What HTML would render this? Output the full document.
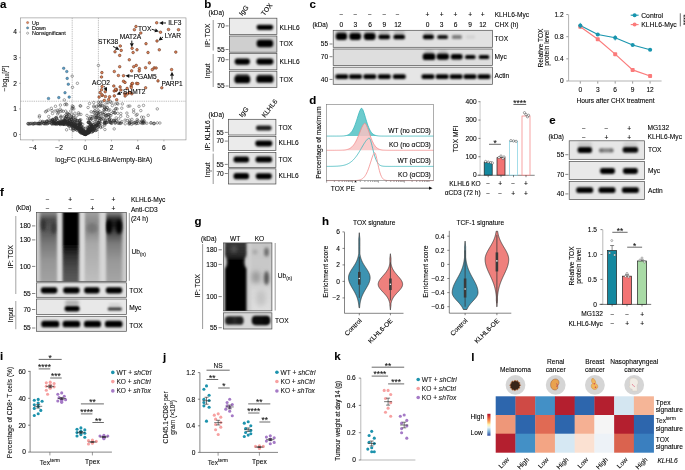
<!DOCTYPE html>
<html><head><meta charset="utf-8"><title>Figure</title>
<style>html,body{margin:0;padding:0;background:#fff;}body{width:685px;height:470px;overflow:hidden;}svg{display:block;filter:blur(0.4px);}text{font-family:"Liberation Sans",sans-serif;stroke:#111;stroke-width:0.1px;}</style>
</head><body>
<svg width="685" height="470" viewBox="0 0 685 470" font-family='"Liberation Sans", sans-serif'>
<defs><filter id="b1" x="-50%" y="-50%" width="200%" height="200%"><feGaussianBlur stdDeviation="1.05"/></filter><filter id="b2" x="-50%" y="-50%" width="200%" height="200%"><feGaussianBlur stdDeviation="1.6"/></filter><filter id="b3" x="-50%" y="-50%" width="200%" height="200%"><feGaussianBlur stdDeviation="2.6"/></filter><marker id="ah" viewBox="0 0 10 10" refX="9" refY="5" markerWidth="4" markerHeight="4" orient="auto-start-reverse"><path d="M0,0 L10,5 L0,10 z" fill="#111"/></marker></defs>
<rect x="0.00" y="0.00" width="685.00" height="470.00" fill="#fff"/>
<text x="0.00" y="7.70" font-size="11.5" font-weight="bold" fill="#000">a</text>
<line x1="72.20" y1="17.90" x2="72.20" y2="139.90" stroke="#8a8a8a" stroke-width="0.55" stroke-dasharray="1.3,0.9"/>
<line x1="98.40" y1="17.90" x2="98.40" y2="139.90" stroke="#8a8a8a" stroke-width="0.55" stroke-dasharray="1.3,0.9"/>
<line x1="20.50" y1="101.22" x2="186.00" y2="101.22" stroke="#8a8a8a" stroke-width="0.55" stroke-dasharray="1.3,0.9"/>
<g fill="none" stroke="#2a2a2a" stroke-width="0.42">
<circle cx="90.1" cy="128.2" r="1.25"/>
<circle cx="75.3" cy="119.6" r="1.25"/>
<circle cx="86.8" cy="133.1" r="1.25"/>
<circle cx="64.8" cy="104.6" r="1.25"/>
<circle cx="68.9" cy="126.3" r="1.25"/>
<circle cx="92.4" cy="124.5" r="1.25"/>
<circle cx="79.0" cy="114.2" r="1.25"/>
<circle cx="77.7" cy="128.5" r="1.25"/>
<circle cx="71.9" cy="126.1" r="1.25"/>
<circle cx="77.5" cy="122.7" r="1.25"/>
<circle cx="92.7" cy="118.0" r="1.25"/>
<circle cx="113.0" cy="112.4" r="1.25"/>
<circle cx="89.7" cy="132.5" r="1.25"/>
<circle cx="91.2" cy="111.8" r="1.25"/>
<circle cx="87.0" cy="133.4" r="1.25"/>
<circle cx="106.2" cy="109.4" r="1.25"/>
<circle cx="81.4" cy="129.7" r="1.25"/>
<circle cx="83.3" cy="130.9" r="1.25"/>
<circle cx="97.9" cy="125.2" r="1.25"/>
<circle cx="90.9" cy="125.0" r="1.25"/>
<circle cx="95.8" cy="117.6" r="1.25"/>
<circle cx="98.7" cy="126.5" r="1.25"/>
<circle cx="88.1" cy="107.5" r="1.25"/>
<circle cx="92.1" cy="128.8" r="1.25"/>
<circle cx="92.1" cy="116.7" r="1.25"/>
<circle cx="68.8" cy="118.7" r="1.25"/>
<circle cx="81.2" cy="123.7" r="1.25"/>
<circle cx="88.4" cy="130.3" r="1.25"/>
<circle cx="96.5" cy="107.3" r="1.25"/>
<circle cx="66.1" cy="103.9" r="1.25"/>
<circle cx="88.9" cy="128.7" r="1.25"/>
<circle cx="81.5" cy="130.4" r="1.25"/>
<circle cx="91.7" cy="125.2" r="1.25"/>
<circle cx="92.8" cy="122.8" r="1.25"/>
<circle cx="104.9" cy="118.0" r="1.25"/>
<circle cx="77.5" cy="120.7" r="1.25"/>
<circle cx="108.4" cy="114.5" r="1.25"/>
<circle cx="66.2" cy="114.7" r="1.25"/>
<circle cx="86.3" cy="133.3" r="1.25"/>
<circle cx="91.9" cy="126.5" r="1.25"/>
<circle cx="68.7" cy="114.0" r="1.25"/>
<circle cx="86.8" cy="133.7" r="1.25"/>
<circle cx="80.7" cy="106.0" r="1.25"/>
<circle cx="90.9" cy="128.8" r="1.25"/>
<circle cx="87.4" cy="132.0" r="1.25"/>
<circle cx="90.7" cy="130.7" r="1.25"/>
<circle cx="84.0" cy="130.7" r="1.25"/>
<circle cx="79.8" cy="131.7" r="1.25"/>
<circle cx="84.8" cy="134.0" r="1.25"/>
<circle cx="94.6" cy="127.9" r="1.25"/>
<circle cx="95.1" cy="110.8" r="1.25"/>
<circle cx="54.3" cy="120.7" r="1.25"/>
<circle cx="100.7" cy="127.5" r="1.25"/>
<circle cx="104.7" cy="125.2" r="1.25"/>
<circle cx="72.5" cy="125.1" r="1.25"/>
<circle cx="64.7" cy="121.0" r="1.25"/>
<circle cx="90.6" cy="128.8" r="1.25"/>
<circle cx="102.4" cy="105.7" r="1.25"/>
<circle cx="99.2" cy="121.1" r="1.25"/>
<circle cx="82.3" cy="133.0" r="1.25"/>
<circle cx="72.3" cy="106.0" r="1.25"/>
<circle cx="81.2" cy="131.2" r="1.25"/>
<circle cx="85.4" cy="134.4" r="1.25"/>
<circle cx="90.0" cy="130.3" r="1.25"/>
<circle cx="57.3" cy="110.3" r="1.25"/>
<circle cx="67.1" cy="113.0" r="1.25"/>
<circle cx="71.4" cy="119.4" r="1.25"/>
<circle cx="93.7" cy="102.5" r="1.25"/>
<circle cx="120.7" cy="116.3" r="1.25"/>
<circle cx="89.0" cy="129.4" r="1.25"/>
<circle cx="70.8" cy="111.0" r="1.25"/>
<circle cx="85.9" cy="132.9" r="1.25"/>
<circle cx="117.9" cy="104.0" r="1.25"/>
<circle cx="94.8" cy="112.7" r="1.25"/>
<circle cx="88.9" cy="129.9" r="1.25"/>
<circle cx="78.5" cy="112.8" r="1.25"/>
<circle cx="73.6" cy="115.9" r="1.25"/>
<circle cx="93.8" cy="105.9" r="1.25"/>
<circle cx="85.3" cy="134.4" r="1.25"/>
<circle cx="79.0" cy="130.7" r="1.25"/>
<circle cx="89.5" cy="125.9" r="1.25"/>
<circle cx="94.4" cy="128.1" r="1.25"/>
<circle cx="93.7" cy="124.6" r="1.25"/>
<circle cx="72.1" cy="108.1" r="1.25"/>
<circle cx="96.1" cy="125.3" r="1.25"/>
<circle cx="114.4" cy="120.5" r="1.25"/>
<circle cx="76.2" cy="121.0" r="1.25"/>
<circle cx="79.8" cy="120.2" r="1.25"/>
<circle cx="87.9" cy="118.8" r="1.25"/>
<circle cx="82.0" cy="131.2" r="1.25"/>
<circle cx="91.8" cy="126.0" r="1.25"/>
<circle cx="95.2" cy="115.2" r="1.25"/>
<circle cx="79.8" cy="130.2" r="1.25"/>
<circle cx="86.0" cy="133.6" r="1.25"/>
<circle cx="87.0" cy="132.8" r="1.25"/>
<circle cx="80.4" cy="128.8" r="1.25"/>
<circle cx="102.9" cy="114.0" r="1.25"/>
<circle cx="94.3" cy="130.2" r="1.25"/>
<circle cx="89.9" cy="126.6" r="1.25"/>
<circle cx="84.4" cy="134.2" r="1.25"/>
<circle cx="75.6" cy="125.2" r="1.25"/>
<circle cx="73.3" cy="106.7" r="1.25"/>
<circle cx="73.8" cy="108.9" r="1.25"/>
<circle cx="81.1" cy="131.1" r="1.25"/>
<circle cx="84.1" cy="130.5" r="1.25"/>
<circle cx="97.7" cy="112.2" r="1.25"/>
<circle cx="80.5" cy="125.7" r="1.25"/>
<circle cx="89.2" cy="130.4" r="1.25"/>
<circle cx="76.0" cy="122.7" r="1.25"/>
<circle cx="76.4" cy="127.4" r="1.25"/>
<circle cx="106.1" cy="115.4" r="1.25"/>
<circle cx="72.4" cy="120.0" r="1.25"/>
<circle cx="87.9" cy="127.7" r="1.25"/>
<circle cx="83.6" cy="133.5" r="1.25"/>
<circle cx="87.1" cy="131.2" r="1.25"/>
<circle cx="104.0" cy="112.2" r="1.25"/>
<circle cx="85.6" cy="133.5" r="1.25"/>
<circle cx="96.7" cy="113.6" r="1.25"/>
<circle cx="80.8" cy="131.7" r="1.25"/>
<circle cx="88.6" cy="132.6" r="1.25"/>
<circle cx="102.4" cy="126.8" r="1.25"/>
<circle cx="75.6" cy="128.8" r="1.25"/>
<circle cx="87.5" cy="133.2" r="1.25"/>
<circle cx="89.3" cy="131.7" r="1.25"/>
<circle cx="66.8" cy="104.7" r="1.25"/>
<circle cx="81.1" cy="131.1" r="1.25"/>
<circle cx="67.8" cy="121.3" r="1.25"/>
<circle cx="90.6" cy="116.5" r="1.25"/>
<circle cx="100.3" cy="116.6" r="1.25"/>
<circle cx="64.7" cy="115.9" r="1.25"/>
<circle cx="113.8" cy="110.8" r="1.25"/>
<circle cx="70.5" cy="128.6" r="1.25"/>
<circle cx="93.2" cy="127.0" r="1.25"/>
<circle cx="121.8" cy="108.2" r="1.25"/>
<circle cx="69.2" cy="120.5" r="1.25"/>
<circle cx="93.9" cy="107.0" r="1.25"/>
<circle cx="60.2" cy="109.2" r="1.25"/>
<circle cx="82.7" cy="124.3" r="1.25"/>
<circle cx="98.2" cy="110.3" r="1.25"/>
<circle cx="93.4" cy="131.0" r="1.25"/>
<circle cx="94.7" cy="110.9" r="1.25"/>
<circle cx="90.5" cy="120.1" r="1.25"/>
<circle cx="104.3" cy="106.9" r="1.25"/>
<circle cx="92.9" cy="131.0" r="1.25"/>
<circle cx="110.0" cy="118.5" r="1.25"/>
<circle cx="80.2" cy="126.6" r="1.25"/>
<circle cx="102.1" cy="101.9" r="1.25"/>
<circle cx="106.6" cy="109.8" r="1.25"/>
<circle cx="79.9" cy="124.0" r="1.25"/>
<circle cx="80.9" cy="114.4" r="1.25"/>
<circle cx="79.4" cy="130.8" r="1.25"/>
<circle cx="110.1" cy="121.2" r="1.25"/>
<circle cx="74.8" cy="119.6" r="1.25"/>
<circle cx="65.7" cy="120.9" r="1.25"/>
<circle cx="89.1" cy="132.6" r="1.25"/>
<circle cx="93.3" cy="112.3" r="1.25"/>
<circle cx="108.8" cy="122.0" r="1.25"/>
<circle cx="89.6" cy="131.6" r="1.25"/>
<circle cx="82.9" cy="132.9" r="1.25"/>
<circle cx="89.0" cy="132.1" r="1.25"/>
<circle cx="80.6" cy="132.5" r="1.25"/>
<circle cx="104.9" cy="129.5" r="1.25"/>
<circle cx="93.6" cy="124.7" r="1.25"/>
<circle cx="114.2" cy="128.9" r="1.25"/>
<circle cx="89.7" cy="123.2" r="1.25"/>
<circle cx="86.3" cy="132.0" r="1.25"/>
<circle cx="96.3" cy="121.9" r="1.25"/>
<circle cx="87.5" cy="132.9" r="1.25"/>
<circle cx="105.7" cy="122.6" r="1.25"/>
<circle cx="80.0" cy="126.6" r="1.25"/>
<circle cx="101.3" cy="119.1" r="1.25"/>
<circle cx="76.6" cy="127.1" r="1.25"/>
<circle cx="81.4" cy="128.8" r="1.25"/>
<circle cx="93.2" cy="131.0" r="1.25"/>
<circle cx="77.3" cy="128.8" r="1.25"/>
<circle cx="106.9" cy="102.3" r="1.25"/>
<circle cx="84.9" cy="134.1" r="1.25"/>
<circle cx="72.9" cy="130.1" r="1.25"/>
<circle cx="82.2" cy="131.2" r="1.25"/>
<circle cx="81.2" cy="125.9" r="1.25"/>
<circle cx="93.3" cy="128.6" r="1.25"/>
<circle cx="100.6" cy="126.7" r="1.25"/>
<circle cx="89.9" cy="128.2" r="1.25"/>
<circle cx="108.4" cy="117.1" r="1.25"/>
<circle cx="89.5" cy="119.1" r="1.25"/>
<circle cx="104.9" cy="104.9" r="1.25"/>
<circle cx="78.6" cy="128.4" r="1.25"/>
<circle cx="115.1" cy="113.0" r="1.25"/>
<circle cx="90.9" cy="126.3" r="1.25"/>
<circle cx="97.8" cy="127.2" r="1.25"/>
<circle cx="79.6" cy="129.9" r="1.25"/>
<circle cx="89.3" cy="131.3" r="1.25"/>
<circle cx="94.2" cy="115.9" r="1.25"/>
<circle cx="87.2" cy="131.7" r="1.25"/>
<circle cx="88.0" cy="132.5" r="1.25"/>
<circle cx="47.3" cy="123.5" r="1.25"/>
<circle cx="72.5" cy="108.4" r="1.25"/>
<circle cx="104.7" cy="121.4" r="1.25"/>
<circle cx="92.2" cy="131.2" r="1.25"/>
<circle cx="89.2" cy="132.5" r="1.25"/>
<circle cx="107.4" cy="122.2" r="1.25"/>
<circle cx="88.3" cy="127.8" r="1.25"/>
<circle cx="78.8" cy="124.1" r="1.25"/>
<circle cx="111.3" cy="113.6" r="1.25"/>
<circle cx="79.3" cy="120.6" r="1.25"/>
<circle cx="63.2" cy="111.3" r="1.25"/>
<circle cx="98.3" cy="117.4" r="1.25"/>
<circle cx="86.3" cy="133.1" r="1.25"/>
<circle cx="99.4" cy="120.4" r="1.25"/>
<circle cx="74.9" cy="113.2" r="1.25"/>
<circle cx="73.2" cy="127.9" r="1.25"/>
<circle cx="79.0" cy="128.3" r="1.25"/>
<circle cx="83.5" cy="132.8" r="1.25"/>
<circle cx="75.7" cy="124.7" r="1.25"/>
<circle cx="98.1" cy="122.7" r="1.25"/>
<circle cx="96.8" cy="129.4" r="1.25"/>
<circle cx="90.2" cy="129.7" r="1.25"/>
<circle cx="104.7" cy="107.8" r="1.25"/>
<circle cx="80.9" cy="128.3" r="1.25"/>
<circle cx="88.6" cy="122.3" r="1.25"/>
<circle cx="79.9" cy="120.2" r="1.25"/>
<circle cx="108.0" cy="102.8" r="1.25"/>
<circle cx="80.5" cy="129.2" r="1.25"/>
<circle cx="86.0" cy="133.7" r="1.25"/>
<circle cx="87.0" cy="115.4" r="1.25"/>
<circle cx="84.3" cy="133.5" r="1.25"/>
<circle cx="105.5" cy="114.2" r="1.25"/>
<circle cx="99.6" cy="105.9" r="1.25"/>
<circle cx="65.6" cy="118.1" r="1.25"/>
<circle cx="101.6" cy="117.0" r="1.25"/>
<circle cx="96.6" cy="130.2" r="1.25"/>
<circle cx="93.2" cy="128.7" r="1.25"/>
<circle cx="68.8" cy="114.4" r="1.25"/>
<circle cx="97.1" cy="117.7" r="1.25"/>
<circle cx="89.9" cy="131.0" r="1.25"/>
<circle cx="98.4" cy="102.2" r="1.25"/>
<circle cx="105.0" cy="120.7" r="1.25"/>
<circle cx="82.6" cy="131.8" r="1.25"/>
<circle cx="88.8" cy="132.1" r="1.25"/>
<circle cx="100.9" cy="123.6" r="1.25"/>
<circle cx="84.0" cy="133.3" r="1.25"/>
<circle cx="72.3" cy="126.6" r="1.25"/>
<circle cx="74.9" cy="122.2" r="1.25"/>
<circle cx="102.3" cy="112.7" r="1.25"/>
<circle cx="91.0" cy="118.9" r="1.25"/>
<circle cx="115.2" cy="104.0" r="1.25"/>
<circle cx="55.1" cy="111.0" r="1.25"/>
<circle cx="81.8" cy="132.0" r="1.25"/>
<circle cx="95.9" cy="118.2" r="1.25"/>
<circle cx="69.1" cy="120.3" r="1.25"/>
<circle cx="82.8" cy="127.9" r="1.25"/>
<circle cx="94.9" cy="126.2" r="1.25"/>
<circle cx="79.8" cy="124.1" r="1.25"/>
<circle cx="92.5" cy="129.9" r="1.25"/>
<circle cx="72.5" cy="87.3" r="1.25"/>
<circle cx="117.1" cy="103.3" r="1.25"/>
<circle cx="81.6" cy="130.9" r="1.25"/>
<circle cx="85.4" cy="134.3" r="1.25"/>
<circle cx="65.7" cy="111.1" r="1.25"/>
<circle cx="100.4" cy="106.2" r="1.25"/>
<circle cx="92.8" cy="128.5" r="1.25"/>
<circle cx="77.7" cy="120.8" r="1.25"/>
<circle cx="110.6" cy="101.8" r="1.25"/>
<circle cx="99.2" cy="124.6" r="1.25"/>
<circle cx="83.5" cy="131.2" r="1.25"/>
<circle cx="98.9" cy="118.7" r="1.25"/>
<circle cx="80.8" cy="119.8" r="1.25"/>
<circle cx="77.2" cy="126.9" r="1.25"/>
<circle cx="109.8" cy="109.8" r="1.25"/>
<circle cx="82.5" cy="131.8" r="1.25"/>
<circle cx="98.2" cy="113.0" r="1.25"/>
<circle cx="83.2" cy="133.5" r="1.25"/>
<circle cx="87.8" cy="133.1" r="1.25"/>
<circle cx="97.0" cy="116.4" r="1.25"/>
<circle cx="98.0" cy="113.3" r="1.25"/>
<circle cx="77.0" cy="128.4" r="1.25"/>
<circle cx="91.9" cy="128.2" r="1.25"/>
<circle cx="95.6" cy="130.5" r="1.25"/>
<circle cx="95.3" cy="126.1" r="1.25"/>
<circle cx="75.3" cy="124.6" r="1.25"/>
<circle cx="84.1" cy="133.3" r="1.25"/>
<circle cx="91.8" cy="118.9" r="1.25"/>
<circle cx="86.0" cy="133.8" r="1.25"/>
<circle cx="96.4" cy="117.9" r="1.25"/>
<circle cx="89.5" cy="118.4" r="1.25"/>
<circle cx="88.1" cy="128.2" r="1.25"/>
<circle cx="91.9" cy="129.0" r="1.25"/>
<circle cx="86.4" cy="134.0" r="1.25"/>
<circle cx="86.2" cy="133.3" r="1.25"/>
<circle cx="98.5" cy="122.7" r="1.25"/>
<circle cx="128.1" cy="106.2" r="1.25"/>
<circle cx="120.8" cy="113.5" r="1.25"/>
<circle cx="82.5" cy="132.7" r="1.25"/>
<circle cx="85.9" cy="133.1" r="1.25"/>
<circle cx="95.8" cy="124.4" r="1.25"/>
<circle cx="104.0" cy="109.5" r="1.25"/>
<circle cx="88.6" cy="129.2" r="1.25"/>
<circle cx="87.4" cy="133.2" r="1.25"/>
<circle cx="108.6" cy="110.4" r="1.25"/>
<circle cx="73.6" cy="128.7" r="1.25"/>
<circle cx="89.1" cy="122.4" r="1.25"/>
<circle cx="91.5" cy="127.6" r="1.25"/>
<circle cx="117.1" cy="108.9" r="1.25"/>
<circle cx="75.5" cy="118.5" r="1.25"/>
<circle cx="68.0" cy="124.9" r="1.25"/>
<circle cx="91.9" cy="132.3" r="1.25"/>
<circle cx="97.7" cy="126.7" r="1.25"/>
<circle cx="77.9" cy="125.2" r="1.25"/>
<circle cx="90.0" cy="131.0" r="1.25"/>
<circle cx="84.4" cy="133.9" r="1.25"/>
<circle cx="100.5" cy="102.0" r="1.25"/>
<circle cx="84.5" cy="132.4" r="1.25"/>
<circle cx="90.2" cy="129.5" r="1.25"/>
<circle cx="88.4" cy="122.0" r="1.25"/>
<circle cx="96.7" cy="125.8" r="1.25"/>
<circle cx="93.6" cy="127.8" r="1.25"/>
<circle cx="75.7" cy="119.9" r="1.25"/>
<circle cx="76.8" cy="115.8" r="1.25"/>
<circle cx="96.5" cy="124.8" r="1.25"/>
<circle cx="89.1" cy="128.8" r="1.25"/>
<circle cx="98.7" cy="124.0" r="1.25"/>
<circle cx="81.7" cy="131.3" r="1.25"/>
<circle cx="81.9" cy="130.3" r="1.25"/>
<circle cx="109.7" cy="115.3" r="1.25"/>
<circle cx="104.9" cy="124.1" r="1.25"/>
<circle cx="98.6" cy="104.8" r="1.25"/>
<circle cx="100.7" cy="104.9" r="1.25"/>
<circle cx="87.5" cy="130.9" r="1.25"/>
<circle cx="105.7" cy="116.1" r="1.25"/>
<circle cx="89.9" cy="129.4" r="1.25"/>
<circle cx="58.1" cy="111.2" r="1.25"/>
<circle cx="89.5" cy="103.5" r="1.25"/>
<circle cx="89.3" cy="130.7" r="1.25"/>
<circle cx="91.5" cy="130.0" r="1.25"/>
<circle cx="87.1" cy="132.6" r="1.25"/>
<circle cx="66.9" cy="117.0" r="1.25"/>
<circle cx="57.7" cy="113.9" r="1.25"/>
<circle cx="111.5" cy="102.6" r="1.25"/>
<circle cx="73.4" cy="130.4" r="1.25"/>
<circle cx="80.9" cy="128.1" r="1.25"/>
<circle cx="73.5" cy="127.6" r="1.25"/>
<circle cx="86.9" cy="133.4" r="1.25"/>
<circle cx="89.0" cy="132.3" r="1.25"/>
<circle cx="103.9" cy="114.7" r="1.25"/>
<circle cx="107.2" cy="107.8" r="1.25"/>
<circle cx="83.8" cy="132.8" r="1.25"/>
<circle cx="96.7" cy="125.0" r="1.25"/>
<circle cx="70.6" cy="117.5" r="1.25"/>
<circle cx="114.4" cy="112.7" r="1.25"/>
<circle cx="95.6" cy="130.3" r="1.25"/>
<circle cx="85.5" cy="134.4" r="1.25"/>
<circle cx="115.4" cy="109.1" r="1.25"/>
<circle cx="96.6" cy="106.3" r="1.25"/>
<circle cx="55.5" cy="106.3" r="1.25"/>
<circle cx="80.9" cy="132.9" r="1.25"/>
<circle cx="86.0" cy="134.0" r="1.25"/>
<circle cx="82.6" cy="133.3" r="1.25"/>
<circle cx="79.6" cy="121.4" r="1.25"/>
<circle cx="82.1" cy="132.7" r="1.25"/>
<circle cx="89.8" cy="122.8" r="1.25"/>
<circle cx="75.2" cy="128.5" r="1.25"/>
<circle cx="89.6" cy="122.6" r="1.25"/>
<circle cx="81.5" cy="133.1" r="1.25"/>
<circle cx="87.5" cy="133.3" r="1.25"/>
<circle cx="82.7" cy="132.4" r="1.25"/>
<circle cx="84.5" cy="133.9" r="1.25"/>
<circle cx="83.9" cy="132.3" r="1.25"/>
<circle cx="84.5" cy="132.1" r="1.25"/>
<circle cx="94.1" cy="128.9" r="1.25"/>
<circle cx="76.7" cy="129.7" r="1.25"/>
<circle cx="83.5" cy="133.9" r="1.25"/>
<circle cx="80.4" cy="123.7" r="1.25"/>
<circle cx="96.0" cy="115.8" r="1.25"/>
<circle cx="91.2" cy="128.5" r="1.25"/>
<circle cx="75.0" cy="123.3" r="1.25"/>
<circle cx="111.6" cy="122.5" r="1.25"/>
<circle cx="101.3" cy="105.8" r="1.25"/>
<circle cx="89.9" cy="126.8" r="1.25"/>
<circle cx="94.9" cy="129.1" r="1.25"/>
<circle cx="81.8" cy="131.2" r="1.25"/>
<circle cx="69.4" cy="125.7" r="1.25"/>
<circle cx="86.7" cy="132.4" r="1.25"/>
<circle cx="90.6" cy="128.8" r="1.25"/>
<circle cx="85.1" cy="134.2" r="1.25"/>
<circle cx="92.5" cy="131.3" r="1.25"/>
<circle cx="83.5" cy="132.7" r="1.25"/>
<circle cx="80.4" cy="131.1" r="1.25"/>
<circle cx="80.9" cy="128.8" r="1.25"/>
<circle cx="75.2" cy="124.4" r="1.25"/>
<circle cx="126.9" cy="113.1" r="1.25"/>
<circle cx="97.0" cy="125.4" r="1.25"/>
<circle cx="87.0" cy="133.7" r="1.25"/>
<circle cx="96.5" cy="125.7" r="1.25"/>
<circle cx="116.2" cy="117.9" r="1.25"/>
<circle cx="86.7" cy="133.5" r="1.25"/>
<circle cx="88.5" cy="122.6" r="1.25"/>
<circle cx="101.0" cy="113.5" r="1.25"/>
<circle cx="95.1" cy="125.0" r="1.25"/>
<circle cx="66.6" cy="129.8" r="1.25"/>
<circle cx="93.7" cy="127.0" r="1.25"/>
<circle cx="75.6" cy="129.2" r="1.25"/>
<circle cx="100.0" cy="111.9" r="1.25"/>
<circle cx="105.2" cy="108.4" r="1.25"/>
<circle cx="80.4" cy="131.6" r="1.25"/>
<circle cx="79.3" cy="131.6" r="1.25"/>
<circle cx="68.1" cy="117.3" r="1.25"/>
<circle cx="104.5" cy="122.5" r="1.25"/>
<circle cx="95.5" cy="119.5" r="1.25"/>
<circle cx="66.3" cy="116.5" r="1.25"/>
<circle cx="104.1" cy="110.0" r="1.25"/>
<circle cx="87.6" cy="132.0" r="1.25"/>
<circle cx="81.4" cy="132.5" r="1.25"/>
<circle cx="65.7" cy="118.0" r="1.25"/>
<circle cx="80.1" cy="105.8" r="1.25"/>
<circle cx="98.3" cy="115.4" r="1.25"/>
<circle cx="99.6" cy="123.6" r="1.25"/>
<circle cx="95.0" cy="121.3" r="1.25"/>
<circle cx="72.7" cy="128.6" r="1.25"/>
<circle cx="74.8" cy="125.6" r="1.25"/>
<circle cx="83.8" cy="133.6" r="1.25"/>
<circle cx="84.1" cy="133.8" r="1.25"/>
<circle cx="76.8" cy="130.2" r="1.25"/>
<circle cx="122.3" cy="103.9" r="1.25"/>
<circle cx="106.4" cy="115.5" r="1.25"/>
<circle cx="71.8" cy="123.6" r="1.25"/>
<circle cx="80.8" cy="130.1" r="1.25"/>
<circle cx="63.9" cy="124.4" r="1.25"/>
<circle cx="72.3" cy="124.5" r="1.25"/>
<circle cx="87.0" cy="132.5" r="1.25"/>
<circle cx="77.8" cy="128.1" r="1.25"/>
<circle cx="55.2" cy="123.6" r="1.25"/>
<circle cx="84.9" cy="133.5" r="1.25"/>
<circle cx="54.9" cy="121.9" r="1.25"/>
<circle cx="54.3" cy="122.7" r="1.25"/>
<circle cx="78.4" cy="124.2" r="1.25"/>
<circle cx="74.3" cy="126.0" r="1.25"/>
<circle cx="78.5" cy="127.9" r="1.25"/>
<circle cx="79.5" cy="125.4" r="1.25"/>
<circle cx="81.4" cy="128.3" r="1.25"/>
<circle cx="88.9" cy="129.9" r="1.25"/>
<circle cx="70.8" cy="125.6" r="1.25"/>
<circle cx="73.6" cy="126.0" r="1.25"/>
<circle cx="69.5" cy="124.6" r="1.25"/>
<circle cx="63.5" cy="122.5" r="1.25"/>
<circle cx="65.3" cy="121.1" r="1.25"/>
<circle cx="77.7" cy="125.5" r="1.25"/>
<circle cx="75.4" cy="125.5" r="1.25"/>
<circle cx="90.2" cy="125.2" r="1.25"/>
<circle cx="73.6" cy="117.5" r="1.25"/>
<circle cx="65.2" cy="124.4" r="1.25"/>
<circle cx="57.6" cy="123.6" r="1.25"/>
<circle cx="84.6" cy="132.1" r="1.25"/>
<circle cx="91.8" cy="125.6" r="1.25"/>
<circle cx="79.1" cy="127.1" r="1.25"/>
<circle cx="82.1" cy="128.5" r="1.25"/>
<circle cx="67.6" cy="123.0" r="1.25"/>
<circle cx="63.4" cy="120.3" r="1.25"/>
<circle cx="68.6" cy="118.6" r="1.25"/>
<circle cx="57.6" cy="123.9" r="1.25"/>
<circle cx="77.6" cy="125.5" r="1.25"/>
<circle cx="52.4" cy="119.8" r="1.25"/>
<circle cx="72.3" cy="123.6" r="1.25"/>
<circle cx="86.2" cy="133.5" r="1.25"/>
<circle cx="67.9" cy="124.9" r="1.25"/>
<circle cx="76.5" cy="127.6" r="1.25"/>
<circle cx="75.5" cy="126.6" r="1.25"/>
<circle cx="68.7" cy="124.1" r="1.25"/>
<circle cx="78.2" cy="127.2" r="1.25"/>
<circle cx="71.3" cy="124.1" r="1.25"/>
<circle cx="91.0" cy="124.8" r="1.25"/>
<circle cx="60.2" cy="123.5" r="1.25"/>
<circle cx="65.2" cy="119.8" r="1.25"/>
<circle cx="80.5" cy="122.7" r="1.25"/>
<circle cx="79.1" cy="128.5" r="1.25"/>
<circle cx="80.8" cy="129.6" r="1.25"/>
<circle cx="59.2" cy="123.4" r="1.25"/>
<circle cx="76.3" cy="127.6" r="1.25"/>
<circle cx="64.9" cy="122.8" r="1.25"/>
<circle cx="80.3" cy="122.9" r="1.25"/>
<circle cx="69.6" cy="123.3" r="1.25"/>
<circle cx="61.6" cy="121.7" r="1.25"/>
<circle cx="98.7" cy="122.5" r="1.25"/>
<circle cx="83.2" cy="127.5" r="1.25"/>
<circle cx="78.3" cy="127.5" r="1.25"/>
<circle cx="63.6" cy="124.3" r="1.25"/>
<circle cx="72.0" cy="125.9" r="1.25"/>
<circle cx="71.7" cy="125.4" r="1.25"/>
<circle cx="80.4" cy="129.9" r="1.25"/>
<circle cx="84.0" cy="133.0" r="1.25"/>
<circle cx="78.0" cy="127.4" r="1.25"/>
<circle cx="79.3" cy="129.1" r="1.25"/>
<circle cx="86.3" cy="133.0" r="1.25"/>
<circle cx="63.3" cy="123.8" r="1.25"/>
<circle cx="68.4" cy="124.9" r="1.25"/>
<circle cx="84.0" cy="128.7" r="1.25"/>
<circle cx="88.0" cy="130.2" r="1.25"/>
<circle cx="74.2" cy="126.6" r="1.25"/>
<circle cx="83.5" cy="131.8" r="1.25"/>
<circle cx="81.3" cy="126.5" r="1.25"/>
<circle cx="76.2" cy="120.6" r="1.25"/>
<circle cx="77.0" cy="126.2" r="1.25"/>
<circle cx="83.7" cy="132.7" r="1.25"/>
<circle cx="86.6" cy="131.4" r="1.25"/>
<circle cx="98.1" cy="123.4" r="1.25"/>
<circle cx="71.7" cy="125.3" r="1.25"/>
<circle cx="70.0" cy="122.2" r="1.25"/>
<circle cx="80.1" cy="128.0" r="1.25"/>
<circle cx="76.7" cy="127.2" r="1.25"/>
<circle cx="64.5" cy="120.8" r="1.25"/>
<circle cx="97.8" cy="122.4" r="1.25"/>
<circle cx="72.6" cy="122.3" r="1.25"/>
<circle cx="74.3" cy="125.1" r="1.25"/>
<circle cx="66.4" cy="123.9" r="1.25"/>
<circle cx="77.6" cy="127.5" r="1.25"/>
<circle cx="75.3" cy="126.5" r="1.25"/>
<circle cx="64.4" cy="123.3" r="1.25"/>
<circle cx="61.3" cy="117.2" r="1.25"/>
<circle cx="69.3" cy="124.8" r="1.25"/>
<circle cx="81.1" cy="129.9" r="1.25"/>
<circle cx="79.5" cy="124.0" r="1.25"/>
<circle cx="90.6" cy="125.4" r="1.25"/>
<circle cx="57.8" cy="120.3" r="1.25"/>
<circle cx="77.0" cy="127.8" r="1.25"/>
<circle cx="61.0" cy="120.8" r="1.25"/>
<circle cx="52.9" cy="120.6" r="1.25"/>
<circle cx="67.5" cy="121.5" r="1.25"/>
<circle cx="75.8" cy="126.5" r="1.25"/>
<circle cx="84.7" cy="132.6" r="1.25"/>
<circle cx="51.6" cy="120.8" r="1.25"/>
<circle cx="91.4" cy="128.7" r="1.25"/>
<circle cx="79.5" cy="123.9" r="1.25"/>
<circle cx="79.7" cy="125.7" r="1.25"/>
<circle cx="88.2" cy="122.5" r="1.25"/>
<circle cx="92.4" cy="126.1" r="1.25"/>
<circle cx="66.0" cy="124.5" r="1.25"/>
<circle cx="86.8" cy="132.8" r="1.25"/>
<circle cx="91.6" cy="127.3" r="1.25"/>
<circle cx="71.7" cy="119.7" r="1.25"/>
<circle cx="53.0" cy="119.8" r="1.25"/>
<circle cx="84.5" cy="133.0" r="1.25"/>
<circle cx="74.7" cy="126.3" r="1.25"/>
<circle cx="84.6" cy="131.7" r="1.25"/>
<circle cx="74.1" cy="126.4" r="1.25"/>
<circle cx="87.1" cy="127.0" r="1.25"/>
<circle cx="66.9" cy="123.0" r="1.25"/>
<circle cx="85.2" cy="129.0" r="1.25"/>
<circle cx="51.7" cy="122.2" r="1.25"/>
<circle cx="87.4" cy="130.5" r="1.25"/>
<circle cx="72.6" cy="124.9" r="1.25"/>
<circle cx="74.5" cy="126.4" r="1.25"/>
<circle cx="95.9" cy="126.4" r="1.25"/>
<circle cx="75.3" cy="125.7" r="1.25"/>
<circle cx="72.5" cy="125.3" r="1.25"/>
<circle cx="60.0" cy="122.5" r="1.25"/>
<circle cx="55.4" cy="123.7" r="1.25"/>
<circle cx="67.8" cy="123.2" r="1.25"/>
<circle cx="74.9" cy="123.6" r="1.25"/>
<circle cx="84.3" cy="131.7" r="1.25"/>
<circle cx="56.4" cy="118.3" r="1.25"/>
<circle cx="67.3" cy="123.7" r="1.25"/>
<circle cx="64.2" cy="122.9" r="1.25"/>
<circle cx="65.7" cy="122.1" r="1.25"/>
<circle cx="60.9" cy="122.8" r="1.25"/>
<circle cx="79.1" cy="122.6" r="1.25"/>
<circle cx="67.3" cy="118.5" r="1.25"/>
<circle cx="51.9" cy="123.1" r="1.25"/>
<circle cx="64.5" cy="120.4" r="1.25"/>
<circle cx="78.7" cy="127.5" r="1.25"/>
<circle cx="79.4" cy="129.1" r="1.25"/>
<circle cx="55.5" cy="123.3" r="1.25"/>
<circle cx="35.6" cy="123.5" r="1.25"/>
<circle cx="31.4" cy="123.5" r="1.25"/>
<circle cx="40.1" cy="123.3" r="1.25"/>
<circle cx="59.1" cy="123.2" r="1.25"/>
<circle cx="56.3" cy="124.3" r="1.25"/>
<circle cx="29.4" cy="124.0" r="1.25"/>
<circle cx="28.0" cy="123.5" r="1.25"/>
<circle cx="33.8" cy="123.6" r="1.25"/>
<circle cx="45.4" cy="123.5" r="1.25"/>
<circle cx="51.9" cy="123.7" r="1.25"/>
<circle cx="37.9" cy="123.5" r="1.25"/>
<circle cx="63.6" cy="124.1" r="1.25"/>
<circle cx="63.7" cy="123.9" r="1.25"/>
<circle cx="52.2" cy="124.0" r="1.25"/>
<circle cx="62.0" cy="124.0" r="1.25"/>
<circle cx="28.2" cy="123.6" r="1.25"/>
<circle cx="60.5" cy="124.5" r="1.25"/>
<circle cx="54.6" cy="123.2" r="1.25"/>
<circle cx="54.4" cy="123.6" r="1.25"/>
<circle cx="59.6" cy="124.3" r="1.25"/>
<circle cx="34.3" cy="123.4" r="1.25"/>
<circle cx="54.9" cy="123.3" r="1.25"/>
<circle cx="43.4" cy="123.2" r="1.25"/>
<circle cx="38.6" cy="123.7" r="1.25"/>
<circle cx="39.1" cy="123.7" r="1.25"/>
<circle cx="48.7" cy="123.1" r="1.25"/>
<circle cx="41.1" cy="123.4" r="1.25"/>
<circle cx="34.9" cy="123.2" r="1.25"/>
<circle cx="61.9" cy="123.4" r="1.25"/>
<circle cx="32.7" cy="124.0" r="1.25"/>
<circle cx="44.1" cy="123.7" r="1.25"/>
<circle cx="30.3" cy="123.8" r="1.25"/>
<circle cx="45.0" cy="123.6" r="1.25"/>
<circle cx="55.6" cy="123.6" r="1.25"/>
<circle cx="62.5" cy="123.6" r="1.25"/>
<circle cx="56.9" cy="123.8" r="1.25"/>
<circle cx="36.5" cy="123.5" r="1.25"/>
<circle cx="53.7" cy="123.9" r="1.25"/>
<circle cx="51.6" cy="123.7" r="1.25"/>
<circle cx="63.7" cy="123.7" r="1.25"/>
<circle cx="37.5" cy="123.7" r="1.25"/>
<circle cx="44.1" cy="123.6" r="1.25"/>
<circle cx="30.1" cy="123.4" r="1.25"/>
<circle cx="60.4" cy="123.6" r="1.25"/>
<circle cx="46.2" cy="124.0" r="1.25"/>
<circle cx="33.7" cy="124.0" r="1.25"/>
<circle cx="39.1" cy="123.5" r="1.25"/>
<circle cx="28.3" cy="124.1" r="1.25"/>
<circle cx="38.4" cy="123.3" r="1.25"/>
<circle cx="41.0" cy="124.0" r="1.25"/>
<circle cx="62.3" cy="123.6" r="1.25"/>
<circle cx="59.6" cy="123.3" r="1.25"/>
<circle cx="55.0" cy="123.5" r="1.25"/>
<circle cx="58.4" cy="123.2" r="1.25"/>
<circle cx="32.4" cy="123.4" r="1.25"/>
<circle cx="39.7" cy="123.8" r="1.25"/>
<circle cx="53.6" cy="123.5" r="1.25"/>
<circle cx="47.5" cy="123.6" r="1.25"/>
<circle cx="54.7" cy="123.5" r="1.25"/>
<circle cx="57.1" cy="122.2" r="1.25"/>
<circle cx="69.3" cy="123.5" r="1.25"/>
<circle cx="57.1" cy="123.3" r="1.25"/>
<circle cx="73.5" cy="122.6" r="1.25"/>
<circle cx="67.0" cy="122.3" r="1.25"/>
<circle cx="70.1" cy="123.5" r="1.25"/>
<circle cx="64.9" cy="122.7" r="1.25"/>
<circle cx="72.0" cy="123.7" r="1.25"/>
<circle cx="66.7" cy="123.5" r="1.25"/>
<circle cx="68.3" cy="123.7" r="1.25"/>
<circle cx="69.5" cy="122.4" r="1.25"/>
<circle cx="60.7" cy="122.9" r="1.25"/>
<circle cx="62.3" cy="123.2" r="1.25"/>
<circle cx="66.9" cy="121.2" r="1.25"/>
<circle cx="68.0" cy="123.0" r="1.25"/>
<circle cx="61.2" cy="123.7" r="1.25"/>
<circle cx="62.6" cy="121.4" r="1.25"/>
<circle cx="58.3" cy="123.1" r="1.25"/>
<circle cx="62.8" cy="123.5" r="1.25"/>
<circle cx="71.1" cy="121.4" r="1.25"/>
<circle cx="64.6" cy="121.3" r="1.25"/>
<circle cx="59.8" cy="123.7" r="1.25"/>
<circle cx="59.4" cy="121.4" r="1.25"/>
<circle cx="61.9" cy="122.4" r="1.25"/>
<circle cx="61.7" cy="123.7" r="1.25"/>
<circle cx="71.2" cy="123.4" r="1.25"/>
<circle cx="67.4" cy="121.8" r="1.25"/>
<circle cx="64.0" cy="122.3" r="1.25"/>
<circle cx="62.8" cy="122.4" r="1.25"/>
<circle cx="65.2" cy="122.4" r="1.25"/>
<circle cx="73.5" cy="123.1" r="1.25"/>
<circle cx="64.9" cy="121.7" r="1.25"/>
<circle cx="64.4" cy="123.5" r="1.25"/>
<circle cx="61.0" cy="123.3" r="1.25"/>
<circle cx="69.2" cy="122.9" r="1.25"/>
<circle cx="144.7" cy="123.1" r="1.25"/>
<circle cx="115.2" cy="123.3" r="1.25"/>
<circle cx="131.5" cy="124.3" r="1.25"/>
<circle cx="125.2" cy="123.8" r="1.25"/>
<circle cx="146.8" cy="123.2" r="1.25"/>
<circle cx="138.4" cy="123.3" r="1.25"/>
<circle cx="111.9" cy="123.4" r="1.25"/>
<circle cx="117.9" cy="123.2" r="1.25"/>
<circle cx="135.6" cy="123.6" r="1.25"/>
<circle cx="104.3" cy="123.0" r="1.25"/>
<circle cx="141.5" cy="123.1" r="1.25"/>
<circle cx="142.6" cy="123.4" r="1.25"/>
<circle cx="132.7" cy="123.5" r="1.25"/>
<circle cx="129.8" cy="123.4" r="1.25"/>
<circle cx="154.0" cy="123.2" r="1.25"/>
<circle cx="114.9" cy="122.3" r="1.25"/>
<circle cx="104.6" cy="123.4" r="1.25"/>
<circle cx="129.5" cy="122.8" r="1.25"/>
<circle cx="129.0" cy="124.1" r="1.25"/>
<circle cx="118.8" cy="123.0" r="1.25"/>
<circle cx="115.5" cy="122.3" r="1.25"/>
<circle cx="136.4" cy="122.9" r="1.25"/>
<circle cx="157.3" cy="122.9" r="1.25"/>
<circle cx="111.1" cy="123.0" r="1.25"/>
<circle cx="153.6" cy="123.7" r="1.25"/>
<circle cx="143.3" cy="123.1" r="1.25"/>
<circle cx="131.0" cy="122.4" r="1.25"/>
<circle cx="105.0" cy="122.8" r="1.25"/>
<circle cx="129.0" cy="123.2" r="1.25"/>
<circle cx="120.6" cy="123.0" r="1.25"/>
<circle cx="121.4" cy="123.0" r="1.25"/>
<circle cx="151.0" cy="122.6" r="1.25"/>
<circle cx="150.9" cy="123.2" r="1.25"/>
<circle cx="110.4" cy="122.7" r="1.25"/>
<circle cx="154.4" cy="123.5" r="1.25"/>
<circle cx="120.0" cy="123.5" r="1.25"/>
<circle cx="159.9" cy="123.0" r="1.25"/>
<circle cx="136.8" cy="123.5" r="1.25"/>
<circle cx="119.1" cy="122.9" r="1.25"/>
<circle cx="106.4" cy="122.7" r="1.25"/>
<circle cx="48.2" cy="110.1" r="1.25"/>
<circle cx="47.0" cy="121.3" r="1.25"/>
<circle cx="56.2" cy="121.8" r="1.25"/>
<circle cx="51.3" cy="108.3" r="1.25"/>
<circle cx="69.4" cy="115.0" r="1.25"/>
<circle cx="60.5" cy="111.4" r="1.25"/>
<circle cx="71.4" cy="119.1" r="1.25"/>
<circle cx="63.6" cy="122.5" r="1.25"/>
<circle cx="64.0" cy="120.0" r="1.25"/>
<circle cx="64.8" cy="118.0" r="1.25"/>
<circle cx="48.3" cy="122.5" r="1.25"/>
<circle cx="70.9" cy="122.1" r="1.25"/>
<circle cx="54.8" cy="120.8" r="1.25"/>
<circle cx="48.7" cy="116.5" r="1.25"/>
<circle cx="72.7" cy="121.3" r="1.25"/>
<circle cx="61.3" cy="121.1" r="1.25"/>
<circle cx="57.9" cy="120.4" r="1.25"/>
<circle cx="44.1" cy="121.9" r="1.25"/>
<circle cx="45.5" cy="111.8" r="1.25"/>
<circle cx="55.7" cy="121.6" r="1.25"/>
<circle cx="54.1" cy="122.0" r="1.25"/>
<circle cx="44.9" cy="122.3" r="1.25"/>
<circle cx="50.2" cy="122.3" r="1.25"/>
<circle cx="46.6" cy="121.3" r="1.25"/>
<circle cx="58.3" cy="112.7" r="1.25"/>
<circle cx="64.7" cy="120.3" r="1.25"/>
<circle cx="52.8" cy="119.3" r="1.25"/>
<circle cx="51.5" cy="120.8" r="1.25"/>
<circle cx="40.3" cy="121.2" r="1.25"/>
<circle cx="72.4" cy="122.1" r="1.25"/>
<circle cx="55.9" cy="118.1" r="1.25"/>
<circle cx="68.7" cy="121.6" r="1.25"/>
<circle cx="47.7" cy="121.4" r="1.25"/>
<circle cx="52.3" cy="120.0" r="1.25"/>
<circle cx="71.9" cy="114.0" r="1.25"/>
<circle cx="69.0" cy="122.6" r="1.25"/>
<circle cx="39.3" cy="117.0" r="1.25"/>
<circle cx="69.8" cy="119.8" r="1.25"/>
<circle cx="58.9" cy="122.7" r="1.25"/>
<circle cx="52.0" cy="110.7" r="1.25"/>
<circle cx="67.3" cy="113.8" r="1.25"/>
<circle cx="72.5" cy="121.4" r="1.25"/>
<circle cx="42.0" cy="122.0" r="1.25"/>
<circle cx="56.6" cy="117.4" r="1.25"/>
<circle cx="71.4" cy="116.8" r="1.25"/>
<circle cx="61.0" cy="116.1" r="1.25"/>
<circle cx="54.3" cy="119.0" r="1.25"/>
<circle cx="39.5" cy="115.7" r="1.25"/>
<circle cx="46.4" cy="111.1" r="1.25"/>
<circle cx="61.0" cy="121.1" r="1.25"/>
<circle cx="42.7" cy="121.4" r="1.25"/>
<circle cx="60.6" cy="117.2" r="1.25"/>
<circle cx="42.1" cy="122.4" r="1.25"/>
<circle cx="56.7" cy="118.7" r="1.25"/>
<circle cx="51.9" cy="121.6" r="1.25"/>
<circle cx="59.4" cy="122.7" r="1.25"/>
<circle cx="48.8" cy="119.9" r="1.25"/>
<circle cx="72.1" cy="118.0" r="1.25"/>
<circle cx="69.4" cy="119.8" r="1.25"/>
<circle cx="46.4" cy="121.4" r="1.25"/>
<circle cx="72.1" cy="117.1" r="1.25"/>
<circle cx="49.0" cy="122.6" r="1.25"/>
<circle cx="55.8" cy="117.6" r="1.25"/>
<circle cx="53.0" cy="121.4" r="1.25"/>
<circle cx="61.7" cy="110.8" r="1.25"/>
<circle cx="46.2" cy="122.6" r="1.25"/>
<circle cx="50.1" cy="120.2" r="1.25"/>
<circle cx="62.3" cy="121.7" r="1.25"/>
<circle cx="66.3" cy="116.5" r="1.25"/>
<circle cx="56.0" cy="121.7" r="1.25"/>
<circle cx="144.1" cy="120.6" r="1.25"/>
<circle cx="137.1" cy="121.2" r="1.25"/>
<circle cx="108.8" cy="114.7" r="1.25"/>
<circle cx="112.3" cy="105.6" r="1.25"/>
<circle cx="121.8" cy="121.6" r="1.25"/>
<circle cx="108.9" cy="119.7" r="1.25"/>
<circle cx="129.8" cy="106.0" r="1.25"/>
<circle cx="105.3" cy="119.9" r="1.25"/>
<circle cx="105.1" cy="122.4" r="1.25"/>
<circle cx="101.2" cy="119.9" r="1.25"/>
<circle cx="140.8" cy="110.6" r="1.25"/>
<circle cx="142.3" cy="120.5" r="1.25"/>
<circle cx="107.1" cy="107.3" r="1.25"/>
<circle cx="133.6" cy="122.5" r="1.25"/>
<circle cx="129.7" cy="120.0" r="1.25"/>
<circle cx="116.0" cy="120.5" r="1.25"/>
<circle cx="106.4" cy="122.7" r="1.25"/>
<circle cx="111.6" cy="120.3" r="1.25"/>
<circle cx="143.5" cy="122.0" r="1.25"/>
<circle cx="143.9" cy="121.4" r="1.25"/>
<circle cx="115.2" cy="113.0" r="1.25"/>
<circle cx="137.2" cy="119.5" r="1.25"/>
<circle cx="100.7" cy="119.1" r="1.25"/>
<circle cx="116.0" cy="108.5" r="1.25"/>
<circle cx="107.5" cy="120.2" r="1.25"/>
<circle cx="140.7" cy="122.6" r="1.25"/>
<circle cx="117.8" cy="113.3" r="1.25"/>
<circle cx="134.6" cy="122.5" r="1.25"/>
<circle cx="100.0" cy="122.4" r="1.25"/>
<circle cx="141.8" cy="121.1" r="1.25"/>
<circle cx="133.6" cy="109.8" r="1.25"/>
<circle cx="114.4" cy="120.9" r="1.25"/>
<circle cx="143.6" cy="117.3" r="1.25"/>
<circle cx="110.8" cy="115.6" r="1.25"/>
<circle cx="113.3" cy="120.9" r="1.25"/>
<circle cx="98.6" cy="114.8" r="1.25"/>
<circle cx="141.6" cy="117.1" r="1.25"/>
<circle cx="142.9" cy="122.6" r="1.25"/>
<circle cx="109.4" cy="119.1" r="1.25"/>
<circle cx="143.5" cy="105.4" r="1.25"/>
<circle cx="116.6" cy="121.1" r="1.25"/>
<circle cx="118.7" cy="118.9" r="1.25"/>
<circle cx="142.2" cy="121.6" r="1.25"/>
<circle cx="136.2" cy="115.2" r="1.25"/>
<circle cx="137.2" cy="114.4" r="1.25"/>
<circle cx="127.0" cy="120.5" r="1.25"/>
<circle cx="113.5" cy="120.2" r="1.25"/>
<circle cx="135.3" cy="122.3" r="1.25"/>
<circle cx="107.7" cy="114.9" r="1.25"/>
<circle cx="110.1" cy="122.3" r="1.25"/>
<circle cx="100.0" cy="118.2" r="1.25"/>
<circle cx="110.9" cy="122.2" r="1.25"/>
<circle cx="102.9" cy="118.8" r="1.25"/>
<circle cx="131.9" cy="119.4" r="1.25"/>
<circle cx="109.4" cy="119.7" r="1.25"/>
<circle cx="127.7" cy="116.4" r="1.25"/>
<circle cx="133.7" cy="112.2" r="1.25"/>
<circle cx="129.7" cy="122.0" r="1.25"/>
<circle cx="138.1" cy="120.8" r="1.25"/>
<circle cx="125.1" cy="120.1" r="1.25"/>
<circle cx="72.2" cy="76.1" r="1.25"/>
<circle cx="77.4" cy="83.3" r="1.25"/>
<circle cx="98.4" cy="65.4" r="1.25"/>
<circle cx="52.5" cy="113.5" r="1.25"/>
<circle cx="60.4" cy="105.1" r="1.25"/>
<circle cx="64.3" cy="99.9" r="1.25"/>
<circle cx="139.0" cy="106.3" r="1.25"/>
<circle cx="148.2" cy="115.3" r="1.25"/>
<circle cx="157.3" cy="108.9" r="1.25"/>
</g>
<g fill="#5b9ec6" stroke="#2a4a60" stroke-width="0.4">
<circle cx="63.7" cy="68.3" r="1.3"/>
<circle cx="66.8" cy="71.5" r="1.3"/>
<circle cx="67.2" cy="78.4" r="1.3"/>
<circle cx="68.3" cy="84.2" r="1.3"/>
<circle cx="65" cy="92.7" r="1.3"/>
<circle cx="58.8" cy="97.6" r="1.3"/>
<circle cx="48.5" cy="98.5" r="1.3"/>
<circle cx="69.2" cy="97.1" r="1.3"/>
</g>
<g fill="#e2845a" stroke="#4a200c" stroke-width="0.5">
<circle cx="156.7" cy="22.8" r="1.3"/>
<circle cx="136.0" cy="26.5" r="1.3"/>
<circle cx="134.4" cy="29.7" r="1.3"/>
<circle cx="140.8" cy="33.0" r="1.3"/>
<circle cx="160.5" cy="32.2" r="1.3"/>
<circle cx="168.5" cy="29.5" r="1.3"/>
<circle cx="178.5" cy="29.7" r="1.3"/>
<circle cx="157.0" cy="41.0" r="1.3"/>
<circle cx="146.0" cy="43.7" r="1.3"/>
<circle cx="120.3" cy="46.0" r="1.3"/>
<circle cx="121.2" cy="50.4" r="1.3"/>
<circle cx="115.0" cy="51.8" r="1.3"/>
<circle cx="119.7" cy="55.4" r="1.3"/>
<circle cx="132.1" cy="48.3" r="1.3"/>
<circle cx="137.0" cy="49.8" r="1.3"/>
<circle cx="133.1" cy="52.5" r="1.3"/>
<circle cx="148.0" cy="52.5" r="1.3"/>
<circle cx="159.3" cy="49.8" r="1.3"/>
<circle cx="175.8" cy="52.1" r="1.3"/>
<circle cx="129.3" cy="59.8" r="1.3"/>
<circle cx="149.4" cy="62.9" r="1.3"/>
<circle cx="119.7" cy="66.7" r="1.3"/>
<circle cx="133.7" cy="66.7" r="1.3"/>
<circle cx="136.2" cy="65.4" r="1.3"/>
<circle cx="139.4" cy="68.6" r="1.3"/>
<circle cx="145.6" cy="67.7" r="1.3"/>
<circle cx="152.3" cy="69.6" r="1.3"/>
<circle cx="154.2" cy="67.9" r="1.3"/>
<circle cx="156.1" cy="68.0" r="1.3"/>
<circle cx="171.6" cy="69.6" r="1.3"/>
<circle cx="114.3" cy="71.5" r="1.3"/>
<circle cx="131.6" cy="70.9" r="1.3"/>
<circle cx="139.2" cy="70.9" r="1.3"/>
<circle cx="101.9" cy="72.6" r="1.3"/>
<circle cx="101.5" cy="77.0" r="1.3"/>
<circle cx="118.4" cy="75.5" r="1.3"/>
<circle cx="123.5" cy="75.7" r="1.3"/>
<circle cx="158.0" cy="80.9" r="1.3"/>
<circle cx="161.8" cy="87.8" r="1.3"/>
<circle cx="145.6" cy="87.8" r="1.3"/>
<circle cx="123.5" cy="81.3" r="1.3"/>
<circle cx="125.0" cy="82.4" r="1.3"/>
<circle cx="136.6" cy="83.4" r="1.3"/>
<circle cx="137.9" cy="83.6" r="1.3"/>
<circle cx="114.2" cy="91.0" r="1.3"/>
<circle cx="129.9" cy="92.6" r="1.3"/>
<circle cx="116.0" cy="90.5" r="1.3"/>
<circle cx="105.2" cy="91.8" r="1.3"/>
<circle cx="120.1" cy="86.9" r="1.3"/>
<circle cx="102.2" cy="95.4" r="1.3"/>
<circle cx="102.1" cy="86.6" r="1.3"/>
<circle cx="131.9" cy="83.9" r="1.3"/>
<circle cx="120.9" cy="90.0" r="1.3"/>
<circle cx="104.3" cy="100.4" r="1.3"/>
<circle cx="116.7" cy="99.7" r="1.3"/>
<circle cx="105.4" cy="96.5" r="1.3"/>
<circle cx="100.1" cy="92.6" r="1.3"/>
<circle cx="113.8" cy="86.0" r="1.3"/>
<circle cx="116.4" cy="89.6" r="1.3"/>
<circle cx="115.7" cy="89.2" r="1.3"/>
<circle cx="114.3" cy="95.9" r="1.3"/>
<circle cx="132.4" cy="83.4" r="1.3"/>
<circle cx="127.1" cy="88.4" r="1.3"/>
<circle cx="109.6" cy="96.7" r="1.3"/>
<circle cx="108.7" cy="99.5" r="1.3"/>
<circle cx="124.7" cy="93.7" r="1.3"/>
<circle cx="127.3" cy="94.0" r="1.3"/>
<circle cx="131.1" cy="86.0" r="1.3"/>
<circle cx="99.1" cy="97.1" r="1.3"/>
<circle cx="129.5" cy="92.5" r="1.3"/>
<circle cx="131.8" cy="93.8" r="1.3"/>
<circle cx="101.5" cy="89.8" r="1.3"/>
<circle cx="125.1" cy="96.0" r="1.3"/>
<circle cx="102.0" cy="94.9" r="1.3"/>
<circle cx="131.3" cy="87.5" r="1.3"/>
</g>
<rect x="20.50" y="17.90" width="165.50" height="122.00" fill="none" stroke="#8a8a8a" stroke-width="0.6"/>
<circle cx="27.60" cy="22.60" r="1.15" fill="#e2845a" stroke="#5a2a10" stroke-width="0.3"/>
<text x="32.00" y="24.54" font-size="5.4">Up</text>
<circle cx="27.60" cy="27.90" r="1.15" fill="#5b9ec6" stroke="#333" stroke-width="0.3"/>
<text x="32.00" y="29.84" font-size="5.4">Down</text>
<circle cx="27.60" cy="33.20" r="1.05" fill="none" stroke="#222" stroke-width="0.35"/>
<text x="32.00" y="35.14" font-size="5.4">Nonsignificant</text>
<line x1="19.00" y1="134.50" x2="20.50" y2="134.50" stroke="#666" stroke-width="0.5"/>
<text x="17.00" y="136.88" font-size="6.6" text-anchor="end">0</text>
<line x1="19.00" y1="108.90" x2="20.50" y2="108.90" stroke="#666" stroke-width="0.5"/>
<text x="17.00" y="111.28" font-size="6.6" text-anchor="end">1</text>
<line x1="19.00" y1="83.30" x2="20.50" y2="83.30" stroke="#666" stroke-width="0.5"/>
<text x="17.00" y="85.68" font-size="6.6" text-anchor="end">2</text>
<line x1="19.00" y1="57.70" x2="20.50" y2="57.70" stroke="#666" stroke-width="0.5"/>
<text x="17.00" y="60.08" font-size="6.6" text-anchor="end">3</text>
<line x1="19.00" y1="32.10" x2="20.50" y2="32.10" stroke="#666" stroke-width="0.5"/>
<text x="17.00" y="34.48" font-size="6.6" text-anchor="end">4</text>
<line x1="32.90" y1="139.90" x2="32.90" y2="141.40" stroke="#666" stroke-width="0.5"/>
<text x="32.90" y="150.28" font-size="6.6" text-anchor="middle">−4</text>
<line x1="59.10" y1="139.90" x2="59.10" y2="141.40" stroke="#666" stroke-width="0.5"/>
<text x="59.10" y="150.28" font-size="6.6" text-anchor="middle">−2</text>
<line x1="85.30" y1="139.90" x2="85.30" y2="141.40" stroke="#666" stroke-width="0.5"/>
<text x="85.30" y="150.28" font-size="6.6" text-anchor="middle">0</text>
<line x1="111.50" y1="139.90" x2="111.50" y2="141.40" stroke="#666" stroke-width="0.5"/>
<text x="111.50" y="150.28" font-size="6.6" text-anchor="middle">2</text>
<line x1="137.70" y1="139.90" x2="137.70" y2="141.40" stroke="#666" stroke-width="0.5"/>
<text x="137.70" y="150.28" font-size="6.6" text-anchor="middle">4</text>
<line x1="163.90" y1="139.90" x2="163.90" y2="141.40" stroke="#666" stroke-width="0.5"/>
<text x="163.90" y="150.28" font-size="6.6" text-anchor="middle">6</text>
<text x="103.8" y="161.6" font-size="6.7" text-anchor="middle" fill="#111">log<tspan font-size="4.6" dy="1.5">2</tspan><tspan dy="-1.5">FC (KLHL6-BirA/empty-BirA)</tspan></text>
<text transform="translate(7.3,78.5) rotate(-90)" font-size="6.5" text-anchor="middle" fill="#1a1a1a">−log<tspan font-size="4.5" dy="1.5">10</tspan><tspan dy="-1.5">[</tspan><tspan font-style="italic">P</tspan>]</text>
<text x="168.20" y="25.38" font-size="6.6">ILF3</text>
<line x1="166.00" y1="23.00" x2="163.10" y2="22.96" stroke="#111" stroke-width="0.95"/>
<polygon points="159.20,22.90 163.13,20.96 163.07,24.96" fill="#111"/>
<text x="137.90" y="31.18" font-size="6.6">TOX</text>
<line x1="151.70" y1="29.20" x2="155.11" y2="30.35" stroke="#111" stroke-width="0.95"/>
<polygon points="158.80,31.60 154.46,32.25 155.75,28.46" fill="#111"/>
<text x="164.70" y="37.88" font-size="6.6">LYAR</text>
<line x1="163.00" y1="37.00" x2="161.62" y2="38.13" stroke="#111" stroke-width="0.95"/>
<polygon points="158.60,40.60 160.35,36.58 162.88,39.68" fill="#111"/>
<text x="119.70" y="38.98" font-size="6.6">MAT2A</text>
<line x1="131.80" y1="40.60" x2="131.80" y2="43.30" stroke="#111" stroke-width="0.95"/>
<polygon points="131.80,47.20 129.80,43.30 133.80,43.30" fill="#111"/>
<text x="98.00" y="44.18" font-size="6.6">STK38</text>
<line x1="113.00" y1="46.40" x2="115.96" y2="47.97" stroke="#111" stroke-width="0.95"/>
<polygon points="119.40,49.80 115.02,49.74 116.89,46.20" fill="#111"/>
<text x="133.70" y="78.68" font-size="6.6">PGAM5</text>
<line x1="133.10" y1="76.00" x2="129.30" y2="75.90" stroke="#111" stroke-width="0.95"/>
<polygon points="125.40,75.80 129.35,73.90 129.25,77.90" fill="#111"/>
<text x="161.50" y="86.18" font-size="6.6">PARP1</text>
<line x1="172.00" y1="79.50" x2="172.00" y2="75.70" stroke="#111" stroke-width="0.95"/>
<polygon points="172.00,71.80 174.00,75.70 170.00,75.70" fill="#111"/>
<text x="92.00" y="84.78" font-size="6.6">ACO2</text>
<line x1="104.40" y1="86.30" x2="105.20" y2="87.84" stroke="#111" stroke-width="0.95"/>
<polygon points="107.00,91.30 103.43,88.76 106.98,86.92" fill="#111"/>
<text x="123.00" y="94.38" font-size="6.6">SHMT2</text>
<line x1="122.20" y1="92.30" x2="120.25" y2="93.03" stroke="#111" stroke-width="0.95"/>
<polygon points="116.60,94.40 119.55,91.16 120.95,94.90" fill="#111"/>
<text x="204.20" y="7.80" font-size="11.5" font-weight="bold" fill="#000">b</text>
<text x="208.60" y="15.37" font-size="6.3">(kDa)</text>
<text x="243.60" y="12.85" font-size="6.8" text-anchor="middle" transform="rotate(-52 243.60 10.40)">IgG</text>
<text x="266.50" y="11.75" font-size="6.8" text-anchor="middle" transform="rotate(-52 266.50 9.30)">TOX</text>
<clipPath id="cp1"><rect x="229.4" y="18.2" width="47.49999999999997" height="16.2"/></clipPath>
<g clip-path="url(#cp1)">
<rect x="229.40" y="18.20" width="47.50" height="16.20" fill="#ebebeb"/>
<rect x="256.65" y="24.70" width="16.50" height="5.20" rx="2.08" fill="#000" fill-opacity="1" filter="url(#b1)"/>
</g>
<rect x="229.40" y="18.20" width="47.50" height="16.20" fill="none" stroke="#4a4a4a" stroke-width="0.7"/>
<clipPath id="cp2"><rect x="229.4" y="36" width="47.49999999999997" height="16.200000000000003"/></clipPath>
<g clip-path="url(#cp2)">
<rect x="229.40" y="36.00" width="47.50" height="16.20" fill="#cfcfcf"/>
<rect x="256.65" y="39.85" width="16.50" height="7.50" rx="3.00" fill="#000" fill-opacity="1" filter="url(#b1)"/>
</g>
<rect x="229.40" y="36.00" width="47.50" height="16.20" fill="none" stroke="#4a4a4a" stroke-width="0.7"/>
<clipPath id="cp3"><rect x="229.4" y="53.6" width="47.49999999999997" height="16.199999999999996"/></clipPath>
<g clip-path="url(#cp3)">
<rect x="229.40" y="53.60" width="47.50" height="16.20" fill="#e4e4e4"/>
<rect x="234.70" y="58.60" width="15.20" height="6.20" rx="2.48" fill="#000" fill-opacity="1" filter="url(#b1)"/>
<rect x="256.40" y="58.60" width="17.00" height="6.20" rx="2.48" fill="#000" fill-opacity="1" filter="url(#b1)"/>
</g>
<rect x="229.40" y="53.60" width="47.50" height="16.20" fill="none" stroke="#4a4a4a" stroke-width="0.7"/>
<clipPath id="cp4"><rect x="229.4" y="71.2" width="47.49999999999997" height="16.200000000000003"/></clipPath>
<g clip-path="url(#cp4)">
<rect x="229.40" y="71.20" width="47.50" height="16.20" fill="#e4e4e4"/>
<rect x="234.40" y="75.50" width="15.80" height="7.80" rx="3.12" fill="#000" fill-opacity="1" filter="url(#b1)"/>
<rect x="235.80" y="74.00" width="13.00" height="3.00" rx="1.20" fill="#000" fill-opacity="0.5" filter="url(#b1)"/>
<rect x="256.30" y="75.60" width="17.20" height="7.20" rx="2.88" fill="#000" fill-opacity="1" filter="url(#b1)"/>
<rect x="257.40" y="74.55" width="15.00" height="2.50" rx="1.00" fill="#000" fill-opacity="0.4" filter="url(#b1)"/>
</g>
<rect x="229.40" y="71.20" width="47.50" height="16.20" fill="none" stroke="#4a4a4a" stroke-width="0.7"/>
<text x="279.50" y="29.68" font-size="6.6">KLHL6</text>
<text x="279.50" y="45.88" font-size="6.6">TOX</text>
<text x="279.50" y="64.08" font-size="6.6">KLHL6</text>
<text x="279.50" y="82.28" font-size="6.6">TOX</text>
<text x="224.60" y="28.28" font-size="6.6" text-anchor="end">70</text>
<line x1="225.60" y1="25.90" x2="228.60" y2="25.90" stroke="#333" stroke-width="0.6"/>
<text x="224.60" y="51.88" font-size="6.6" text-anchor="end">55</text>
<line x1="225.60" y1="49.50" x2="228.60" y2="49.50" stroke="#333" stroke-width="0.6"/>
<text x="224.60" y="62.08" font-size="6.6" text-anchor="end">70</text>
<line x1="225.60" y1="59.70" x2="228.60" y2="59.70" stroke="#333" stroke-width="0.6"/>
<text x="224.60" y="88.38" font-size="6.6" text-anchor="end">55</text>
<line x1="225.60" y1="86.00" x2="228.60" y2="86.00" stroke="#333" stroke-width="0.6"/>
<line x1="213.20" y1="20.00" x2="213.20" y2="50.60" stroke="#555" stroke-width="0.6"/>
<line x1="213.20" y1="54.00" x2="213.20" y2="87.00" stroke="#555" stroke-width="0.6"/>
<text x="207.80" y="37.68" font-size="6.6" text-anchor="middle" transform="rotate(-90 207.80 35.30)">IP: TOX</text>
<text x="207.80" y="73.18" font-size="6.6" text-anchor="middle" transform="rotate(-90 207.80 70.80)">Input</text>
<text x="208.60" y="116.67" font-size="6.3">(kDa)</text>
<text x="243.60" y="114.25" font-size="6.8" text-anchor="middle" transform="rotate(-52 243.60 111.80)">IgG</text>
<text x="269.40" y="110.75" font-size="6.8" text-anchor="middle" transform="rotate(-52 269.40 108.30)">KLHL6</text>
<clipPath id="cp5"><rect x="228.4" y="119.3" width="47.49999999999997" height="15.700000000000003"/></clipPath>
<g clip-path="url(#cp5)">
<rect x="228.40" y="119.30" width="47.50" height="15.70" fill="#ebebeb"/>
<rect x="256.05" y="125.40" width="15.50" height="5.20" rx="2.08" fill="#000" fill-opacity="0.88" filter="url(#b1)"/>
</g>
<rect x="228.40" y="119.30" width="47.50" height="15.70" fill="none" stroke="#4a4a4a" stroke-width="0.7"/>
<clipPath id="cp6"><rect x="228.4" y="136.5" width="47.49999999999997" height="14.099999999999994"/></clipPath>
<g clip-path="url(#cp6)">
<rect x="228.40" y="136.50" width="47.50" height="14.10" fill="#ebebeb"/>
<rect x="255.30" y="140.40" width="17.00" height="6.00" rx="2.40" fill="#000" fill-opacity="1" filter="url(#b1)"/>
</g>
<rect x="228.40" y="136.50" width="47.50" height="14.10" fill="none" stroke="#4a4a4a" stroke-width="0.7"/>
<clipPath id="cp7"><rect x="228.4" y="152.6" width="47.49999999999997" height="14.800000000000011"/></clipPath>
<g clip-path="url(#cp7)">
<rect x="228.40" y="152.60" width="47.50" height="14.80" fill="#e4e4e4"/>
<rect x="233.55" y="156.60" width="15.50" height="6.00" rx="2.40" fill="#000" fill-opacity="1" filter="url(#b1)"/>
<rect x="255.55" y="156.60" width="16.50" height="6.00" rx="2.40" fill="#000" fill-opacity="1" filter="url(#b1)"/>
</g>
<rect x="228.40" y="152.60" width="47.50" height="14.80" fill="none" stroke="#4a4a4a" stroke-width="0.7"/>
<clipPath id="cp8"><rect x="228.4" y="168.8" width="47.49999999999997" height="15.199999999999989"/></clipPath>
<g clip-path="url(#cp8)">
<rect x="228.40" y="168.80" width="47.50" height="15.20" fill="#e4e4e4"/>
<rect x="233.55" y="173.05" width="15.50" height="6.30" rx="2.52" fill="#000" fill-opacity="1" filter="url(#b1)"/>
<rect x="255.80" y="173.20" width="16.00" height="6.00" rx="2.40" fill="#000" fill-opacity="1" filter="url(#b1)"/>
</g>
<rect x="228.40" y="168.80" width="47.50" height="15.20" fill="none" stroke="#4a4a4a" stroke-width="0.7"/>
<text x="278.50" y="130.18" font-size="6.6">TOX</text>
<text x="278.50" y="145.48" font-size="6.6">KLHL6</text>
<text x="278.50" y="162.08" font-size="6.6">TOX</text>
<text x="278.50" y="178.28" font-size="6.6">KLHL6</text>
<text x="223.80" y="134.78" font-size="6.6" text-anchor="end">55</text>
<line x1="224.80" y1="132.40" x2="227.80" y2="132.40" stroke="#333" stroke-width="0.6"/>
<text x="223.80" y="143.48" font-size="6.6" text-anchor="end">70</text>
<line x1="224.80" y1="141.10" x2="227.80" y2="141.10" stroke="#333" stroke-width="0.6"/>
<text x="223.80" y="166.78" font-size="6.6" text-anchor="end">55</text>
<line x1="224.80" y1="164.40" x2="227.80" y2="164.40" stroke="#333" stroke-width="0.6"/>
<text x="223.80" y="175.88" font-size="6.6" text-anchor="end">70</text>
<line x1="224.80" y1="173.50" x2="227.80" y2="173.50" stroke="#333" stroke-width="0.6"/>
<line x1="213.20" y1="119.00" x2="213.20" y2="151.60" stroke="#555" stroke-width="0.6"/>
<line x1="213.20" y1="153.60" x2="213.20" y2="184.00" stroke="#555" stroke-width="0.6"/>
<text x="207.80" y="137.78" font-size="6.6" text-anchor="middle" transform="rotate(-90 207.80 135.40)">IP: KLHL6</text>
<text x="207.80" y="172.18" font-size="6.6" text-anchor="middle" transform="rotate(-90 207.80 169.80)">Input</text>
<text x="309.50" y="7.60" font-size="11.5" font-weight="bold" fill="#000">c</text>
<text x="341.40" y="17.48" font-size="6.6" text-anchor="middle">−</text>
<text x="341.40" y="26.68" font-size="6.6" text-anchor="middle">0</text>
<text x="355.40" y="17.48" font-size="6.6" text-anchor="middle">−</text>
<text x="355.40" y="26.68" font-size="6.6" text-anchor="middle">3</text>
<text x="370.00" y="17.48" font-size="6.6" text-anchor="middle">−</text>
<text x="370.00" y="26.68" font-size="6.6" text-anchor="middle">6</text>
<text x="384.40" y="17.48" font-size="6.6" text-anchor="middle">−</text>
<text x="384.40" y="26.68" font-size="6.6" text-anchor="middle">9</text>
<text x="397.80" y="17.48" font-size="6.6" text-anchor="middle">−</text>
<text x="397.80" y="26.68" font-size="6.6" text-anchor="middle">12</text>
<text x="427.50" y="17.48" font-size="6.6" text-anchor="middle">+</text>
<text x="427.50" y="26.68" font-size="6.6" text-anchor="middle">0</text>
<text x="441.60" y="17.48" font-size="6.6" text-anchor="middle">+</text>
<text x="441.60" y="26.68" font-size="6.6" text-anchor="middle">3</text>
<text x="455.50" y="17.48" font-size="6.6" text-anchor="middle">+</text>
<text x="455.50" y="26.68" font-size="6.6" text-anchor="middle">6</text>
<text x="470.20" y="17.48" font-size="6.6" text-anchor="middle">+</text>
<text x="470.20" y="26.68" font-size="6.6" text-anchor="middle">9</text>
<text x="482.80" y="17.48" font-size="6.6" text-anchor="middle">+</text>
<text x="482.80" y="26.68" font-size="6.6" text-anchor="middle">12</text>
<text x="494.70" y="16.58" font-size="6.6">KLHL6-Myc</text>
<text x="494.70" y="26.68" font-size="6.6">CHX (h)</text>
<text x="312.40" y="26.57" font-size="6.3">(kDa)</text>
<clipPath id="cp9"><rect x="333.2" y="30.3" width="159.2" height="16.999999999999996"/></clipPath>
<g clip-path="url(#cp9)">
<rect x="333.20" y="30.30" width="159.20" height="17.00" fill="#e2e2e2"/>
<rect x="335.70" y="32.80" width="11.40" height="7.20" rx="2.88" fill="#000" fill-opacity="1" filter="url(#b1)"/>
<rect x="349.30" y="32.90" width="11.80" height="7.00" rx="2.80" fill="#000" fill-opacity="1" filter="url(#b1)"/>
<rect x="363.80" y="32.90" width="11.80" height="7.00" rx="2.80" fill="#000" fill-opacity="1" filter="url(#b1)"/>
<rect x="378.40" y="34.60" width="11.60" height="4.60" rx="1.84" fill="#000" fill-opacity="1" filter="url(#b1)"/>
<rect x="393.50" y="34.50" width="11.40" height="4.80" rx="1.92" fill="#000" fill-opacity="1" filter="url(#b1)"/>
<rect x="422.90" y="34.60" width="11.00" height="4.60" rx="1.84" fill="#000" fill-opacity="1" filter="url(#b1)"/>
<rect x="437.30" y="34.90" width="10.60" height="4.20" rx="1.68" fill="#000" fill-opacity="0.92" filter="url(#b1)"/>
<rect x="451.90" y="35.10" width="10.00" height="3.80" rx="1.52" fill="#000" fill-opacity="0.45" filter="url(#b1)"/>
<rect x="466.10" y="35.30" width="9.00" height="3.40" rx="1.36" fill="#000" fill-opacity="0.07" filter="url(#b1)"/>
<rect x="335.70" y="30.30" width="11.00" height="2.60" rx="1.04" fill="#000" fill-opacity="0.22" filter="url(#b2)"/>
<rect x="349.70" y="30.30" width="11.00" height="2.60" rx="1.04" fill="#000" fill-opacity="0.22" filter="url(#b2)"/>
<rect x="364.20" y="30.30" width="11.00" height="2.60" rx="1.04" fill="#000" fill-opacity="0.22" filter="url(#b2)"/>
<rect x="378.70" y="30.30" width="11.00" height="2.60" rx="1.04" fill="#000" fill-opacity="0.22" filter="url(#b2)"/>
<rect x="393.70" y="30.30" width="11.00" height="2.60" rx="1.04" fill="#000" fill-opacity="0.22" filter="url(#b2)"/>
<rect x="423.90" y="30.60" width="9.00" height="2.40" rx="0.96" fill="#000" fill-opacity="0.15" filter="url(#b2)"/>
</g>
<rect x="333.20" y="30.30" width="159.20" height="17.00" fill="none" stroke="#4a4a4a" stroke-width="0.7"/>
<clipPath id="cp10"><rect x="333.2" y="49.0" width="159.2" height="16.400000000000006"/></clipPath>
<g clip-path="url(#cp10)">
<rect x="333.20" y="49.00" width="159.20" height="16.40" fill="#dedede"/>
<rect x="422.70" y="53.30" width="12.60" height="6.80" rx="2.72" fill="#000" fill-opacity="1" filter="url(#b1)"/>
<rect x="436.60" y="53.60" width="12.40" height="6.20" rx="2.48" fill="#000" fill-opacity="1" filter="url(#b1)"/>
<rect x="450.80" y="54.00" width="11.80" height="5.60" rx="2.24" fill="#000" fill-opacity="1" filter="url(#b1)"/>
<rect x="465.10" y="54.90" width="10.40" height="4.20" rx="1.68" fill="#000" fill-opacity="1" filter="url(#b1)"/>
<rect x="478.80" y="55.10" width="10.40" height="3.80" rx="1.52" fill="#000" fill-opacity="1" filter="url(#b1)"/>
<rect x="425.00" y="48.50" width="4.00" height="6.00" rx="2.40" fill="#000" fill-opacity="0.12" filter="url(#b2)"/>
<rect x="429.00" y="48.50" width="4.00" height="6.00" rx="2.40" fill="#000" fill-opacity="0.12" filter="url(#b2)"/>
<rect x="439.00" y="48.50" width="4.00" height="6.00" rx="2.40" fill="#000" fill-opacity="0.12" filter="url(#b2)"/>
<rect x="443.00" y="48.50" width="4.00" height="6.00" rx="2.40" fill="#000" fill-opacity="0.12" filter="url(#b2)"/>
</g>
<rect x="333.20" y="49.00" width="159.20" height="16.40" fill="none" stroke="#4a4a4a" stroke-width="0.7"/>
<clipPath id="cp11"><rect x="333.2" y="67.2" width="159.2" height="17.099999999999994"/></clipPath>
<g clip-path="url(#cp11)">
<rect x="333.20" y="67.20" width="159.20" height="17.10" fill="#e6e6e6"/>
<rect x="335.30" y="74.20" width="13.00" height="4.80" rx="1.92" fill="#000" fill-opacity="1" filter="url(#b1)"/>
<rect x="349.00" y="74.20" width="13.00" height="4.80" rx="1.92" fill="#000" fill-opacity="1" filter="url(#b1)"/>
<rect x="363.30" y="74.20" width="13.00" height="4.80" rx="1.92" fill="#000" fill-opacity="1" filter="url(#b1)"/>
<rect x="377.80" y="74.20" width="13.00" height="4.80" rx="1.92" fill="#000" fill-opacity="1" filter="url(#b1)"/>
<rect x="392.80" y="74.20" width="13.00" height="4.80" rx="1.92" fill="#000" fill-opacity="1" filter="url(#b1)"/>
<rect x="421.50" y="74.20" width="13.00" height="4.80" rx="1.92" fill="#000" fill-opacity="1" filter="url(#b1)"/>
<rect x="435.70" y="74.20" width="13.00" height="4.80" rx="1.92" fill="#000" fill-opacity="1" filter="url(#b1)"/>
<rect x="449.60" y="74.20" width="13.00" height="4.80" rx="1.92" fill="#000" fill-opacity="1" filter="url(#b1)"/>
<rect x="463.50" y="74.20" width="13.00" height="4.80" rx="1.92" fill="#000" fill-opacity="1" filter="url(#b1)"/>
<rect x="477.50" y="74.20" width="13.00" height="4.80" rx="1.92" fill="#000" fill-opacity="1" filter="url(#b1)"/>
</g>
<rect x="333.20" y="67.20" width="159.20" height="17.10" fill="none" stroke="#4a4a4a" stroke-width="0.7"/>
<text x="494.60" y="40.68" font-size="6.6">TOX</text>
<text x="494.60" y="59.48" font-size="6.6">Myc</text>
<text x="494.60" y="78.08" font-size="6.6">Actin</text>
<text x="328.20" y="46.38" font-size="6.6" text-anchor="end">55</text>
<line x1="329.50" y1="44.00" x2="332.50" y2="44.00" stroke="#333" stroke-width="0.6"/>
<text x="328.20" y="59.08" font-size="6.6" text-anchor="end">70</text>
<line x1="329.50" y1="56.70" x2="332.50" y2="56.70" stroke="#333" stroke-width="0.6"/>
<text x="328.20" y="81.78" font-size="6.6" text-anchor="end">40</text>
<line x1="329.50" y1="79.40" x2="332.50" y2="79.40" stroke="#333" stroke-width="0.6"/>
<line x1="568.60" y1="14.50" x2="568.60" y2="81.00" stroke="#aaa" stroke-width="0.9"/>
<line x1="568.20" y1="81.00" x2="661.60" y2="81.00" stroke="#aaa" stroke-width="0.9"/>
<line x1="566.30" y1="14.52" x2="568.20" y2="14.52" stroke="#555" stroke-width="0.6"/>
<text x="563.60" y="16.90" font-size="6.6" text-anchor="end">1.2</text>
<line x1="566.30" y1="36.68" x2="568.20" y2="36.68" stroke="#555" stroke-width="0.6"/>
<text x="563.60" y="39.06" font-size="6.6" text-anchor="end">0.8</text>
<line x1="566.30" y1="58.84" x2="568.20" y2="58.84" stroke="#555" stroke-width="0.6"/>
<text x="563.60" y="61.22" font-size="6.6" text-anchor="end">0.4</text>
<line x1="566.30" y1="81.00" x2="568.20" y2="81.00" stroke="#555" stroke-width="0.6"/>
<text x="563.60" y="83.38" font-size="6.6" text-anchor="end">0</text>
<line x1="580.30" y1="81.40" x2="580.30" y2="83.60" stroke="#555" stroke-width="0.6"/>
<text x="580.30" y="92.08" font-size="6.6" text-anchor="middle">0</text>
<line x1="597.75" y1="81.40" x2="597.75" y2="83.60" stroke="#555" stroke-width="0.6"/>
<text x="597.75" y="92.08" font-size="6.6" text-anchor="middle">3</text>
<line x1="615.20" y1="81.40" x2="615.20" y2="83.60" stroke="#555" stroke-width="0.6"/>
<text x="615.20" y="92.08" font-size="6.6" text-anchor="middle">6</text>
<line x1="632.65" y1="81.40" x2="632.65" y2="83.60" stroke="#555" stroke-width="0.6"/>
<text x="632.65" y="92.08" font-size="6.6" text-anchor="middle">9</text>
<line x1="650.10" y1="81.40" x2="650.10" y2="83.60" stroke="#555" stroke-width="0.6"/>
<text x="650.10" y="92.08" font-size="6.6" text-anchor="middle">12</text>
<text x="615.50" y="103.48" font-size="6.6" text-anchor="middle">Hours after CHX treatment</text>
<text x="540.20" y="50.38" font-size="6.6" text-anchor="middle" transform="rotate(-90 540.20 48.00)">Relative TOX</text>
<text x="546.60" y="50.38" font-size="6.6" text-anchor="middle" transform="rotate(-90 546.60 48.00)">protein level</text>
<polyline points="580.3,26.7 597.8,39.2 615.2,54.1 632.6,69.9 650.1,76.0" fill="none" stroke="#fb7b7b" stroke-width="1.15"/>
<polyline points="580.3,25.6 597.8,34.5 615.2,37.8 632.6,45.0 650.1,49.7" fill="none" stroke="#1895ae" stroke-width="1.15"/>
<rect x="578.30" y="24.71" width="4.00" height="4.00" fill="#fb7b7b" rx="0.9"/>
<rect x="595.75" y="37.17" width="4.00" height="4.00" fill="#fb7b7b" rx="0.9"/>
<rect x="613.20" y="52.13" width="4.00" height="4.00" fill="#fb7b7b" rx="0.9"/>
<rect x="630.65" y="67.92" width="4.00" height="4.00" fill="#fb7b7b" rx="0.9"/>
<rect x="648.10" y="74.01" width="4.00" height="4.00" fill="#fb7b7b" rx="0.9"/>
<circle cx="580.30" cy="25.60" r="2.05" fill="#1895ae"/>
<circle cx="597.75" cy="34.46" r="2.05" fill="#1895ae"/>
<circle cx="615.20" cy="37.79" r="2.05" fill="#1895ae"/>
<circle cx="632.65" cy="44.99" r="2.05" fill="#1895ae"/>
<circle cx="650.10" cy="49.70" r="2.05" fill="#1895ae"/>
<line x1="580.30" y1="22.83" x2="580.30" y2="28.37" stroke="#1895ae" stroke-width="0.7"/>
<line x1="615.20" y1="35.02" x2="615.20" y2="40.56" stroke="#1895ae" stroke-width="0.7"/>
<line x1="630.70" y1="15.20" x2="638.60" y2="15.20" stroke="#1895ae" stroke-width="1.1"/>
<circle cx="634.60" cy="15.20" r="2.0" fill="#1895ae"/>
<text x="641.20" y="17.65" font-size="6.8">Control</text>
<line x1="630.70" y1="24.60" x2="638.60" y2="24.60" stroke="#fb7b7b" stroke-width="1.1"/>
<circle cx="634.60" cy="24.60" r="2.0" fill="#fb7b7b"/>
<text x="641.20" y="27.05" font-size="6.8">KLHL6-Myc</text>
<line x1="680.30" y1="13.30" x2="680.30" y2="26.40" stroke="#333" stroke-width="0.7"/>
<text x="683.30" y="22.35" font-size="6.8" text-anchor="middle" transform="rotate(90 683.30 19.90)">****</text>
<text x="309.30" y="103.70" font-size="11.5" font-weight="bold" fill="#000">d</text>
<polygon points="326.60,136.10 327.27,136.10 327.94,136.10 328.60,136.10 329.27,136.10 329.94,136.10 330.61,136.10 331.28,136.10 331.95,136.10 332.61,136.10 333.28,136.10 333.95,136.10 334.62,136.10 335.29,136.10 335.95,136.10 336.62,136.10 337.29,136.09 337.96,136.09 338.63,136.09 339.29,136.08 339.96,136.07 340.63,136.06 341.30,136.05 341.97,136.02 342.63,135.99 343.30,135.95 343.97,135.89 344.64,135.82 345.31,135.72 345.98,135.59 346.64,135.42 347.31,135.20 347.98,134.92 348.65,134.57 349.32,134.14 349.98,133.61 350.65,132.96 351.32,132.18 351.99,131.25 352.66,130.17 353.33,128.92 353.99,127.49 354.66,125.89 355.33,124.14 356.00,122.23 356.67,120.22 357.33,118.13 358.00,116.03 358.67,113.98 359.34,112.08 360.01,110.41 360.67,109.10 361.34,108.30 362.01,108.46 362.68,109.50 363.35,111.06 364.01,112.97 364.68,115.10 365.35,117.33 366.02,119.58 366.69,121.76 367.36,123.82 368.02,125.73 368.69,127.44 369.36,128.97 370.03,130.29 370.70,131.43 371.36,132.38 372.03,133.18 372.70,133.83 373.37,134.35 374.04,134.77 374.71,135.10 375.37,135.35 376.04,135.55 376.71,135.70 377.38,135.81 378.05,135.89 378.71,135.95 379.38,136.00 380.05,136.03 380.72,136.05 381.39,136.07 382.05,136.08 382.72,136.08 383.39,136.09 384.06,136.09 384.73,136.10 385.39,136.10 386.06,136.10 386.73,136.10 387.40,136.10 388.07,136.10 388.74,136.10 389.40,136.10 390.07,136.10 390.74,136.10 391.41,136.10 392.08,136.10 392.74,136.10 393.41,136.10 394.08,136.10 394.75,136.10 395.42,136.10 396.09,136.10 396.75,136.10 397.42,136.10 398.09,136.10 398.76,136.10 399.43,136.10 400.09,136.10 400.76,136.10 401.43,136.10 402.10,136.10 402.77,136.10 403.43,136.10 404.10,136.10 404.77,136.10 405.44,136.10 406.11,136.10 406.77,136.10 407.44,136.10 408.11,136.10 408.78,136.10 409.45,136.10 410.12,136.10 410.78,136.10 411.45,136.10 412.12,136.10 412.79,136.10 413.46,136.10 414.12,136.10 414.79,136.10 415.46,136.10 416.13,136.10 416.80,136.10 417.47,136.10 418.13,136.10 418.80,136.10 419.47,136.10 420.14,136.10 420.81,136.10 421.47,136.10 422.14,136.10 422.81,136.10 423.48,136.10 424.15,136.10 424.81,136.10 425.48,136.10 426.15,136.10 426.82,136.10 427.49,136.10 428.15,136.10 428.82,136.10 429.49,136.10 430.16,136.10 430.83,136.10 431.50,136.10 432.16,136.10 432.83,136.10 433.50,136.10 433.5,136.1 326.6,136.1" fill="#52c2c4" fill-opacity="0.85" stroke="none"/>
<polyline points="326.60,136.10 327.27,136.10 327.94,136.10 328.60,136.10 329.27,136.10 329.94,136.10 330.61,136.10 331.28,136.10 331.95,136.10 332.61,136.10 333.28,136.10 333.95,136.10 334.62,136.10 335.29,136.10 335.95,136.10 336.62,136.10 337.29,136.09 337.96,136.09 338.63,136.09 339.29,136.08 339.96,136.07 340.63,136.06 341.30,136.05 341.97,136.02 342.63,135.99 343.30,135.95 343.97,135.89 344.64,135.82 345.31,135.72 345.98,135.59 346.64,135.42 347.31,135.20 347.98,134.92 348.65,134.57 349.32,134.14 349.98,133.61 350.65,132.96 351.32,132.18 351.99,131.25 352.66,130.17 353.33,128.92 353.99,127.49 354.66,125.89 355.33,124.14 356.00,122.23 356.67,120.22 357.33,118.13 358.00,116.03 358.67,113.98 359.34,112.08 360.01,110.41 360.67,109.10 361.34,108.30 362.01,108.46 362.68,109.50 363.35,111.06 364.01,112.97 364.68,115.10 365.35,117.33 366.02,119.58 366.69,121.76 367.36,123.82 368.02,125.73 368.69,127.44 369.36,128.97 370.03,130.29 370.70,131.43 371.36,132.38 372.03,133.18 372.70,133.83 373.37,134.35 374.04,134.77 374.71,135.10 375.37,135.35 376.04,135.55 376.71,135.70 377.38,135.81 378.05,135.89 378.71,135.95 379.38,136.00 380.05,136.03 380.72,136.05 381.39,136.07 382.05,136.08 382.72,136.08 383.39,136.09 384.06,136.09 384.73,136.10 385.39,136.10 386.06,136.10 386.73,136.10 387.40,136.10 388.07,136.10 388.74,136.10 389.40,136.10 390.07,136.10 390.74,136.10 391.41,136.10 392.08,136.10 392.74,136.10 393.41,136.10 394.08,136.10 394.75,136.10 395.42,136.10 396.09,136.10 396.75,136.10 397.42,136.10 398.09,136.10 398.76,136.10 399.43,136.10 400.09,136.10 400.76,136.10 401.43,136.10 402.10,136.10 402.77,136.10 403.43,136.10 404.10,136.10 404.77,136.10 405.44,136.10 406.11,136.10 406.77,136.10 407.44,136.10 408.11,136.10 408.78,136.10 409.45,136.10 410.12,136.10 410.78,136.10 411.45,136.10 412.12,136.10 412.79,136.10 413.46,136.10 414.12,136.10 414.79,136.10 415.46,136.10 416.13,136.10 416.80,136.10 417.47,136.10 418.13,136.10 418.80,136.10 419.47,136.10 420.14,136.10 420.81,136.10 421.47,136.10 422.14,136.10 422.81,136.10 423.48,136.10 424.15,136.10 424.81,136.10 425.48,136.10 426.15,136.10 426.82,136.10 427.49,136.10 428.15,136.10 428.82,136.10 429.49,136.10 430.16,136.10 430.83,136.10 431.50,136.10 432.16,136.10 432.83,136.10 433.50,136.10" fill="none" stroke="#3bb6bb" stroke-width="0.8"/>
<polygon points="326.60,150.30 327.27,150.30 327.94,150.30 328.60,150.30 329.27,150.30 329.94,150.30 330.61,150.30 331.28,150.30 331.95,150.30 332.61,150.30 333.28,150.30 333.95,150.30 334.62,150.30 335.29,150.29 335.95,150.29 336.62,150.29 337.29,150.28 337.96,150.28 338.63,150.27 339.29,150.26 339.96,150.25 340.63,150.23 341.30,150.21 341.97,150.18 342.63,150.15 343.30,150.10 343.97,150.05 344.64,149.97 345.31,149.88 345.98,149.77 346.64,149.63 347.31,149.46 347.98,149.25 348.65,148.99 349.32,148.69 349.98,148.32 350.65,147.89 351.32,147.38 351.99,146.79 352.66,146.11 353.33,145.33 353.99,144.45 354.66,143.45 355.33,142.34 356.00,141.12 356.67,139.79 357.33,138.35 358.00,136.83 358.67,135.23 359.34,133.58 360.01,131.91 360.67,130.25 361.34,128.64 362.01,127.13 362.68,125.77 363.35,124.63 364.01,123.77 364.68,123.32 365.35,123.64 366.02,124.58 366.69,125.93 367.36,127.55 368.02,129.36 368.69,131.27 369.36,133.23 370.03,135.15 370.70,137.02 371.36,138.77 372.03,140.40 372.70,141.89 373.37,143.22 374.04,144.40 374.71,145.43 375.37,146.32 376.04,147.07 376.71,147.71 377.38,148.24 378.05,148.67 378.71,149.03 379.38,149.31 380.05,149.54 380.72,149.72 381.39,149.86 382.05,149.97 382.72,150.05 383.39,150.12 384.06,150.17 384.73,150.20 385.39,150.23 386.06,150.25 386.73,150.26 387.40,150.27 388.07,150.28 388.74,150.29 389.40,150.29 390.07,150.29 390.74,150.30 391.41,150.30 392.08,150.30 392.74,150.30 393.41,150.30 394.08,150.30 394.75,150.30 395.42,150.30 396.09,150.30 396.75,150.30 397.42,150.30 398.09,150.30 398.76,150.30 399.43,150.30 400.09,150.30 400.76,150.30 401.43,150.30 402.10,150.30 402.77,150.30 403.43,150.30 404.10,150.30 404.77,150.30 405.44,150.30 406.11,150.30 406.77,150.30 407.44,150.30 408.11,150.30 408.78,150.30 409.45,150.30 410.12,150.30 410.78,150.30 411.45,150.30 412.12,150.30 412.79,150.30 413.46,150.30 414.12,150.30 414.79,150.30 415.46,150.30 416.13,150.30 416.80,150.30 417.47,150.30 418.13,150.30 418.80,150.30 419.47,150.30 420.14,150.30 420.81,150.30 421.47,150.30 422.14,150.30 422.81,150.30 423.48,150.30 424.15,150.30 424.81,150.30 425.48,150.30 426.15,150.30 426.82,150.30 427.49,150.30 428.15,150.30 428.82,150.30 429.49,150.30 430.16,150.30 430.83,150.30 431.50,150.30 432.16,150.30 432.83,150.30 433.50,150.30 433.5,150.3 326.6,150.3" fill="#f8c2c2" fill-opacity="0.85" stroke="none"/>
<polyline points="326.60,150.30 327.27,150.30 327.94,150.30 328.60,150.30 329.27,150.30 329.94,150.30 330.61,150.30 331.28,150.30 331.95,150.30 332.61,150.30 333.28,150.30 333.95,150.30 334.62,150.30 335.29,150.29 335.95,150.29 336.62,150.29 337.29,150.28 337.96,150.28 338.63,150.27 339.29,150.26 339.96,150.25 340.63,150.23 341.30,150.21 341.97,150.18 342.63,150.15 343.30,150.10 343.97,150.05 344.64,149.97 345.31,149.88 345.98,149.77 346.64,149.63 347.31,149.46 347.98,149.25 348.65,148.99 349.32,148.69 349.98,148.32 350.65,147.89 351.32,147.38 351.99,146.79 352.66,146.11 353.33,145.33 353.99,144.45 354.66,143.45 355.33,142.34 356.00,141.12 356.67,139.79 357.33,138.35 358.00,136.83 358.67,135.23 359.34,133.58 360.01,131.91 360.67,130.25 361.34,128.64 362.01,127.13 362.68,125.77 363.35,124.63 364.01,123.77 364.68,123.32 365.35,123.64 366.02,124.58 366.69,125.93 367.36,127.55 368.02,129.36 368.69,131.27 369.36,133.23 370.03,135.15 370.70,137.02 371.36,138.77 372.03,140.40 372.70,141.89 373.37,143.22 374.04,144.40 374.71,145.43 375.37,146.32 376.04,147.07 376.71,147.71 377.38,148.24 378.05,148.67 378.71,149.03 379.38,149.31 380.05,149.54 380.72,149.72 381.39,149.86 382.05,149.97 382.72,150.05 383.39,150.12 384.06,150.17 384.73,150.20 385.39,150.23 386.06,150.25 386.73,150.26 387.40,150.27 388.07,150.28 388.74,150.29 389.40,150.29 390.07,150.29 390.74,150.30 391.41,150.30 392.08,150.30 392.74,150.30 393.41,150.30 394.08,150.30 394.75,150.30 395.42,150.30 396.09,150.30 396.75,150.30 397.42,150.30 398.09,150.30 398.76,150.30 399.43,150.30 400.09,150.30 400.76,150.30 401.43,150.30 402.10,150.30 402.77,150.30 403.43,150.30 404.10,150.30 404.77,150.30 405.44,150.30 406.11,150.30 406.77,150.30 407.44,150.30 408.11,150.30 408.78,150.30 409.45,150.30 410.12,150.30 410.78,150.30 411.45,150.30 412.12,150.30 412.79,150.30 413.46,150.30 414.12,150.30 414.79,150.30 415.46,150.30 416.13,150.30 416.80,150.30 417.47,150.30 418.13,150.30 418.80,150.30 419.47,150.30 420.14,150.30 420.81,150.30 421.47,150.30 422.14,150.30 422.81,150.30 423.48,150.30 424.15,150.30 424.81,150.30 425.48,150.30 426.15,150.30 426.82,150.30 427.49,150.30 428.15,150.30 428.82,150.30 429.49,150.30 430.16,150.30 430.83,150.30 431.50,150.30 432.16,150.30 432.83,150.30 433.50,150.30" fill="none" stroke="#f28c8c" stroke-width="0.8"/>
<polyline points="326.60,166.39 327.27,166.39 327.94,166.38 328.60,166.38 329.27,166.37 329.94,166.37 330.61,166.36 331.28,166.35 331.95,166.34 332.61,166.33 333.28,166.32 333.95,166.30 334.62,166.28 335.29,166.26 335.95,166.23 336.62,166.20 337.29,166.16 337.96,166.11 338.63,166.06 339.29,166.00 339.96,165.93 340.63,165.85 341.30,165.76 341.97,165.66 342.63,165.54 343.30,165.40 343.97,165.25 344.64,165.07 345.31,164.87 345.98,164.65 346.64,164.39 347.31,164.11 347.98,163.80 348.65,163.45 349.32,163.07 349.98,162.64 350.65,162.17 351.32,161.66 351.99,161.10 352.66,160.49 353.33,159.84 353.99,159.13 354.66,158.37 355.33,157.56 356.00,156.70 356.67,155.79 357.33,154.83 358.00,153.82 358.67,152.78 359.34,151.70 360.01,150.59 360.67,149.45 361.34,148.30 362.01,147.14 362.68,145.99 363.35,144.86 364.01,143.75 364.68,142.69 365.35,141.69 366.02,140.77 366.69,139.94 367.36,139.23 368.02,138.66 368.69,138.26 369.36,138.11 370.03,139.02 370.70,140.79 371.36,143.10 372.03,145.70 372.70,148.42 373.37,151.11 374.04,153.65 374.71,155.97 375.37,158.01 376.04,159.78 376.71,161.26 377.38,162.47 378.05,163.45 378.71,164.22 379.38,164.81 380.05,165.26 380.72,165.59 381.39,165.84 382.05,166.01 382.72,166.14 383.39,166.23 384.06,166.28 384.73,166.33 385.39,166.35 386.06,166.37 386.73,166.38 387.40,166.39 388.07,166.39 388.74,166.40 389.40,166.40 390.07,166.40 390.74,166.40 391.41,166.40 392.08,166.40 392.74,166.40 393.41,166.40 394.08,166.40 394.75,166.40 395.42,166.40 396.09,166.40 396.75,166.40 397.42,166.40 398.09,166.40 398.76,166.40 399.43,166.40 400.09,166.40 400.76,166.40 401.43,166.40 402.10,166.40 402.77,166.40 403.43,166.40 404.10,166.40 404.77,166.40 405.44,166.40 406.11,166.40 406.77,166.40 407.44,166.40 408.11,166.40 408.78,166.40 409.45,166.40 410.12,166.40 410.78,166.40 411.45,166.40 412.12,166.40 412.79,166.40 413.46,166.40 414.12,166.40 414.79,166.40 415.46,166.40 416.13,166.40 416.80,166.40 417.47,166.40 418.13,166.40 418.80,166.40 419.47,166.40 420.14,166.40 420.81,166.40 421.47,166.40 422.14,166.40 422.81,166.40 423.48,166.40 424.15,166.40 424.81,166.40 425.48,166.40 426.15,166.40 426.82,166.40 427.49,166.40 428.15,166.40 428.82,166.40 429.49,166.40 430.16,166.40 430.83,166.40 431.50,166.40 432.16,166.40 432.83,166.40 433.50,166.40" fill="none" stroke="#3bb6bb" stroke-width="0.8"/>
<polyline points="326.60,180.60 327.27,180.60 327.94,180.60 328.60,180.60 329.27,180.60 329.94,180.60 330.61,180.60 331.28,180.60 331.95,180.60 332.61,180.60 333.28,180.60 333.95,180.60 334.62,180.60 335.29,180.60 335.95,180.60 336.62,180.60 337.29,180.60 337.96,180.60 338.63,180.60 339.29,180.60 339.96,180.60 340.63,180.60 341.30,180.60 341.97,180.60 342.63,180.60 343.30,180.60 343.97,180.60 344.64,180.60 345.31,180.60 345.98,180.60 346.64,180.60 347.31,180.60 347.98,180.60 348.65,180.60 349.32,180.60 349.98,180.60 350.65,180.59 351.32,180.59 351.99,180.59 352.66,180.58 353.33,180.57 353.99,180.56 354.66,180.54 355.33,180.52 356.00,180.48 356.67,180.44 357.33,180.38 358.00,180.30 358.67,180.19 359.34,180.05 360.01,179.87 360.67,179.63 361.34,179.34 362.01,178.97 362.68,178.51 363.35,177.95 364.01,177.27 364.68,176.45 365.35,175.48 366.02,174.36 366.69,173.06 367.36,171.59 368.02,169.94 368.69,168.14 369.36,166.20 370.03,164.15 370.70,162.05 371.36,159.95 372.03,157.92 372.70,156.06 373.37,154.46 374.04,153.25 374.71,152.62 375.37,153.43 376.04,155.56 376.71,158.40 377.38,161.57 378.05,164.79 378.71,167.84 379.38,170.58 380.05,172.93 380.72,174.87 381.39,176.43 382.05,177.63 382.72,178.53 383.39,179.19 384.06,179.66 384.73,179.99 385.39,180.21 386.06,180.36 386.73,180.45 387.40,180.51 388.07,180.55 388.74,180.57 389.40,180.58 390.07,180.59 390.74,180.59 391.41,180.60 392.08,180.60 392.74,180.60 393.41,180.60 394.08,180.60 394.75,180.60 395.42,180.60 396.09,180.60 396.75,180.60 397.42,180.60 398.09,180.60 398.76,180.60 399.43,180.60 400.09,180.60 400.76,180.60 401.43,180.60 402.10,180.60 402.77,180.60 403.43,180.60 404.10,180.60 404.77,180.60 405.44,180.60 406.11,180.60 406.77,180.60 407.44,180.60 408.11,180.60 408.78,180.60 409.45,180.60 410.12,180.60 410.78,180.60 411.45,180.60 412.12,180.60 412.79,180.60 413.46,180.60 414.12,180.60 414.79,180.60 415.46,180.60 416.13,180.60 416.80,180.60 417.47,180.60 418.13,180.60 418.80,180.60 419.47,180.60 420.14,180.60 420.81,180.60 421.47,180.60 422.14,180.60 422.81,180.60 423.48,180.60 424.15,180.60 424.81,180.60 425.48,180.60 426.15,180.60 426.82,180.60 427.49,180.60 428.15,180.60 428.82,180.60 429.49,180.60 430.16,180.60 430.83,180.60 431.50,180.60 432.16,180.60 432.83,180.60 433.50,180.60" fill="none" stroke="#f28c8c" stroke-width="0.8"/>
<rect x="326.60" y="104.60" width="106.90" height="76.10" fill="none" stroke="#777" stroke-width="0.6"/>
<line x1="326.60" y1="180.70" x2="326.60" y2="182.70" stroke="#444" stroke-width="0.5"/>
<line x1="334.40" y1="180.70" x2="334.40" y2="182.00" stroke="#444" stroke-width="0.5"/>
<line x1="338.96" y1="180.70" x2="338.96" y2="182.00" stroke="#444" stroke-width="0.5"/>
<line x1="342.19" y1="180.70" x2="342.19" y2="182.00" stroke="#444" stroke-width="0.5"/>
<line x1="344.70" y1="180.70" x2="344.70" y2="182.00" stroke="#444" stroke-width="0.5"/>
<line x1="346.75" y1="180.70" x2="346.75" y2="182.00" stroke="#444" stroke-width="0.5"/>
<line x1="348.49" y1="180.70" x2="348.49" y2="182.00" stroke="#444" stroke-width="0.5"/>
<line x1="349.99" y1="180.70" x2="349.99" y2="182.00" stroke="#444" stroke-width="0.5"/>
<line x1="351.31" y1="180.70" x2="351.31" y2="182.00" stroke="#444" stroke-width="0.5"/>
<line x1="352.50" y1="180.70" x2="352.50" y2="182.70" stroke="#444" stroke-width="0.5"/>
<line x1="360.30" y1="180.70" x2="360.30" y2="182.00" stroke="#444" stroke-width="0.5"/>
<line x1="364.86" y1="180.70" x2="364.86" y2="182.00" stroke="#444" stroke-width="0.5"/>
<line x1="368.09" y1="180.70" x2="368.09" y2="182.00" stroke="#444" stroke-width="0.5"/>
<line x1="370.60" y1="180.70" x2="370.60" y2="182.00" stroke="#444" stroke-width="0.5"/>
<line x1="372.65" y1="180.70" x2="372.65" y2="182.00" stroke="#444" stroke-width="0.5"/>
<line x1="374.39" y1="180.70" x2="374.39" y2="182.00" stroke="#444" stroke-width="0.5"/>
<line x1="375.89" y1="180.70" x2="375.89" y2="182.00" stroke="#444" stroke-width="0.5"/>
<line x1="377.21" y1="180.70" x2="377.21" y2="182.00" stroke="#444" stroke-width="0.5"/>
<line x1="378.40" y1="180.70" x2="378.40" y2="182.70" stroke="#444" stroke-width="0.5"/>
<line x1="386.20" y1="180.70" x2="386.20" y2="182.00" stroke="#444" stroke-width="0.5"/>
<line x1="390.76" y1="180.70" x2="390.76" y2="182.00" stroke="#444" stroke-width="0.5"/>
<line x1="393.99" y1="180.70" x2="393.99" y2="182.00" stroke="#444" stroke-width="0.5"/>
<line x1="396.50" y1="180.70" x2="396.50" y2="182.00" stroke="#444" stroke-width="0.5"/>
<line x1="398.55" y1="180.70" x2="398.55" y2="182.00" stroke="#444" stroke-width="0.5"/>
<line x1="400.29" y1="180.70" x2="400.29" y2="182.00" stroke="#444" stroke-width="0.5"/>
<line x1="401.79" y1="180.70" x2="401.79" y2="182.00" stroke="#444" stroke-width="0.5"/>
<line x1="403.11" y1="180.70" x2="403.11" y2="182.00" stroke="#444" stroke-width="0.5"/>
<line x1="404.30" y1="180.70" x2="404.30" y2="182.70" stroke="#444" stroke-width="0.5"/>
<line x1="412.10" y1="180.70" x2="412.10" y2="182.00" stroke="#444" stroke-width="0.5"/>
<line x1="416.66" y1="180.70" x2="416.66" y2="182.00" stroke="#444" stroke-width="0.5"/>
<line x1="419.89" y1="180.70" x2="419.89" y2="182.00" stroke="#444" stroke-width="0.5"/>
<line x1="422.40" y1="180.70" x2="422.40" y2="182.00" stroke="#444" stroke-width="0.5"/>
<line x1="424.45" y1="180.70" x2="424.45" y2="182.00" stroke="#444" stroke-width="0.5"/>
<line x1="426.19" y1="180.70" x2="426.19" y2="182.00" stroke="#444" stroke-width="0.5"/>
<line x1="427.69" y1="180.70" x2="427.69" y2="182.00" stroke="#444" stroke-width="0.5"/>
<line x1="429.01" y1="180.70" x2="429.01" y2="182.00" stroke="#444" stroke-width="0.5"/>
<path d="M354.2,182.2 L356.8,182.2 L355.5,180.6 z" fill="#111"/>
<text x="430.80" y="132.78" font-size="6.6" text-anchor="end">WT (no αCD3)</text>
<text x="430.80" y="147.38" font-size="6.6" text-anchor="end">KO (no αCD3)</text>
<text x="430.80" y="163.18" font-size="6.6" text-anchor="end">WT (αCD3)</text>
<text x="430.80" y="177.28" font-size="6.6" text-anchor="end">KO (αCD3)</text>
<text x="318.90" y="145.01" font-size="6.7" text-anchor="middle" transform="rotate(-90 318.90 142.60)">Percentage of maximum</text>
<text x="330.80" y="190.58" font-size="6.6">TOX PE</text>
<line x1="360.50" y1="188.20" x2="429.00" y2="188.20" stroke="#111" stroke-width="0.7"/>
<polygon points="432.50,188.20 429.00,189.80 429.00,186.60" fill="#111"/>
<line x1="480.10" y1="101.70" x2="480.10" y2="175.10" stroke="#c4c4c4" stroke-width="0.9"/>
<line x1="477.50" y1="175.30" x2="534.70" y2="175.30" stroke="#666" stroke-width="0.8"/>
<line x1="478.40" y1="175.10" x2="480.40" y2="175.10" stroke="#333" stroke-width="0.6"/>
<text x="476.60" y="177.48" font-size="6.6" text-anchor="end">0</text>
<line x1="478.40" y1="156.75" x2="480.40" y2="156.75" stroke="#333" stroke-width="0.6"/>
<text x="476.60" y="159.13" font-size="6.6" text-anchor="end">100</text>
<line x1="478.40" y1="138.40" x2="480.40" y2="138.40" stroke="#333" stroke-width="0.6"/>
<text x="476.60" y="140.78" font-size="6.6" text-anchor="end">200</text>
<line x1="478.40" y1="120.05" x2="480.40" y2="120.05" stroke="#333" stroke-width="0.6"/>
<text x="476.60" y="122.43" font-size="6.6" text-anchor="end">300</text>
<line x1="478.40" y1="101.70" x2="480.40" y2="101.70" stroke="#333" stroke-width="0.6"/>
<text x="476.60" y="104.08" font-size="6.6" text-anchor="end">400</text>
<text x="455.30" y="141.38" font-size="6.6" text-anchor="middle" transform="rotate(-90 455.30 139.00)">TOX MFI</text>
<rect x="484.20" y="162.25" width="8.00" height="12.84" fill="#14889f" stroke="#222" stroke-width="0.7"/>
<line x1="488.20" y1="175.10" x2="488.20" y2="177.20" stroke="#333" stroke-width="0.6"/>
<rect x="497.00" y="157.67" width="8.00" height="17.43" fill="#f37474" stroke="#222" stroke-width="0.7"/>
<line x1="501.00" y1="175.10" x2="501.00" y2="177.20" stroke="#333" stroke-width="0.6"/>
<rect x="509.50" y="141.15" width="8.00" height="33.95" fill="#fff" stroke="#7ccfe0" stroke-width="0.7"/>
<line x1="513.50" y1="175.10" x2="513.50" y2="177.20" stroke="#333" stroke-width="0.6"/>
<rect x="522.00" y="116.01" width="8.00" height="59.09" fill="#fff" stroke="#f47c7c" stroke-width="0.7"/>
<line x1="526.00" y1="175.10" x2="526.00" y2="177.20" stroke="#333" stroke-width="0.6"/>
<circle cx="485.60" cy="161.52" r="1.15" fill="#fff" stroke="#333" stroke-width="0.45"/>
<circle cx="488.20" cy="162.07" r="1.15" fill="#fff" stroke="#333" stroke-width="0.45"/>
<circle cx="490.80" cy="162.62" r="1.15" fill="#fff" stroke="#333" stroke-width="0.45"/>
<circle cx="492.40" cy="162.99" r="1.15" fill="#fff" stroke="#333" stroke-width="0.45"/>
<circle cx="499.00" cy="157.48" r="1.15" fill="#fff" stroke="#333" stroke-width="0.45"/>
<circle cx="501.00" cy="156.02" r="1.15" fill="#fff" stroke="#333" stroke-width="0.45"/>
<circle cx="503.00" cy="158.58" r="1.15" fill="#fff" stroke="#333" stroke-width="0.45"/>
<circle cx="504.00" cy="156.93" r="1.15" fill="#fff" stroke="#333" stroke-width="0.45"/>
<circle cx="510.90" cy="140.60" r="1.15" fill="#fff" stroke="#333" stroke-width="0.45"/>
<circle cx="513.50" cy="140.97" r="1.15" fill="#fff" stroke="#333" stroke-width="0.45"/>
<circle cx="516.10" cy="141.34" r="1.15" fill="#fff" stroke="#333" stroke-width="0.45"/>
<circle cx="524.50" cy="112.71" r="1.15" fill="#fff" stroke="#333" stroke-width="0.45"/>
<circle cx="526.00" cy="114.54" r="1.15" fill="#fff" stroke="#333" stroke-width="0.45"/>
<circle cx="527.50" cy="116.75" r="1.15" fill="#fff" stroke="#333" stroke-width="0.45"/>
<circle cx="528.50" cy="115.28" r="1.15" fill="#fff" stroke="#333" stroke-width="0.45"/>
<line x1="489.00" y1="144.30" x2="500.90" y2="144.30" stroke="#444" stroke-width="0.8"/>
<text x="495.00" y="145.66" font-size="8.3" text-anchor="middle" fill="#111">*</text>
<line x1="513.40" y1="104.50" x2="526.20" y2="104.50" stroke="#444" stroke-width="0.8"/>
<text x="519.80" y="105.86" font-size="8.3" text-anchor="middle" fill="#111">****</text>
<text x="480.70" y="185.58" font-size="6.6" text-anchor="end">KLHL6 KO</text>
<text x="480.70" y="195.18" font-size="6.6" text-anchor="end">αCD3 (72 h)</text>
<text x="488.10" y="186.48" font-size="6.6" text-anchor="middle">−</text>
<text x="488.10" y="196.08" font-size="6.6" text-anchor="middle">−</text>
<text x="500.30" y="186.48" font-size="6.6" text-anchor="middle">+</text>
<text x="500.30" y="196.08" font-size="6.6" text-anchor="middle">−</text>
<text x="513.20" y="186.48" font-size="6.6" text-anchor="middle">−</text>
<text x="513.20" y="196.08" font-size="6.6" text-anchor="middle">+</text>
<text x="526.00" y="186.48" font-size="6.6" text-anchor="middle">+</text>
<text x="526.00" y="196.08" font-size="6.6" text-anchor="middle">+</text>
<text x="549.30" y="123.60" font-size="11.5" font-weight="bold" fill="#000">e</text>
<text x="584.00" y="130.98" font-size="6.6" text-anchor="middle">−</text>
<text x="584.00" y="140.08" font-size="6.6" text-anchor="middle">−</text>
<text x="606.50" y="130.98" font-size="6.6" text-anchor="middle">−</text>
<text x="606.50" y="140.08" font-size="6.6" text-anchor="middle">+</text>
<text x="629.30" y="130.98" font-size="6.6" text-anchor="middle">+</text>
<text x="629.30" y="140.08" font-size="6.6" text-anchor="middle">+</text>
<text x="647.50" y="130.08" font-size="6.6">MG132</text>
<text x="647.50" y="139.18" font-size="6.6">KLHL6-Myc</text>
<text x="548.50" y="139.07" font-size="6.3">(kDa)</text>
<clipPath id="cp12"><rect x="569.2" y="140.8" width="75.19999999999993" height="18.5"/></clipPath>
<g clip-path="url(#cp12)">
<rect x="569.20" y="140.80" width="75.20" height="18.50" fill="#e6e6e6"/>
<rect x="577.55" y="147.10" width="14.50" height="6.00" rx="2.40" fill="#000" fill-opacity="1" filter="url(#b1)"/>
<rect x="577.80" y="142.50" width="14.00" height="4.00" rx="1.60" fill="#000" fill-opacity="0.15" filter="url(#b2)"/>
<rect x="599.20" y="148.30" width="14.00" height="4.20" rx="1.68" fill="#000" fill-opacity="0.42" filter="url(#b1)"/>
<rect x="599.00" y="148.40" width="4.00" height="4.00" rx="1.60" fill="#000" fill-opacity="0.2" filter="url(#b1)"/>
<rect x="610.00" y="148.40" width="4.00" height="4.00" rx="1.60" fill="#000" fill-opacity="0.2" filter="url(#b1)"/>
<rect x="622.65" y="147.10" width="15.50" height="5.60" rx="2.24" fill="#000" fill-opacity="0.97" filter="url(#b1)"/>
<rect x="623.40" y="142.50" width="14.00" height="4.00" rx="1.60" fill="#000" fill-opacity="0.12" filter="url(#b2)"/>
</g>
<rect x="569.20" y="140.80" width="75.20" height="18.50" fill="none" stroke="#4a4a4a" stroke-width="0.7"/>
<clipPath id="cp13"><rect x="569.2" y="161.4" width="75.19999999999993" height="18.19999999999999"/></clipPath>
<g clip-path="url(#cp13)">
<rect x="569.20" y="161.40" width="75.20" height="18.20" fill="#e9e9e9"/>
<rect x="600.00" y="168.10" width="15.00" height="5.80" rx="2.32" fill="#000" fill-opacity="1" filter="url(#b1)"/>
<rect x="622.90" y="168.10" width="15.00" height="5.80" rx="2.32" fill="#000" fill-opacity="1" filter="url(#b1)"/>
</g>
<rect x="569.20" y="161.40" width="75.20" height="18.20" fill="none" stroke="#4a4a4a" stroke-width="0.7"/>
<clipPath id="cp14"><rect x="569.2" y="181.6" width="75.19999999999993" height="17.80000000000001"/></clipPath>
<g clip-path="url(#cp14)">
<rect x="569.20" y="181.60" width="75.20" height="17.80" fill="#e6e6e6"/>
<rect x="576.20" y="187.30" width="17.00" height="5.60" rx="2.24" fill="#000" fill-opacity="1" filter="url(#b1)"/>
<rect x="598.50" y="187.30" width="17.00" height="5.60" rx="2.24" fill="#000" fill-opacity="1" filter="url(#b1)"/>
<rect x="621.90" y="187.30" width="17.00" height="5.60" rx="2.24" fill="#000" fill-opacity="1" filter="url(#b1)"/>
</g>
<rect x="569.20" y="181.60" width="75.20" height="17.80" fill="none" stroke="#4a4a4a" stroke-width="0.7"/>
<text x="648.00" y="152.28" font-size="6.6">TOX</text>
<text x="648.00" y="173.38" font-size="6.6">Myc</text>
<text x="648.00" y="192.68" font-size="6.6">Actin</text>
<text x="564.20" y="157.08" font-size="6.6" text-anchor="end">55</text>
<line x1="565.30" y1="154.70" x2="568.40" y2="154.70" stroke="#333" stroke-width="0.6"/>
<text x="564.20" y="176.78" font-size="6.6" text-anchor="end">70</text>
<line x1="565.30" y1="174.40" x2="568.40" y2="174.40" stroke="#333" stroke-width="0.6"/>
<text x="564.20" y="196.28" font-size="6.6" text-anchor="end">40</text>
<line x1="565.30" y1="193.90" x2="568.40" y2="193.90" stroke="#333" stroke-width="0.6"/>
<line x1="602.80" y1="229.80" x2="602.80" y2="304.30" stroke="#999" stroke-width="0.7"/>
<line x1="599.50" y1="304.40" x2="651.20" y2="304.40" stroke="#555" stroke-width="0.8"/>
<line x1="600.50" y1="304.30" x2="602.50" y2="304.30" stroke="#333" stroke-width="0.6"/>
<text x="597.00" y="306.68" font-size="6.6" text-anchor="end">0</text>
<line x1="600.50" y1="279.40" x2="602.50" y2="279.40" stroke="#333" stroke-width="0.6"/>
<text x="597.00" y="281.78" font-size="6.6" text-anchor="end">0.5</text>
<line x1="600.50" y1="254.50" x2="602.50" y2="254.50" stroke="#333" stroke-width="0.6"/>
<text x="597.00" y="256.88" font-size="6.6" text-anchor="end">1.0</text>
<line x1="600.50" y1="229.60" x2="602.50" y2="229.60" stroke="#333" stroke-width="0.6"/>
<text x="597.00" y="231.98" font-size="6.6" text-anchor="end">1.5</text>
<text x="572.00" y="268.28" font-size="6.6" text-anchor="middle" transform="rotate(-90 572.00 265.90)">Relative TOX</text>
<text x="578.40" y="268.28" font-size="6.6" text-anchor="middle" transform="rotate(-90 578.40 265.90)">protein level</text>
<rect x="607.60" y="250.52" width="9.00" height="53.78" fill="#14889f" stroke="#222" stroke-width="0.7"/>
<line x1="612.10" y1="304.30" x2="612.10" y2="306.40" stroke="#333" stroke-width="0.6"/>
<line x1="612.10" y1="250.52" x2="612.10" y2="245.54" stroke="#333" stroke-width="0.6"/>
<line x1="610.10" y1="245.54" x2="614.10" y2="245.54" stroke="#333" stroke-width="0.6"/>
<rect x="622.50" y="276.16" width="9.00" height="28.14" fill="#f37474" stroke="#222" stroke-width="0.7"/>
<line x1="627.00" y1="304.30" x2="627.00" y2="306.40" stroke="#333" stroke-width="0.6"/>
<line x1="627.00" y1="276.16" x2="627.00" y2="274.67" stroke="#333" stroke-width="0.6"/>
<line x1="625.00" y1="274.67" x2="629.00" y2="274.67" stroke="#333" stroke-width="0.6"/>
<rect x="637.50" y="260.97" width="9.00" height="43.33" fill="#a9dba6" stroke="#222" stroke-width="0.7"/>
<line x1="642.00" y1="304.30" x2="642.00" y2="306.40" stroke="#333" stroke-width="0.6"/>
<line x1="642.00" y1="260.97" x2="642.00" y2="259.98" stroke="#333" stroke-width="0.6"/>
<line x1="640.00" y1="259.98" x2="644.00" y2="259.98" stroke="#333" stroke-width="0.6"/>
<circle cx="611.80" cy="240.56" r="1.0" fill="#fff" stroke="#444" stroke-width="0.4"/>
<circle cx="609.60" cy="253.01" r="1.0" fill="#fff" stroke="#444" stroke-width="0.4"/>
<circle cx="614.60" cy="255.00" r="1.0" fill="#fff" stroke="#444" stroke-width="0.4"/>
<circle cx="627.00" cy="273.42" r="1.0" fill="#fff" stroke="#444" stroke-width="0.4"/>
<circle cx="625.50" cy="276.41" r="1.0" fill="#fff" stroke="#444" stroke-width="0.4"/>
<circle cx="628.50" cy="276.91" r="1.0" fill="#fff" stroke="#444" stroke-width="0.4"/>
<circle cx="642.00" cy="257.99" r="1.0" fill="#fff" stroke="#444" stroke-width="0.4"/>
<circle cx="640.00" cy="259.98" r="1.0" fill="#fff" stroke="#444" stroke-width="0.4"/>
<circle cx="644.50" cy="261.97" r="1.0" fill="#fff" stroke="#444" stroke-width="0.4"/>
<line x1="612.30" y1="232.30" x2="627.60" y2="232.30" stroke="#444" stroke-width="0.8"/>
<text x="620.00" y="233.66" font-size="8.3" text-anchor="middle" fill="#111">**</text>
<line x1="627.20" y1="247.20" x2="642.10" y2="247.20" stroke="#444" stroke-width="0.8"/>
<text x="634.60" y="248.56" font-size="8.3" text-anchor="middle" fill="#111">*</text>
<text x="602.90" y="316.18" font-size="6.6" text-anchor="end">MG132</text>
<text x="602.90" y="325.58" font-size="6.6" text-anchor="end">KLHL6-Myc</text>
<text x="612.40" y="317.08" font-size="6.6" text-anchor="middle">−</text>
<text x="612.40" y="326.48" font-size="6.6" text-anchor="middle">−</text>
<text x="627.20" y="317.08" font-size="6.6" text-anchor="middle">−</text>
<text x="627.20" y="326.48" font-size="6.6" text-anchor="middle">+</text>
<text x="642.10" y="317.08" font-size="6.6" text-anchor="middle">+</text>
<text x="642.10" y="326.48" font-size="6.6" text-anchor="middle">+</text>
<text x="0.00" y="196.20" font-size="11.5" font-weight="bold" fill="#000">f</text>
<text x="47.60" y="202.08" font-size="6.6" text-anchor="middle">−</text>
<text x="47.60" y="210.68" font-size="6.6" text-anchor="middle">−</text>
<text x="70.10" y="202.08" font-size="6.6" text-anchor="middle">+</text>
<text x="70.10" y="210.68" font-size="6.6" text-anchor="middle">−</text>
<text x="92.50" y="202.08" font-size="6.6" text-anchor="middle">−</text>
<text x="92.50" y="210.68" font-size="6.6" text-anchor="middle">+</text>
<text x="113.40" y="202.08" font-size="6.6" text-anchor="middle">+</text>
<text x="113.40" y="210.68" font-size="6.6" text-anchor="middle">+</text>
<text x="130.90" y="201.98" font-size="6.6">KLHL6-Myc</text>
<text x="130.90" y="211.58" font-size="6.6">Anti-CD3</text>
<text x="130.90" y="220.88" font-size="6.6">(24 h)</text>
<text x="16.00" y="210.27" font-size="6.3">(kDa)</text>
<linearGradient id="gf1" x1="0" y1="212.4" x2="0" y2="281.4" gradientUnits="userSpaceOnUse"><stop offset="0" stop-color="#8a8a8a"/><stop offset="0.1" stop-color="#4a4a4a"/><stop offset="0.28" stop-color="#5a5a5a"/><stop offset="0.45" stop-color="#787878"/><stop offset="0.7" stop-color="#959595"/><stop offset="1" stop-color="#a2a2a2"/></linearGradient>
<linearGradient id="gf2" x1="0" y1="212.4" x2="0" y2="281.4" gradientUnits="userSpaceOnUse"><stop offset="0" stop-color="#000"/><stop offset="0.45" stop-color="#000"/><stop offset="0.62" stop-color="#2e2e2e"/><stop offset="0.8" stop-color="#4a4a4a"/><stop offset="1" stop-color="#5a5a5a"/></linearGradient>
<linearGradient id="gf3" x1="0" y1="212.4" x2="0" y2="281.4" gradientUnits="userSpaceOnUse"><stop offset="0" stop-color="#a0a0a0"/><stop offset="0.12" stop-color="#8c8c8c"/><stop offset="0.28" stop-color="#8a8a8a"/><stop offset="0.45" stop-color="#a8a8a8"/><stop offset="1" stop-color="#bebebe"/></linearGradient>
<linearGradient id="gf4" x1="0" y1="212.4" x2="0" y2="281.4" gradientUnits="userSpaceOnUse"><stop offset="0" stop-color="#8a8a8a"/><stop offset="0.09" stop-color="#2a2a2a"/><stop offset="0.18" stop-color="#181818"/><stop offset="0.3" stop-color="#4a4a4a"/><stop offset="0.45" stop-color="#7a7a7a"/><stop offset="0.7" stop-color="#989898"/><stop offset="1" stop-color="#a5a5a5"/></linearGradient>
<clipPath id="cp15"><rect x="36.6" y="212.4" width="89.69999999999999" height="68.99999999999997"/></clipPath>
<g clip-path="url(#cp15)">
<rect x="36.60" y="212.40" width="89.70" height="69.00" fill="#cdcdcd"/>
<rect x="40" y="205" width="17.2" height="82" fill="url(#gf1)" filter="url(#b2)"/><rect x="62.3" y="205" width="16.8" height="82" fill="url(#gf2)" filter="url(#b2)"/><rect x="84.8" y="205" width="14.4" height="82" fill="url(#gf3)" filter="url(#b2)"/><rect x="106" y="205" width="16.2" height="82" fill="url(#gf4)" filter="url(#b2)"/><ellipse cx="43.5" cy="225" rx="2.5" ry="6" fill="#333" filter="url(#b2)"/><ellipse cx="53.5" cy="228" rx="2.5" ry="6" fill="#3a3a3a" filter="url(#b2)"/><ellipse cx="109" cy="227" rx="3" ry="7" fill="#000" filter="url(#b2)"/><ellipse cx="119" cy="227" rx="3" ry="7" fill="#000" filter="url(#b2)"/><ellipse cx="92" cy="228" rx="5" ry="5" fill="#777" filter="url(#b2)"/><rect x="58" y="205" width="3.5" height="82" fill="#dcdcdc" filter="url(#b1)"/><rect x="80.5" y="205" width="3.5" height="82" fill="#dcdcdc" filter="url(#b1)"/><rect x="100.5" y="205" width="4.5" height="82" fill="#d6d6d6" filter="url(#b1)"/>
</g>
<rect x="36.60" y="212.40" width="89.70" height="69.00" fill="none" stroke="#4a4a4a" stroke-width="0.7"/>
<clipPath id="cp16"><rect x="36.5" y="282.8" width="90.0" height="14.5"/></clipPath>
<g clip-path="url(#cp16)">
<rect x="36.50" y="282.80" width="90.00" height="14.50" fill="#e2e2e2"/>
<rect x="40.85" y="287.30" width="16.50" height="6.20" rx="2.48" fill="#000" fill-opacity="1" filter="url(#b1)"/>
<rect x="63.15" y="287.30" width="16.50" height="6.20" rx="2.48" fill="#000" fill-opacity="1" filter="url(#b1)"/>
<rect x="84.15" y="287.30" width="15.50" height="6.20" rx="2.48" fill="#000" fill-opacity="1" filter="url(#b1)"/>
<rect x="105.75" y="287.30" width="16.50" height="6.20" rx="2.48" fill="#000" fill-opacity="1" filter="url(#b1)"/>
</g>
<rect x="36.50" y="282.80" width="90.00" height="14.50" fill="none" stroke="#4a4a4a" stroke-width="0.7"/>
<clipPath id="cp17"><rect x="36.5" y="299" width="90.0" height="15.399999999999977"/></clipPath>
<g clip-path="url(#cp17)">
<rect x="36.50" y="299.00" width="90.00" height="15.40" fill="#e8e8e8"/>
<rect x="64.60" y="306.00" width="15.00" height="5.40" rx="2.16" fill="#000" fill-opacity="1" filter="url(#b1)"/>
<rect x="65.10" y="300.50" width="14.00" height="5.00" rx="2.00" fill="#000" fill-opacity="0.25" filter="url(#b2)"/>
<rect x="107.80" y="307.40" width="14.00" height="3.20" rx="1.28" fill="#000" fill-opacity="0.8" filter="url(#b1)"/>
<rect x="108.80" y="303.50" width="12.00" height="3.00" rx="1.20" fill="#000" fill-opacity="0.12" filter="url(#b2)"/>
</g>
<rect x="36.50" y="299.00" width="90.00" height="15.40" fill="none" stroke="#4a4a4a" stroke-width="0.7"/>
<clipPath id="cp18"><rect x="36.5" y="316.3" width="90.0" height="15.0"/></clipPath>
<g clip-path="url(#cp18)">
<rect x="36.50" y="316.30" width="90.00" height="15.00" fill="#e2e2e2"/>
<rect x="41.30" y="320.70" width="18.00" height="6.60" rx="2.64" fill="#000" fill-opacity="1" filter="url(#b1)"/>
<rect x="62.65" y="320.70" width="17.50" height="6.60" rx="2.64" fill="#000" fill-opacity="1" filter="url(#b1)"/>
<rect x="84.00" y="320.70" width="17.00" height="6.60" rx="2.64" fill="#000" fill-opacity="1" filter="url(#b1)"/>
<rect x="104.95" y="320.70" width="17.50" height="6.60" rx="2.64" fill="#000" fill-opacity="1" filter="url(#b1)"/>
</g>
<rect x="36.50" y="316.30" width="90.00" height="15.00" fill="none" stroke="#4a4a4a" stroke-width="0.7"/>
<text x="30.80" y="228.28" font-size="6.6" text-anchor="end">180</text>
<line x1="32.00" y1="225.90" x2="35.30" y2="225.90" stroke="#333" stroke-width="0.6"/>
<text x="30.80" y="242.28" font-size="6.6" text-anchor="end">130</text>
<line x1="32.00" y1="239.90" x2="35.30" y2="239.90" stroke="#333" stroke-width="0.6"/>
<text x="30.80" y="268.78" font-size="6.6" text-anchor="end">100</text>
<line x1="32.00" y1="266.40" x2="35.30" y2="266.40" stroke="#333" stroke-width="0.6"/>
<text x="30.80" y="295.88" font-size="6.6" text-anchor="end">55</text>
<line x1="32.00" y1="293.50" x2="35.30" y2="293.50" stroke="#333" stroke-width="0.6"/>
<text x="30.80" y="311.88" font-size="6.6" text-anchor="end">70</text>
<line x1="32.00" y1="309.50" x2="35.30" y2="309.50" stroke="#333" stroke-width="0.6"/>
<text x="30.80" y="330.38" font-size="6.6" text-anchor="end">55</text>
<line x1="32.00" y1="328.00" x2="35.30" y2="328.00" stroke="#333" stroke-width="0.6"/>
<line x1="15.80" y1="216.00" x2="15.80" y2="294.00" stroke="#666" stroke-width="0.6"/>
<line x1="15.80" y1="301.00" x2="15.80" y2="329.20" stroke="#666" stroke-width="0.6"/>
<text x="10.20" y="259.08" font-size="6.6" text-anchor="middle" transform="rotate(-90 10.20 256.70)">IP: TOX</text>
<text x="10.20" y="317.28" font-size="6.6" text-anchor="middle" transform="rotate(-90 10.20 314.90)">Input</text>
<line x1="129.30" y1="213.00" x2="129.30" y2="280.80" stroke="#555" stroke-width="0.6"/>
<text x="131.5" y="254.3" font-size="6.6" fill="#111">Ub<tspan font-size="4.8" dy="1.8">(n)</tspan></text>
<text x="129.30" y="292.58" font-size="6.6">TOX</text>
<text x="129.30" y="310.28" font-size="6.6">Myc</text>
<text x="129.30" y="327.78" font-size="6.6">TOX</text>
<text x="194.60" y="224.80" font-size="11.5" font-weight="bold" fill="#000">g</text>
<text x="201.10" y="240.57" font-size="6.3">(kDa)</text>
<text x="235.10" y="240.68" font-size="6.6" text-anchor="middle">WT</text>
<text x="259.40" y="240.68" font-size="6.6" text-anchor="middle">KO</text>
<linearGradient id="gg1" x1="0" y1="243" x2="0" y2="311" gradientUnits="userSpaceOnUse"><stop offset="0" stop-color="#383838"/><stop offset="0.18" stop-color="#2a2a2a"/><stop offset="0.26" stop-color="#050505"/><stop offset="1" stop-color="#000"/></linearGradient>
<linearGradient id="gg2" x1="0" y1="243" x2="0" y2="311" gradientUnits="userSpaceOnUse"><stop offset="0" stop-color="#c6c6c6"/><stop offset="0.55" stop-color="#cacaca"/><stop offset="0.7" stop-color="#d8d8d8"/><stop offset="1" stop-color="#dedede"/></linearGradient>
<clipPath id="cp19"><rect x="223.5" y="242.9" width="48.39999999999998" height="67.99999999999997"/></clipPath>
<g clip-path="url(#cp19)">
<rect x="223.50" y="242.90" width="48.40" height="68.00" fill="#cfcfcf"/>
<rect x="225" y="236" width="21.5" height="82" fill="url(#gg1)" filter="url(#b1)"/><ellipse cx="234" cy="249" rx="3.5" ry="4" fill="#4a4a4a" filter="url(#b2)"/><ellipse cx="224" cy="262" rx="3" ry="6" fill="#cfcfcf" filter="url(#b2)"/><ellipse cx="247.5" cy="262" rx="3" ry="6" fill="#cfcfcf" filter="url(#b2)"/><rect x="251.3" y="236" width="19.6" height="82" fill="url(#gg2)" filter="url(#b1)"/><ellipse cx="266.5" cy="252" rx="2.2" ry="4.5" fill="#666" filter="url(#b2)"/><ellipse cx="255" cy="252" rx="2.5" ry="2.5" fill="#a8a8a8" filter="url(#b2)"/><ellipse cx="256" cy="277" rx="4.5" ry="6" fill="#9a9a9a" filter="url(#b3)"/><ellipse cx="266.5" cy="278" rx="2.5" ry="7" fill="#555" filter="url(#b2)"/><ellipse cx="261" cy="298" rx="5" ry="8" fill="#c4c4c4" filter="url(#b3)"/>
</g>
<rect x="223.50" y="242.90" width="48.40" height="68.00" fill="none" stroke="#4a4a4a" stroke-width="0.7"/>
<clipPath id="cp20"><rect x="223.5" y="312.8" width="48.39999999999998" height="16.19999999999999"/></clipPath>
<g clip-path="url(#cp20)">
<rect x="223.50" y="312.80" width="48.40" height="16.20" fill="#d8d8d8"/>
<rect x="225.05" y="316.35" width="18.50" height="8.50" rx="3.40" fill="#000" fill-opacity="0.82" filter="url(#b1)"/>
<rect x="227.00" y="317.50" width="6.00" height="6.00" rx="2.40" fill="#000" fill-opacity="0.3" filter="url(#b1)"/>
<rect x="236.50" y="317.50" width="6.00" height="6.00" rx="2.40" fill="#000" fill-opacity="0.3" filter="url(#b1)"/>
<rect x="251.75" y="315.65" width="18.50" height="9.50" rx="3.80" fill="#000" fill-opacity="0.95" filter="url(#b1)"/>
<rect x="263.00" y="316.90" width="6.00" height="7.00" rx="2.80" fill="#000" fill-opacity="0.4" filter="url(#b1)"/>
</g>
<rect x="223.50" y="312.80" width="48.40" height="16.20" fill="none" stroke="#4a4a4a" stroke-width="0.7"/>
<text x="217.30" y="252.18" font-size="6.6" text-anchor="end">180</text>
<line x1="218.50" y1="249.80" x2="221.80" y2="249.80" stroke="#333" stroke-width="0.6"/>
<text x="217.30" y="266.78" font-size="6.6" text-anchor="end">130</text>
<line x1="218.50" y1="264.40" x2="221.80" y2="264.40" stroke="#333" stroke-width="0.6"/>
<text x="217.30" y="298.98" font-size="6.6" text-anchor="end">100</text>
<line x1="218.50" y1="296.60" x2="221.80" y2="296.60" stroke="#333" stroke-width="0.6"/>
<text x="217.30" y="330.08" font-size="6.6" text-anchor="end">55</text>
<line x1="218.50" y1="327.70" x2="221.80" y2="327.70" stroke="#333" stroke-width="0.6"/>
<line x1="202.60" y1="244.00" x2="202.60" y2="329.00" stroke="#555" stroke-width="0.6"/>
<text x="197.30" y="287.98" font-size="6.6" text-anchor="middle" transform="rotate(-90 197.30 285.60)">IP: TOX</text>
<line x1="275.20" y1="243.00" x2="275.20" y2="310.50" stroke="#555" stroke-width="0.6"/>
<text x="277.7" y="278.3" font-size="6.6" fill="#111">Ub<tspan font-size="4.8" dy="1.8">(n)</tspan></text>
<text x="275.10" y="322.88" font-size="6.6">TOX</text>
<text x="322.00" y="224.90" font-size="11.5" font-weight="bold" fill="#000">h</text>
<line x1="344.50" y1="232.20" x2="344.50" y2="313.30" stroke="#333" stroke-width="0.6"/>
<line x1="344.50" y1="313.30" x2="403.50" y2="313.30" stroke="#333" stroke-width="0.6"/>
<line x1="342.50" y1="297.90" x2="344.50" y2="297.90" stroke="#333" stroke-width="0.6"/>
<text x="340.00" y="300.28" font-size="6.6" text-anchor="end">−2</text>
<line x1="342.50" y1="281.40" x2="344.50" y2="281.40" stroke="#333" stroke-width="0.6"/>
<text x="340.00" y="283.78" font-size="6.6" text-anchor="end">0</text>
<line x1="342.50" y1="264.90" x2="344.50" y2="264.90" stroke="#333" stroke-width="0.6"/>
<text x="340.00" y="267.28" font-size="6.6" text-anchor="end">2</text>
<line x1="342.50" y1="248.40" x2="344.50" y2="248.40" stroke="#333" stroke-width="0.6"/>
<text x="340.00" y="250.78" font-size="6.6" text-anchor="end">4</text>
<line x1="342.50" y1="231.90" x2="344.50" y2="231.90" stroke="#333" stroke-width="0.6"/>
<text x="340.00" y="234.28" font-size="6.6" text-anchor="end">6</text>
<polygon points="359.30,232.72 359.36,233.35 359.41,233.98 359.47,234.60 359.52,235.23 359.57,235.85 359.63,236.48 359.69,237.10 359.74,237.73 359.80,238.36 359.85,238.98 359.85,239.61 359.85,240.23 359.85,240.86 359.85,241.48 359.85,242.11 359.85,242.73 359.85,243.36 359.85,243.99 359.85,244.61 359.85,245.24 359.85,245.86 359.85,246.49 359.85,247.11 359.85,247.74 359.85,248.37 359.85,248.99 359.85,249.62 359.85,250.24 359.85,250.87 359.85,251.49 359.85,252.12 359.85,252.74 359.85,253.37 359.92,254.00 360.02,254.62 360.13,255.25 360.25,255.87 360.39,256.50 360.55,257.12 360.72,257.75 360.91,258.38 361.12,259.00 361.35,259.63 361.59,260.25 361.86,260.88 362.14,261.50 362.44,262.13 362.76,262.75 363.10,263.38 363.46,264.01 363.83,264.63 364.21,265.26 364.61,265.88 365.01,266.51 365.42,267.13 365.83,267.76 366.25,268.39 366.66,269.01 367.06,269.64 367.45,270.26 367.83,270.89 368.19,271.51 368.53,272.14 368.84,272.76 369.13,273.39 369.38,274.02 369.60,274.64 369.78,275.27 369.92,275.89 370.03,276.52 370.08,277.14 370.10,277.77 370.08,278.40 370.02,279.02 369.93,279.65 369.81,280.27 369.66,280.90 369.48,281.52 369.27,282.15 369.03,282.77 368.77,283.40 368.49,284.03 368.18,284.65 367.86,285.28 367.53,285.90 367.18,286.53 366.83,287.15 366.46,287.78 366.10,288.41 365.73,289.03 365.36,289.66 365.00,290.28 364.64,290.91 364.29,291.53 363.94,292.16 363.61,292.78 363.29,293.41 362.98,294.04 362.68,294.66 362.40,295.29 362.13,295.91 361.88,296.54 361.64,297.16 361.42,297.79 361.21,298.42 361.02,299.04 360.84,299.67 360.68,300.29 360.53,300.92 360.39,301.54 360.26,302.17 360.15,302.79 360.05,303.42 359.96,304.05 359.87,304.67 359.80,305.30 359.73,305.92 359.68,306.55 359.62,307.17 359.58,307.80 359.02,307.80 358.98,307.17 358.92,306.55 358.87,305.92 358.80,305.30 358.73,304.67 358.64,304.05 358.55,303.42 358.45,302.79 358.34,302.17 358.21,301.54 358.07,300.92 357.92,300.29 357.76,299.67 357.58,299.04 357.39,298.42 357.18,297.79 356.96,297.16 356.72,296.54 356.47,295.91 356.20,295.29 355.92,294.66 355.62,294.04 355.31,293.41 354.99,292.78 354.66,292.16 354.31,291.53 353.96,290.91 353.60,290.28 353.24,289.66 352.87,289.03 352.50,288.41 352.14,287.78 351.77,287.15 351.42,286.53 351.07,285.90 350.74,285.28 350.42,284.65 350.11,284.03 349.83,283.40 349.57,282.77 349.33,282.15 349.12,281.52 348.94,280.90 348.79,280.27 348.67,279.65 348.58,279.02 348.52,278.40 348.50,277.77 348.52,277.14 348.57,276.52 348.68,275.89 348.82,275.27 349.00,274.64 349.22,274.02 349.47,273.39 349.76,272.76 350.07,272.14 350.41,271.51 350.77,270.89 351.15,270.26 351.54,269.64 351.94,269.01 352.35,268.39 352.77,267.76 353.18,267.13 353.59,266.51 353.99,265.88 354.39,265.26 354.77,264.63 355.14,264.01 355.50,263.38 355.84,262.75 356.16,262.13 356.46,261.50 356.74,260.88 357.01,260.25 357.25,259.63 357.48,259.00 357.69,258.38 357.88,257.75 358.05,257.12 358.21,256.50 358.35,255.87 358.47,255.25 358.58,254.62 358.68,254.00 358.75,253.37 358.75,252.74 358.75,252.12 358.75,251.49 358.75,250.87 358.75,250.24 358.75,249.62 358.75,248.99 358.75,248.37 358.75,247.74 358.75,247.11 358.75,246.49 358.75,245.86 358.75,245.24 358.75,244.61 358.75,243.99 358.75,243.36 358.75,242.73 358.75,242.11 358.75,241.48 358.75,240.86 358.75,240.23 358.75,239.61 358.75,238.98 358.81,238.36 358.86,237.73 358.92,237.10 358.97,236.48 359.03,235.85 359.08,235.23 359.13,234.60 359.19,233.98 359.25,233.35 359.30,232.72" fill="#3d93b1" stroke="#333" stroke-width="0.7"/>
<line x1="359.30" y1="256.65" x2="359.30" y2="297.90" stroke="#3a3a3a" stroke-width="0.8"/>
<line x1="359.30" y1="271.91" x2="359.30" y2="284.70" stroke="#3a3a3a" stroke-width="2.6"/>
<circle cx="359.30" cy="278.51" r="0.8" fill="#fff"/>
<polygon points="390.42,253.76 390.45,254.23 390.51,254.70 390.56,255.16 390.62,255.63 390.67,256.10 390.73,256.57 390.78,257.03 390.84,257.50 390.89,257.97 390.95,258.44 390.95,258.90 390.95,259.37 390.95,259.84 390.95,260.31 390.95,260.77 390.95,261.24 390.95,261.71 390.95,262.18 390.95,262.64 390.95,263.11 390.99,263.58 391.08,264.05 391.17,264.51 391.28,264.98 391.40,265.45 391.53,265.92 391.67,266.38 391.83,266.85 392.00,267.32 392.18,267.79 392.39,268.25 392.61,268.72 392.84,269.19 393.09,269.66 393.36,270.12 393.65,270.59 393.95,271.06 394.26,271.53 394.60,272.00 394.95,272.46 395.31,272.93 395.68,273.40 396.07,273.86 396.46,274.33 396.86,274.80 397.27,275.27 397.68,275.73 398.09,276.20 398.50,276.67 398.90,277.14 399.30,277.60 399.69,278.07 400.06,278.54 400.42,279.01 400.76,279.47 401.08,279.94 401.37,280.41 401.64,280.88 401.88,281.34 402.08,281.81 402.26,282.28 402.40,282.75 402.50,283.21 402.57,283.68 402.60,284.15 402.59,284.62 402.54,285.08 402.44,285.55 402.31,286.02 402.13,286.49 401.91,286.95 401.66,287.42 401.38,287.89 401.06,288.36 400.72,288.82 400.35,289.29 399.96,289.76 399.55,290.23 399.13,290.69 398.70,291.16 398.27,291.63 397.83,292.10 397.38,292.56 396.95,293.03 396.51,293.50 396.09,293.97 395.68,294.44 395.28,294.90 394.89,295.37 394.52,295.84 394.17,296.31 393.83,296.77 393.51,297.24 393.22,297.71 392.94,298.18 392.68,298.64 392.44,299.11 392.22,299.58 392.02,300.04 391.83,300.51 391.66,300.98 391.51,301.45 391.37,301.91 391.25,302.38 391.14,302.85 391.04,303.32 390.95,303.78 390.95,304.25 390.95,304.72 390.95,305.19 390.89,305.65 390.84,306.12 390.78,306.59 390.73,307.06 390.67,307.52 390.62,307.99 390.56,308.46 390.51,308.93 390.47,309.39 390.46,309.86 390.34,309.86 390.33,309.39 390.29,308.93 390.23,308.46 390.18,307.99 390.12,307.52 390.07,307.06 390.01,306.59 389.96,306.12 389.90,305.65 389.85,305.19 389.85,304.72 389.85,304.25 389.85,303.78 389.76,303.32 389.66,302.85 389.55,302.38 389.43,301.91 389.29,301.45 389.14,300.98 388.97,300.51 388.78,300.04 388.58,299.58 388.36,299.11 388.12,298.64 387.86,298.18 387.58,297.71 387.29,297.24 386.97,296.77 386.63,296.31 386.28,295.84 385.91,295.37 385.52,294.90 385.12,294.44 384.71,293.97 384.29,293.50 383.85,293.03 383.42,292.56 382.97,292.10 382.53,291.63 382.10,291.16 381.67,290.69 381.25,290.23 380.84,289.76 380.45,289.29 380.08,288.82 379.74,288.36 379.42,287.89 379.14,287.42 378.89,286.95 378.67,286.49 378.49,286.02 378.36,285.55 378.26,285.08 378.21,284.62 378.20,284.15 378.23,283.68 378.30,283.21 378.40,282.75 378.54,282.28 378.72,281.81 378.92,281.34 379.16,280.88 379.43,280.41 379.72,279.94 380.04,279.47 380.38,279.01 380.74,278.54 381.11,278.07 381.50,277.60 381.90,277.14 382.30,276.67 382.71,276.20 383.12,275.73 383.53,275.27 383.94,274.80 384.34,274.33 384.73,273.86 385.12,273.40 385.49,272.93 385.85,272.46 386.20,272.00 386.54,271.53 386.85,271.06 387.15,270.59 387.44,270.12 387.71,269.66 387.96,269.19 388.19,268.72 388.41,268.25 388.62,267.79 388.80,267.32 388.97,266.85 389.13,266.38 389.27,265.92 389.40,265.45 389.52,264.98 389.63,264.51 389.72,264.05 389.81,263.58 389.85,263.11 389.85,262.64 389.85,262.18 389.85,261.71 389.85,261.24 389.85,260.77 389.85,260.31 389.85,259.84 389.85,259.37 389.85,258.90 389.85,258.44 389.90,257.97 389.96,257.50 390.01,257.03 390.07,256.57 390.12,256.10 390.18,255.63 390.23,255.16 390.29,254.70 390.34,254.23 390.38,253.76" fill="#ef807d" stroke="#333" stroke-width="0.7"/>
<line x1="390.40" y1="262.42" x2="390.40" y2="300.38" stroke="#3a3a3a" stroke-width="0.8"/>
<line x1="390.40" y1="278.51" x2="390.40" y2="290.06" stroke="#3a3a3a" stroke-width="2.6"/>
<circle cx="390.40" cy="284.29" r="0.8" fill="#fff"/>
<line x1="359.30" y1="313.30" x2="359.30" y2="315.30" stroke="#333" stroke-width="0.6"/>
<line x1="390.40" y1="313.30" x2="390.40" y2="315.30" stroke="#333" stroke-width="0.6"/>
<text x="374.20" y="225.08" font-size="6.6" text-anchor="middle">TOX signature</text>
<text x="325.40" y="274.21" font-size="6.7" text-anchor="middle" transform="rotate(-90 325.40 271.80)">Enrichment score</text>
<text x="360.50" y="321.88" font-size="6.6" text-anchor="end" transform="rotate(-45 360.50 319.50)">Control</text>
<text x="391.50" y="321.88" font-size="6.6" text-anchor="end" transform="rotate(-45 391.50 319.50)">KLHL6-OE</text>
<line x1="449.30" y1="230.80" x2="449.30" y2="313.20" stroke="#333" stroke-width="0.6"/>
<line x1="449.30" y1="313.20" x2="511.30" y2="313.20" stroke="#333" stroke-width="0.6"/>
<line x1="447.30" y1="306.70" x2="449.30" y2="306.70" stroke="#333" stroke-width="0.6"/>
<text x="444.50" y="309.08" font-size="6.6" text-anchor="end">−0.6</text>
<line x1="447.30" y1="292.60" x2="449.30" y2="292.60" stroke="#333" stroke-width="0.6"/>
<text x="444.50" y="294.98" font-size="6.6" text-anchor="end">−0.4</text>
<line x1="447.30" y1="278.50" x2="449.30" y2="278.50" stroke="#333" stroke-width="0.6"/>
<text x="444.50" y="280.88" font-size="6.6" text-anchor="end">−0.2</text>
<line x1="447.30" y1="264.40" x2="449.30" y2="264.40" stroke="#333" stroke-width="0.6"/>
<text x="444.50" y="266.78" font-size="6.6" text-anchor="end">0</text>
<line x1="447.30" y1="250.30" x2="449.30" y2="250.30" stroke="#333" stroke-width="0.6"/>
<text x="444.50" y="252.68" font-size="6.6" text-anchor="end">0.2</text>
<line x1="447.30" y1="236.20" x2="449.30" y2="236.20" stroke="#333" stroke-width="0.6"/>
<text x="444.50" y="238.58" font-size="6.6" text-anchor="end">0.4</text>
<polygon points="465.12,241.13 465.16,241.70 465.21,242.27 465.27,242.84 465.32,243.41 465.38,243.98 465.43,244.55 465.49,245.12 465.54,245.69 465.60,246.26 465.65,246.83 465.65,247.40 465.65,247.97 465.65,248.54 465.65,249.11 465.65,249.68 465.65,250.25 465.65,250.82 465.65,251.39 465.65,251.96 465.65,252.53 465.65,253.10 465.65,253.67 465.65,254.24 465.65,254.81 465.65,255.38 465.65,255.95 465.65,256.52 465.65,257.09 465.70,257.66 465.76,258.23 465.83,258.80 465.90,259.37 465.98,259.94 466.07,260.51 466.16,261.08 466.26,261.65 466.37,262.22 466.48,262.79 466.60,263.36 466.73,263.93 466.87,264.50 467.02,265.07 467.17,265.64 467.34,266.21 467.51,266.78 467.70,267.35 467.89,267.92 468.09,268.49 468.30,269.06 468.52,269.63 468.75,270.20 468.99,270.77 469.24,271.34 469.49,271.91 469.76,272.48 470.03,273.05 470.31,273.62 470.60,274.19 470.89,274.76 471.19,275.33 471.50,275.90 471.80,276.47 472.12,277.04 472.43,277.61 472.74,278.18 473.06,278.75 473.38,279.32 473.69,279.89 474.00,280.46 474.31,281.03 474.61,281.60 474.91,282.17 475.20,282.74 475.48,283.31 475.75,283.88 476.01,284.45 476.26,285.02 476.50,285.59 476.72,286.16 476.93,286.72 477.12,287.29 477.29,287.86 477.45,288.43 477.59,289.00 477.71,289.57 477.81,290.14 477.89,290.71 477.94,291.28 477.98,291.85 478.00,292.42 477.99,292.99 477.92,293.56 477.79,294.13 477.61,294.70 477.37,295.27 477.09,295.84 476.75,296.41 476.38,296.98 475.97,297.55 475.52,298.12 475.05,298.69 474.56,299.26 474.05,299.83 473.53,300.40 473.01,300.97 472.48,301.54 471.96,302.11 471.44,302.68 470.94,303.25 470.45,303.82 469.98,304.39 469.54,304.96 469.11,305.53 468.71,306.10 468.34,306.67 467.99,307.24 467.66,307.81 467.37,308.38 467.09,308.95 466.85,309.52 463.35,309.52 463.11,308.95 462.83,308.38 462.54,307.81 462.21,307.24 461.86,306.67 461.49,306.10 461.09,305.53 460.66,304.96 460.22,304.39 459.75,303.82 459.26,303.25 458.76,302.68 458.24,302.11 457.72,301.54 457.19,300.97 456.67,300.40 456.15,299.83 455.64,299.26 455.15,298.69 454.68,298.12 454.23,297.55 453.82,296.98 453.45,296.41 453.11,295.84 452.83,295.27 452.59,294.70 452.41,294.13 452.28,293.56 452.21,292.99 452.20,292.42 452.22,291.85 452.26,291.28 452.31,290.71 452.39,290.14 452.49,289.57 452.61,289.00 452.75,288.43 452.91,287.86 453.08,287.29 453.27,286.72 453.48,286.16 453.70,285.59 453.94,285.02 454.19,284.45 454.45,283.88 454.72,283.31 455.00,282.74 455.29,282.17 455.59,281.60 455.89,281.03 456.20,280.46 456.51,279.89 456.82,279.32 457.14,278.75 457.46,278.18 457.77,277.61 458.08,277.04 458.40,276.47 458.70,275.90 459.01,275.33 459.31,274.76 459.60,274.19 459.89,273.62 460.17,273.05 460.44,272.48 460.71,271.91 460.96,271.34 461.21,270.77 461.45,270.20 461.68,269.63 461.90,269.06 462.11,268.49 462.31,267.92 462.50,267.35 462.69,266.78 462.86,266.21 463.03,265.64 463.18,265.07 463.33,264.50 463.47,263.93 463.60,263.36 463.72,262.79 463.83,262.22 463.94,261.65 464.04,261.08 464.13,260.51 464.22,259.94 464.30,259.37 464.37,258.80 464.44,258.23 464.50,257.66 464.55,257.09 464.55,256.52 464.55,255.95 464.55,255.38 464.55,254.81 464.55,254.24 464.55,253.67 464.55,253.10 464.55,252.53 464.55,251.96 464.55,251.39 464.55,250.82 464.55,250.25 464.55,249.68 464.55,249.11 464.55,248.54 464.55,247.97 464.55,247.40 464.55,246.83 464.61,246.26 464.66,245.69 464.72,245.12 464.77,244.55 464.83,243.98 464.88,243.41 464.94,242.84 464.99,242.27 465.05,241.70 465.08,241.13" fill="#3d93b1" stroke="#333" stroke-width="0.7"/>
<line x1="465.10" y1="250.30" x2="465.10" y2="306.70" stroke="#3a3a3a" stroke-width="0.8"/>
<line x1="465.10" y1="278.50" x2="465.10" y2="297.53" stroke="#3a3a3a" stroke-width="2.6"/>
<circle cx="465.10" cy="289.07" r="0.8" fill="#fff"/>
<polygon points="497.64,231.26 497.74,231.89 497.84,232.52 497.96,233.15 498.09,233.78 498.23,234.41 498.38,235.04 498.54,235.67 498.72,236.29 498.91,236.92 499.12,237.55 499.34,238.18 499.57,238.81 499.82,239.44 500.08,240.07 500.36,240.69 500.65,241.32 500.96,241.95 501.27,242.58 501.60,243.21 501.94,243.84 502.29,244.47 502.65,245.09 503.02,245.72 503.39,246.35 503.76,246.98 504.13,247.61 504.51,248.24 504.88,248.87 505.25,249.50 505.61,250.12 505.96,250.75 506.30,251.38 506.62,252.01 506.93,252.64 507.22,253.27 507.49,253.90 507.74,254.52 507.96,255.15 508.16,255.78 508.32,256.41 508.46,257.04 508.57,257.67 508.64,258.30 508.69,258.92 508.70,259.55 508.69,260.18 508.65,260.81 508.60,261.44 508.53,262.07 508.43,262.70 508.32,263.32 508.19,263.95 508.05,264.58 507.88,265.21 507.70,265.84 507.51,266.47 507.30,267.10 507.07,267.73 506.84,268.35 506.59,268.98 506.33,269.61 506.07,270.24 505.79,270.87 505.51,271.50 505.22,272.13 504.93,272.75 504.64,273.38 504.35,274.01 504.05,274.64 503.75,275.27 503.46,275.90 503.16,276.53 502.87,277.15 502.58,277.78 502.30,278.41 502.03,279.04 501.75,279.67 501.49,280.30 501.23,280.93 500.98,281.55 500.74,282.18 500.50,282.81 500.28,283.44 500.06,284.07 499.85,284.70 499.65,285.33 499.46,285.96 499.28,286.58 499.11,287.21 498.95,287.84 498.79,288.47 498.65,289.10 498.51,289.73 498.38,290.36 498.26,290.98 498.14,291.61 498.04,292.24 497.94,292.87 497.85,293.50 497.76,294.13 497.68,294.76 497.61,295.38 497.54,296.01 497.48,296.64 497.45,297.27 497.45,297.90 497.45,298.53 497.45,299.16 497.45,299.79 497.45,300.41 497.39,301.04 497.34,301.67 497.28,302.30 497.23,302.93 497.17,303.56 497.12,304.19 497.06,304.81 497.02,305.44 497.00,306.07 496.99,306.70 496.81,306.70 496.80,306.07 496.78,305.44 496.73,304.81 496.68,304.19 496.62,303.56 496.57,302.93 496.51,302.30 496.46,301.67 496.40,301.04 496.35,300.41 496.35,299.79 496.35,299.16 496.35,298.53 496.35,297.90 496.35,297.27 496.32,296.64 496.26,296.01 496.19,295.38 496.12,294.76 496.04,294.13 495.95,293.50 495.86,292.87 495.76,292.24 495.66,291.61 495.54,290.98 495.42,290.36 495.29,289.73 495.15,289.10 495.01,288.47 494.85,287.84 494.69,287.21 494.52,286.58 494.34,285.96 494.15,285.33 493.95,284.70 493.74,284.07 493.52,283.44 493.30,282.81 493.06,282.18 492.82,281.55 492.57,280.93 492.31,280.30 492.05,279.67 491.77,279.04 491.50,278.41 491.22,277.78 490.93,277.15 490.64,276.53 490.34,275.90 490.05,275.27 489.75,274.64 489.45,274.01 489.16,273.38 488.87,272.75 488.58,272.13 488.29,271.50 488.01,270.87 487.73,270.24 487.47,269.61 487.21,268.98 486.96,268.35 486.73,267.73 486.50,267.10 486.29,266.47 486.10,265.84 485.92,265.21 485.75,264.58 485.61,263.95 485.48,263.32 485.37,262.70 485.27,262.07 485.20,261.44 485.15,260.81 485.11,260.18 485.10,259.55 485.11,258.92 485.16,258.30 485.23,257.67 485.34,257.04 485.48,256.41 485.64,255.78 485.84,255.15 486.06,254.52 486.31,253.90 486.58,253.27 486.87,252.64 487.18,252.01 487.50,251.38 487.84,250.75 488.19,250.12 488.55,249.50 488.92,248.87 489.29,248.24 489.67,247.61 490.04,246.98 490.41,246.35 490.78,245.72 491.15,245.09 491.51,244.47 491.86,243.84 492.20,243.21 492.53,242.58 492.84,241.95 493.15,241.32 493.44,240.69 493.72,240.07 493.98,239.44 494.23,238.81 494.46,238.18 494.68,237.55 494.89,236.92 495.08,236.29 495.26,235.67 495.42,235.04 495.57,234.41 495.71,233.78 495.84,233.15 495.96,232.52 496.06,231.89 496.16,231.26" fill="#ef807d" stroke="#333" stroke-width="0.7"/>
<line x1="496.90" y1="234.79" x2="496.90" y2="303.17" stroke="#3a3a3a" stroke-width="0.8"/>
<line x1="496.90" y1="252.41" x2="496.90" y2="271.45" stroke="#3a3a3a" stroke-width="2.6"/>
<circle cx="496.90" cy="260.88" r="0.8" fill="#fff"/>
<line x1="465.10" y1="313.20" x2="465.10" y2="315.20" stroke="#333" stroke-width="0.6"/>
<line x1="496.90" y1="313.20" x2="496.90" y2="315.20" stroke="#333" stroke-width="0.6"/>
<text x="480.30" y="225.18" font-size="6.6" text-anchor="middle">TCF-1 signature</text>
<text x="425.40" y="274.01" font-size="6.7" text-anchor="middle" transform="rotate(-90 425.40 271.60)">Enrichment score</text>
<text x="466.30" y="321.88" font-size="6.6" text-anchor="end" transform="rotate(-45 466.30 319.50)">Control</text>
<text x="498.10" y="321.88" font-size="6.6" text-anchor="end" transform="rotate(-45 498.10 319.50)">KLHL6-OE</text>
<text x="0.00" y="360.30" font-size="11.5" font-weight="bold" fill="#000">i</text>
<line x1="30.10" y1="370.90" x2="30.10" y2="452.10" stroke="#333" stroke-width="0.6"/>
<line x1="30.10" y1="452.10" x2="111.90" y2="452.10" stroke="#333" stroke-width="0.6"/>
<line x1="28.10" y1="452.10" x2="30.10" y2="452.10" stroke="#333" stroke-width="0.6"/>
<text x="25.80" y="454.48" font-size="6.6" text-anchor="end">0</text>
<line x1="28.10" y1="425.20" x2="30.10" y2="425.20" stroke="#333" stroke-width="0.6"/>
<text x="25.80" y="427.58" font-size="6.6" text-anchor="end">20</text>
<line x1="28.10" y1="398.30" x2="30.10" y2="398.30" stroke="#333" stroke-width="0.6"/>
<text x="25.80" y="400.68" font-size="6.6" text-anchor="end">40</text>
<line x1="28.10" y1="371.40" x2="30.10" y2="371.40" stroke="#333" stroke-width="0.6"/>
<text x="25.80" y="373.78" font-size="6.6" text-anchor="end">60</text>
<circle cx="38.20" cy="399.38" r="1.55" fill="#1d93ad"/>
<circle cx="34.30" cy="400.18" r="1.55" fill="#1d93ad"/>
<circle cx="42.10" cy="401.26" r="1.55" fill="#1d93ad"/>
<circle cx="38.20" cy="403.01" r="1.55" fill="#1d93ad"/>
<circle cx="34.30" cy="404.76" r="1.55" fill="#1d93ad"/>
<circle cx="38.20" cy="406.37" r="1.55" fill="#1d93ad"/>
<circle cx="34.30" cy="408.39" r="1.55" fill="#1d93ad"/>
<circle cx="40.80" cy="410.41" r="1.55" fill="#1d93ad"/>
<circle cx="38.20" cy="413.77" r="1.55" fill="#1d93ad"/>
<circle cx="34.30" cy="415.52" r="1.55" fill="#1d93ad"/>
<line x1="34.20" y1="406.30" x2="42.20" y2="406.30" stroke="#222" stroke-width="0.6"/>
<line x1="38.20" y1="408.09" x2="38.20" y2="404.52" stroke="#222" stroke-width="0.6"/>
<line x1="36.20" y1="408.09" x2="40.20" y2="408.09" stroke="#222" stroke-width="0.6"/>
<line x1="36.20" y1="404.52" x2="40.20" y2="404.52" stroke="#222" stroke-width="0.6"/>
<circle cx="50.20" cy="382.16" r="1.55" fill="#f7a1a1"/>
<circle cx="46.30" cy="382.83" r="1.55" fill="#f7a1a1"/>
<circle cx="54.10" cy="383.50" r="1.55" fill="#f7a1a1"/>
<circle cx="50.20" cy="384.85" r="1.55" fill="#f7a1a1"/>
<circle cx="50.20" cy="385.52" r="1.55" fill="#f7a1a1"/>
<circle cx="46.30" cy="386.20" r="1.55" fill="#f7a1a1"/>
<circle cx="54.10" cy="386.87" r="1.55" fill="#f7a1a1"/>
<circle cx="50.20" cy="388.21" r="1.55" fill="#f7a1a1"/>
<circle cx="46.30" cy="390.23" r="1.55" fill="#f7a1a1"/>
<circle cx="47.60" cy="394.27" r="1.55" fill="#f7a1a1"/>
<line x1="46.20" y1="386.46" x2="54.20" y2="386.46" stroke="#222" stroke-width="0.6"/>
<line x1="50.20" y1="387.63" x2="50.20" y2="385.30" stroke="#222" stroke-width="0.6"/>
<line x1="48.20" y1="387.63" x2="52.20" y2="387.63" stroke="#222" stroke-width="0.6"/>
<line x1="48.20" y1="385.30" x2="52.20" y2="385.30" stroke="#222" stroke-width="0.6"/>
<circle cx="61.70" cy="392.92" r="1.55" fill="#a57ac6"/>
<circle cx="57.80" cy="394.27" r="1.55" fill="#a57ac6"/>
<circle cx="64.30" cy="396.28" r="1.55" fill="#a57ac6"/>
<circle cx="59.10" cy="397.63" r="1.55" fill="#a57ac6"/>
<circle cx="61.70" cy="398.97" r="1.55" fill="#a57ac6"/>
<circle cx="65.60" cy="399.65" r="1.55" fill="#a57ac6"/>
<circle cx="61.70" cy="400.32" r="1.55" fill="#a57ac6"/>
<circle cx="57.80" cy="400.99" r="1.55" fill="#a57ac6"/>
<circle cx="61.70" cy="401.66" r="1.55" fill="#a57ac6"/>
<circle cx="61.70" cy="402.34" r="1.55" fill="#a57ac6"/>
<line x1="57.70" y1="398.50" x2="65.70" y2="398.50" stroke="#222" stroke-width="0.6"/>
<line x1="61.70" y1="399.50" x2="61.70" y2="397.50" stroke="#222" stroke-width="0.6"/>
<line x1="59.70" y1="399.50" x2="63.70" y2="399.50" stroke="#222" stroke-width="0.6"/>
<line x1="59.70" y1="397.50" x2="63.70" y2="397.50" stroke="#222" stroke-width="0.6"/>
<circle cx="80.90" cy="427.89" r="1.55" fill="#1d93ad"/>
<circle cx="77.00" cy="429.24" r="1.55" fill="#1d93ad"/>
<circle cx="84.80" cy="429.91" r="1.55" fill="#1d93ad"/>
<circle cx="80.90" cy="431.25" r="1.55" fill="#1d93ad"/>
<circle cx="80.90" cy="431.93" r="1.55" fill="#1d93ad"/>
<circle cx="77.00" cy="432.60" r="1.55" fill="#1d93ad"/>
<circle cx="84.80" cy="433.27" r="1.55" fill="#1d93ad"/>
<circle cx="80.90" cy="434.62" r="1.55" fill="#1d93ad"/>
<circle cx="77.00" cy="435.96" r="1.55" fill="#1d93ad"/>
<circle cx="84.80" cy="437.31" r="1.55" fill="#1d93ad"/>
<line x1="76.90" y1="432.40" x2="84.90" y2="432.40" stroke="#222" stroke-width="0.6"/>
<line x1="80.90" y1="433.34" x2="80.90" y2="431.45" stroke="#222" stroke-width="0.6"/>
<line x1="78.90" y1="433.34" x2="82.90" y2="433.34" stroke="#222" stroke-width="0.6"/>
<line x1="78.90" y1="431.45" x2="82.90" y2="431.45" stroke="#222" stroke-width="0.6"/>
<circle cx="92.40" cy="440.00" r="1.55" fill="#f7a1a1"/>
<circle cx="88.50" cy="440.67" r="1.55" fill="#f7a1a1"/>
<circle cx="96.30" cy="441.34" r="1.55" fill="#f7a1a1"/>
<circle cx="92.40" cy="441.34" r="1.55" fill="#f7a1a1"/>
<circle cx="92.40" cy="442.01" r="1.55" fill="#f7a1a1"/>
<circle cx="92.40" cy="442.01" r="1.55" fill="#f7a1a1"/>
<circle cx="92.40" cy="442.69" r="1.55" fill="#f7a1a1"/>
<circle cx="92.40" cy="442.69" r="1.55" fill="#f7a1a1"/>
<circle cx="92.40" cy="443.22" r="1.55" fill="#f7a1a1"/>
<circle cx="88.50" cy="444.03" r="1.55" fill="#f7a1a1"/>
<line x1="88.40" y1="442.00" x2="96.40" y2="442.00" stroke="#222" stroke-width="0.6"/>
<line x1="92.40" y1="442.38" x2="92.40" y2="441.62" stroke="#222" stroke-width="0.6"/>
<line x1="90.40" y1="442.38" x2="94.40" y2="442.38" stroke="#222" stroke-width="0.6"/>
<line x1="90.40" y1="441.62" x2="94.40" y2="441.62" stroke="#222" stroke-width="0.6"/>
<circle cx="103.90" cy="435.29" r="1.55" fill="#a57ac6"/>
<circle cx="100.00" cy="435.96" r="1.55" fill="#a57ac6"/>
<circle cx="107.80" cy="435.96" r="1.55" fill="#a57ac6"/>
<circle cx="103.90" cy="436.63" r="1.55" fill="#a57ac6"/>
<circle cx="103.90" cy="436.63" r="1.55" fill="#a57ac6"/>
<circle cx="103.90" cy="437.31" r="1.55" fill="#a57ac6"/>
<circle cx="103.90" cy="437.31" r="1.55" fill="#a57ac6"/>
<circle cx="103.90" cy="437.98" r="1.55" fill="#a57ac6"/>
<circle cx="103.90" cy="437.98" r="1.55" fill="#a57ac6"/>
<circle cx="103.90" cy="438.65" r="1.55" fill="#a57ac6"/>
<line x1="99.90" y1="436.97" x2="107.90" y2="436.97" stroke="#222" stroke-width="0.6"/>
<line x1="103.90" y1="437.31" x2="103.90" y2="436.63" stroke="#222" stroke-width="0.6"/>
<line x1="101.90" y1="437.31" x2="105.90" y2="437.31" stroke="#222" stroke-width="0.6"/>
<line x1="101.90" y1="436.63" x2="105.90" y2="436.63" stroke="#222" stroke-width="0.6"/>
<line x1="49.90" y1="452.10" x2="49.90" y2="455.40" stroke="#555" stroke-width="0.6"/>
<line x1="92.40" y1="452.10" x2="92.40" y2="455.40" stroke="#555" stroke-width="0.6"/>
<line x1="38.70" y1="359.40" x2="61.70" y2="359.40" stroke="#444" stroke-width="0.8"/>
<text x="50.20" y="360.76" font-size="8.3" text-anchor="middle" fill="#111">*</text>
<line x1="38.70" y1="368.90" x2="50.20" y2="368.90" stroke="#444" stroke-width="0.8"/>
<text x="44.45" y="370.26" font-size="8.3" text-anchor="middle" fill="#111">****</text>
<line x1="50.20" y1="378.00" x2="61.70" y2="378.00" stroke="#444" stroke-width="0.8"/>
<text x="55.95" y="379.36" font-size="8.3" text-anchor="middle" fill="#111">***</text>
<line x1="80.90" y1="403.90" x2="103.90" y2="403.90" stroke="#444" stroke-width="0.8"/>
<text x="92.40" y="405.26" font-size="8.3" text-anchor="middle" fill="#111">**</text>
<line x1="80.90" y1="413.90" x2="92.40" y2="413.90" stroke="#444" stroke-width="0.8"/>
<text x="86.65" y="415.26" font-size="8.3" text-anchor="middle" fill="#111">****</text>
<line x1="92.40" y1="422.50" x2="103.90" y2="422.50" stroke="#444" stroke-width="0.8"/>
<text x="98.15" y="423.86" font-size="8.3" text-anchor="middle" fill="#111">**</text>
<text x="49.9" y="464.5" font-size="6.6" text-anchor="middle" fill="#1a1a1a">Tex<tspan font-size="5" dy="-2.8">term</tspan></text>
<text x="92.40" y="464.48" font-size="6.6" text-anchor="middle">Tpex</text>
<text transform="translate(12.2,412.5) rotate(-90)" font-size="6.6" text-anchor="middle" fill="#1a1a1a">Percentage of CD8<tspan font-size="4.3" dy="-2.6">+</tspan><tspan dy="2.6"> T cells (%)</tspan></text>
<circle cx="112.80" cy="372.40" r="1.8" fill="#1d93ad"/>
<text x="116.40" y="374.80" font-size="6.6" fill="#1a1a1a">WT + <tspan font-style="italic">shCtrl</tspan></text>
<circle cx="112.80" cy="381.60" r="1.8" fill="#f7a1a1"/>
<text x="116.40" y="384.00" font-size="6.6" fill="#1a1a1a">KO + <tspan font-style="italic">shCtrl</tspan></text>
<circle cx="112.80" cy="390.90" r="1.8" fill="#a57ac6"/>
<text x="116.40" y="393.30" font-size="6.6" fill="#1a1a1a">KO + <tspan font-style="italic">shTox</tspan></text>
<text x="163.00" y="361.10" font-size="11.5" font-weight="bold" fill="#000">j</text>
<line x1="199.90" y1="372.60" x2="199.90" y2="452.40" stroke="#333" stroke-width="0.6"/>
<line x1="199.90" y1="452.40" x2="278.00" y2="452.40" stroke="#333" stroke-width="0.6"/>
<line x1="197.90" y1="452.40" x2="199.90" y2="452.40" stroke="#333" stroke-width="0.6"/>
<text x="195.30" y="454.78" font-size="6.6" text-anchor="end">0</text>
<line x1="197.90" y1="425.80" x2="199.90" y2="425.80" stroke="#333" stroke-width="0.6"/>
<text x="195.30" y="428.18" font-size="6.6" text-anchor="end">0.4</text>
<line x1="197.90" y1="399.20" x2="199.90" y2="399.20" stroke="#333" stroke-width="0.6"/>
<text x="195.30" y="401.58" font-size="6.6" text-anchor="end">0.8</text>
<line x1="197.90" y1="372.60" x2="199.90" y2="372.60" stroke="#333" stroke-width="0.6"/>
<text x="195.30" y="374.98" font-size="6.6" text-anchor="end">1.2</text>
<circle cx="206.50" cy="385.90" r="1.55" fill="#1d93ad"/>
<circle cx="203.90" cy="389.22" r="1.55" fill="#1d93ad"/>
<circle cx="209.10" cy="395.21" r="1.55" fill="#1d93ad"/>
<circle cx="203.90" cy="399.20" r="1.55" fill="#1d93ad"/>
<circle cx="209.10" cy="400.53" r="1.55" fill="#1d93ad"/>
<circle cx="203.90" cy="402.52" r="1.55" fill="#1d93ad"/>
<circle cx="203.90" cy="405.85" r="1.55" fill="#1d93ad"/>
<circle cx="209.10" cy="407.18" r="1.55" fill="#1d93ad"/>
<circle cx="206.50" cy="421.14" r="1.55" fill="#1d93ad"/>
<line x1="202.50" y1="400.75" x2="210.50" y2="400.75" stroke="#222" stroke-width="0.6"/>
<line x1="206.50" y1="404.23" x2="206.50" y2="397.27" stroke="#222" stroke-width="0.6"/>
<line x1="204.50" y1="404.23" x2="208.50" y2="404.23" stroke="#222" stroke-width="0.6"/>
<line x1="204.50" y1="397.27" x2="208.50" y2="397.27" stroke="#222" stroke-width="0.6"/>
<circle cx="218.20" cy="413.83" r="1.55" fill="#f7a1a1"/>
<circle cx="214.30" cy="415.16" r="1.55" fill="#f7a1a1"/>
<circle cx="220.80" cy="417.15" r="1.55" fill="#f7a1a1"/>
<circle cx="215.60" cy="419.15" r="1.55" fill="#f7a1a1"/>
<circle cx="220.80" cy="422.47" r="1.55" fill="#f7a1a1"/>
<circle cx="215.60" cy="424.47" r="1.55" fill="#f7a1a1"/>
<circle cx="220.80" cy="427.13" r="1.55" fill="#f7a1a1"/>
<circle cx="215.60" cy="429.79" r="1.55" fill="#f7a1a1"/>
<circle cx="218.20" cy="434.44" r="1.55" fill="#f7a1a1"/>
<line x1="214.20" y1="422.62" x2="222.20" y2="422.62" stroke="#222" stroke-width="0.6"/>
<line x1="218.20" y1="424.95" x2="218.20" y2="420.30" stroke="#222" stroke-width="0.6"/>
<line x1="216.20" y1="424.95" x2="220.20" y2="424.95" stroke="#222" stroke-width="0.6"/>
<line x1="216.20" y1="420.30" x2="220.20" y2="420.30" stroke="#222" stroke-width="0.6"/>
<circle cx="229.70" cy="399.20" r="1.55" fill="#a57ac6"/>
<circle cx="227.10" cy="402.52" r="1.55" fill="#a57ac6"/>
<circle cx="232.30" cy="404.52" r="1.55" fill="#a57ac6"/>
<circle cx="227.10" cy="405.85" r="1.55" fill="#a57ac6"/>
<circle cx="229.70" cy="407.18" r="1.55" fill="#a57ac6"/>
<circle cx="225.80" cy="409.17" r="1.55" fill="#a57ac6"/>
<circle cx="229.70" cy="411.17" r="1.55" fill="#a57ac6"/>
<circle cx="232.30" cy="415.82" r="1.55" fill="#a57ac6"/>
<line x1="225.70" y1="406.93" x2="233.70" y2="406.93" stroke="#222" stroke-width="0.6"/>
<line x1="229.70" y1="408.76" x2="229.70" y2="405.10" stroke="#222" stroke-width="0.6"/>
<line x1="227.70" y1="408.76" x2="231.70" y2="408.76" stroke="#222" stroke-width="0.6"/>
<line x1="227.70" y1="405.10" x2="231.70" y2="405.10" stroke="#222" stroke-width="0.6"/>
<circle cx="248.20" cy="421.81" r="1.55" fill="#1d93ad"/>
<circle cx="244.30" cy="423.14" r="1.55" fill="#1d93ad"/>
<circle cx="250.80" cy="425.80" r="1.55" fill="#1d93ad"/>
<circle cx="245.60" cy="428.46" r="1.55" fill="#1d93ad"/>
<circle cx="250.80" cy="430.45" r="1.55" fill="#1d93ad"/>
<circle cx="245.60" cy="432.45" r="1.55" fill="#1d93ad"/>
<circle cx="250.80" cy="433.78" r="1.55" fill="#1d93ad"/>
<circle cx="248.20" cy="435.11" r="1.55" fill="#1d93ad"/>
<circle cx="244.30" cy="436.44" r="1.55" fill="#1d93ad"/>
<line x1="244.20" y1="429.72" x2="252.20" y2="429.72" stroke="#222" stroke-width="0.6"/>
<line x1="248.20" y1="431.47" x2="248.20" y2="427.96" stroke="#222" stroke-width="0.6"/>
<line x1="246.20" y1="431.47" x2="250.20" y2="431.47" stroke="#222" stroke-width="0.6"/>
<line x1="246.20" y1="427.96" x2="250.20" y2="427.96" stroke="#222" stroke-width="0.6"/>
<circle cx="259.40" cy="445.75" r="1.55" fill="#f7a1a1"/>
<circle cx="255.50" cy="446.41" r="1.55" fill="#f7a1a1"/>
<circle cx="263.30" cy="446.41" r="1.55" fill="#f7a1a1"/>
<circle cx="259.40" cy="447.08" r="1.55" fill="#f7a1a1"/>
<circle cx="259.40" cy="447.08" r="1.55" fill="#f7a1a1"/>
<circle cx="259.40" cy="447.75" r="1.55" fill="#f7a1a1"/>
<circle cx="259.40" cy="447.75" r="1.55" fill="#f7a1a1"/>
<circle cx="259.40" cy="448.41" r="1.55" fill="#f7a1a1"/>
<line x1="255.40" y1="447.08" x2="263.40" y2="447.08" stroke="#222" stroke-width="0.6"/>
<line x1="259.40" y1="447.39" x2="259.40" y2="446.77" stroke="#222" stroke-width="0.6"/>
<line x1="257.40" y1="447.39" x2="261.40" y2="447.39" stroke="#222" stroke-width="0.6"/>
<line x1="257.40" y1="446.77" x2="261.40" y2="446.77" stroke="#222" stroke-width="0.6"/>
<circle cx="270.30" cy="435.77" r="1.55" fill="#a57ac6"/>
<circle cx="266.40" cy="437.10" r="1.55" fill="#a57ac6"/>
<circle cx="274.20" cy="437.77" r="1.55" fill="#a57ac6"/>
<circle cx="270.30" cy="439.10" r="1.55" fill="#a57ac6"/>
<circle cx="270.30" cy="439.76" r="1.55" fill="#a57ac6"/>
<circle cx="266.40" cy="441.09" r="1.55" fill="#a57ac6"/>
<circle cx="274.20" cy="442.42" r="1.55" fill="#a57ac6"/>
<circle cx="270.30" cy="443.75" r="1.55" fill="#a57ac6"/>
<line x1="266.30" y1="439.60" x2="274.30" y2="439.60" stroke="#222" stroke-width="0.6"/>
<line x1="270.30" y1="440.56" x2="270.30" y2="438.64" stroke="#222" stroke-width="0.6"/>
<line x1="268.30" y1="440.56" x2="272.30" y2="440.56" stroke="#222" stroke-width="0.6"/>
<line x1="268.30" y1="438.64" x2="272.30" y2="438.64" stroke="#222" stroke-width="0.6"/>
<line x1="218.10" y1="452.40" x2="218.10" y2="455.70" stroke="#555" stroke-width="0.6"/>
<line x1="259.40" y1="452.40" x2="259.40" y2="455.70" stroke="#555" stroke-width="0.6"/>
<line x1="206.50" y1="370.20" x2="229.70" y2="370.20" stroke="#444" stroke-width="0.8"/>
<text x="218.10" y="368.30" font-size="6.6" text-anchor="middle" fill="#111">NS</text>
<line x1="206.50" y1="379.50" x2="218.20" y2="379.50" stroke="#444" stroke-width="0.8"/>
<text x="212.35" y="380.86" font-size="8.3" text-anchor="middle" fill="#111">**</text>
<line x1="218.20" y1="388.00" x2="229.70" y2="388.00" stroke="#444" stroke-width="0.8"/>
<text x="223.95" y="389.36" font-size="8.3" text-anchor="middle" fill="#111">*</text>
<line x1="248.20" y1="403.90" x2="270.30" y2="403.90" stroke="#444" stroke-width="0.8"/>
<text x="259.25" y="405.26" font-size="8.3" text-anchor="middle" fill="#111">**</text>
<line x1="248.20" y1="413.00" x2="259.40" y2="413.00" stroke="#444" stroke-width="0.8"/>
<text x="253.80" y="414.36" font-size="8.3" text-anchor="middle" fill="#111">****</text>
<line x1="259.40" y1="422.00" x2="270.30" y2="422.00" stroke="#444" stroke-width="0.8"/>
<text x="264.85" y="423.36" font-size="8.3" text-anchor="middle" fill="#111">**</text>
<text x="217.9" y="464.5" font-size="6.6" text-anchor="middle" fill="#1a1a1a">Tex<tspan font-size="5" dy="-2.8">term</tspan></text>
<text x="259.40" y="464.48" font-size="6.6" text-anchor="middle">Tpex</text>
<text transform="translate(168.3,417.4) rotate(-90)" font-size="6.6" text-anchor="middle" fill="#1a1a1a">CD45.1<tspan font-size="4.3" dy="-2.6">+</tspan><tspan dy="2.6">CD8</tspan><tspan font-size="4.3" dy="-2.6">+</tspan><tspan dy="2.6"> per</tspan></text>
<text transform="translate(175.3,417.4) rotate(-90)" font-size="6.6" text-anchor="middle" fill="#1a1a1a">gram (×10<tspan font-size="4.3" dy="-2.6">5</tspan><tspan dy="2.6">)</tspan></text>
<circle cx="276.90" cy="372.30" r="1.8" fill="#1d93ad"/>
<text x="280.50" y="374.70" font-size="6.6" fill="#1a1a1a">WT + <tspan font-style="italic">shCtrl</tspan></text>
<circle cx="276.90" cy="381.50" r="1.8" fill="#f7a1a1"/>
<text x="280.50" y="383.90" font-size="6.6" fill="#1a1a1a">KO + <tspan font-style="italic">shCtrl</tspan></text>
<circle cx="276.90" cy="391.00" r="1.8" fill="#a57ac6"/>
<text x="280.50" y="393.40" font-size="6.6" fill="#1a1a1a">KO + <tspan font-style="italic">shTox</tspan></text>
<text x="334.20" y="360.30" font-size="11.5" font-weight="bold" fill="#000">k</text>
<line x1="360.80" y1="378.10" x2="360.80" y2="460.00" stroke="#999" stroke-width="0.7"/>
<line x1="360.80" y1="460.00" x2="415.40" y2="460.00" stroke="#999" stroke-width="0.7"/>
<line x1="358.80" y1="460.00" x2="360.80" y2="460.00" stroke="#333" stroke-width="0.6"/>
<text x="355.80" y="462.38" font-size="6.6" text-anchor="end">0</text>
<line x1="358.80" y1="432.70" x2="360.80" y2="432.70" stroke="#333" stroke-width="0.6"/>
<text x="355.80" y="435.08" font-size="6.6" text-anchor="end">0.2</text>
<line x1="358.80" y1="405.40" x2="360.80" y2="405.40" stroke="#333" stroke-width="0.6"/>
<text x="355.80" y="407.78" font-size="6.6" text-anchor="end">0.4</text>
<line x1="358.80" y1="378.10" x2="360.80" y2="378.10" stroke="#333" stroke-width="0.6"/>
<text x="355.80" y="380.48" font-size="6.6" text-anchor="end">0.6</text>
<circle cx="371.70" cy="431.33" r="1.55" fill="#1d93ad"/>
<circle cx="369.10" cy="435.43" r="1.55" fill="#1d93ad"/>
<circle cx="374.30" cy="438.16" r="1.55" fill="#1d93ad"/>
<circle cx="369.10" cy="442.25" r="1.55" fill="#1d93ad"/>
<circle cx="374.30" cy="443.62" r="1.55" fill="#1d93ad"/>
<circle cx="371.70" cy="447.71" r="1.55" fill="#1d93ad"/>
<circle cx="367.80" cy="449.08" r="1.55" fill="#1d93ad"/>
<circle cx="374.30" cy="451.81" r="1.55" fill="#1d93ad"/>
<circle cx="371.70" cy="451.81" r="1.55" fill="#1d93ad"/>
<line x1="367.70" y1="443.47" x2="375.70" y2="443.47" stroke="#222" stroke-width="0.6"/>
<line x1="371.70" y1="445.91" x2="371.70" y2="441.02" stroke="#222" stroke-width="0.6"/>
<line x1="369.70" y1="445.91" x2="373.70" y2="445.91" stroke="#222" stroke-width="0.6"/>
<line x1="369.70" y1="441.02" x2="373.70" y2="441.02" stroke="#222" stroke-width="0.6"/>
<circle cx="388.10" cy="390.38" r="1.55" fill="#f7a1a1"/>
<circle cx="384.20" cy="390.38" r="1.55" fill="#f7a1a1"/>
<circle cx="390.70" cy="394.48" r="1.55" fill="#f7a1a1"/>
<circle cx="385.50" cy="398.57" r="1.55" fill="#f7a1a1"/>
<circle cx="390.70" cy="402.67" r="1.55" fill="#f7a1a1"/>
<circle cx="388.10" cy="408.13" r="1.55" fill="#f7a1a1"/>
<circle cx="385.50" cy="412.23" r="1.55" fill="#f7a1a1"/>
<circle cx="390.70" cy="416.32" r="1.55" fill="#f7a1a1"/>
<line x1="384.10" y1="401.65" x2="392.10" y2="401.65" stroke="#222" stroke-width="0.6"/>
<line x1="388.10" y1="405.14" x2="388.10" y2="398.15" stroke="#222" stroke-width="0.6"/>
<line x1="386.10" y1="405.14" x2="390.10" y2="405.14" stroke="#222" stroke-width="0.6"/>
<line x1="386.10" y1="398.15" x2="390.10" y2="398.15" stroke="#222" stroke-width="0.6"/>
<circle cx="404.20" cy="414.95" r="1.55" fill="#a57ac6"/>
<circle cx="400.30" cy="416.32" r="1.55" fill="#a57ac6"/>
<circle cx="406.80" cy="420.42" r="1.55" fill="#a57ac6"/>
<circle cx="401.60" cy="423.14" r="1.55" fill="#a57ac6"/>
<circle cx="406.80" cy="425.88" r="1.55" fill="#a57ac6"/>
<circle cx="401.60" cy="428.61" r="1.55" fill="#a57ac6"/>
<circle cx="401.60" cy="432.70" r="1.55" fill="#a57ac6"/>
<circle cx="406.80" cy="438.16" r="1.55" fill="#a57ac6"/>
<line x1="400.20" y1="425.02" x2="408.20" y2="425.02" stroke="#222" stroke-width="0.6"/>
<line x1="404.20" y1="427.85" x2="404.20" y2="422.20" stroke="#222" stroke-width="0.6"/>
<line x1="402.20" y1="427.85" x2="406.20" y2="427.85" stroke="#222" stroke-width="0.6"/>
<line x1="402.20" y1="422.20" x2="406.20" y2="422.20" stroke="#222" stroke-width="0.6"/>
<line x1="371.70" y1="367.20" x2="404.20" y2="367.20" stroke="#444" stroke-width="0.8"/>
<text x="387.95" y="368.56" font-size="8.3" text-anchor="middle" fill="#111">**</text>
<line x1="371.70" y1="376.10" x2="388.10" y2="376.10" stroke="#444" stroke-width="0.8"/>
<text x="379.90" y="377.46" font-size="8.3" text-anchor="middle" fill="#111">****</text>
<line x1="388.10" y1="383.90" x2="404.20" y2="383.90" stroke="#444" stroke-width="0.8"/>
<text x="396.15" y="385.26" font-size="8.3" text-anchor="middle" fill="#111">***</text>
<text x="337.70" y="423.10" font-size="6.4" text-anchor="middle" transform="rotate(-90 337.70 420.80)">Tumour weight at day 14 (g)</text>
<circle cx="418.20" cy="379.50" r="1.8" fill="#1d93ad"/>
<text x="421.80" y="381.90" font-size="6.6" fill="#1a1a1a">WT + <tspan font-style="italic">shCtrl</tspan></text>
<circle cx="418.20" cy="388.50" r="1.8" fill="#f7a1a1"/>
<text x="421.80" y="390.90" font-size="6.6" fill="#1a1a1a">KO + <tspan font-style="italic">shCtrl</tspan></text>
<circle cx="418.20" cy="397.50" r="1.8" fill="#a57ac6"/>
<text x="421.80" y="399.90" font-size="6.6" fill="#1a1a1a">KO + <tspan font-style="italic">shTox</tspan></text>
<text x="471.20" y="360.50" font-size="11.5" font-weight="bold" fill="#000">l</text>
<rect x="495.70" y="396.30" width="20.04" height="19.00" fill="#2d66ad"/>
<rect x="515.44" y="396.30" width="20.04" height="19.00" fill="#cf4a45"/>
<rect x="535.18" y="396.30" width="20.04" height="19.00" fill="#4390c6"/>
<rect x="554.92" y="396.30" width="20.04" height="19.00" fill="#b41f2f"/>
<rect x="574.66" y="396.30" width="20.04" height="19.00" fill="#2d66ad"/>
<rect x="594.40" y="396.30" width="20.04" height="19.00" fill="#b41f2f"/>
<rect x="614.14" y="396.30" width="20.04" height="19.00" fill="#d4e6f1"/>
<rect x="633.88" y="396.30" width="20.04" height="19.00" fill="#f5b597"/>
<rect x="495.70" y="415.00" width="20.04" height="19.00" fill="#ee9779"/>
<rect x="515.44" y="415.00" width="20.04" height="19.00" fill="#2d66ad"/>
<rect x="535.18" y="415.00" width="20.04" height="19.00" fill="#e06a54"/>
<rect x="554.92" y="415.00" width="20.04" height="19.00" fill="#2d66ad"/>
<rect x="574.66" y="415.00" width="20.04" height="19.00" fill="#f5b093"/>
<rect x="594.40" y="415.00" width="20.04" height="19.00" fill="#f5f5f5"/>
<rect x="614.14" y="415.00" width="20.04" height="19.00" fill="#b41f2f"/>
<rect x="633.88" y="415.00" width="20.04" height="19.00" fill="#2d66ad"/>
<rect x="495.70" y="433.70" width="20.04" height="19.00" fill="#b41f2f"/>
<rect x="515.44" y="433.70" width="20.04" height="19.00" fill="#4390c6"/>
<rect x="535.18" y="433.70" width="20.04" height="19.00" fill="#f3a584"/>
<rect x="554.92" y="433.70" width="20.04" height="19.00" fill="#d6e8f3"/>
<rect x="574.66" y="433.70" width="20.04" height="19.00" fill="#fbe1d2"/>
<rect x="594.40" y="433.70" width="20.04" height="19.00" fill="#edf2f7"/>
<rect x="614.14" y="433.70" width="20.04" height="19.00" fill="#da634f"/>
<rect x="633.88" y="433.70" width="20.04" height="19.00" fill="#3a7fbf"/>
<text x="508.07" y="460.88" font-size="6.6" text-anchor="end" transform="rotate(-45 508.07 458.50)">Low</text>
<text x="527.81" y="460.88" font-size="6.6" text-anchor="end" transform="rotate(-45 527.81 458.50)">High</text>
<text x="547.55" y="460.88" font-size="6.6" text-anchor="end" transform="rotate(-45 547.55 458.50)">Low</text>
<text x="567.29" y="460.88" font-size="6.6" text-anchor="end" transform="rotate(-45 567.29 458.50)">High</text>
<text x="587.03" y="460.88" font-size="6.6" text-anchor="end" transform="rotate(-45 587.03 458.50)">Low</text>
<text x="606.77" y="460.88" font-size="6.6" text-anchor="end" transform="rotate(-45 606.77 458.50)">High</text>
<text x="626.51" y="460.88" font-size="6.6" text-anchor="end" transform="rotate(-45 626.51 458.50)">Low</text>
<text x="646.25" y="460.88" font-size="6.6" text-anchor="end" transform="rotate(-45 646.25 458.50)">High</text>
<text x="657.40" y="463.18" font-size="6.6" font-style="italic">KLHL6</text>
<text x="655.80" y="405.18" font-size="6.6">Tpex</text>
<text x="655.80" y="412.08" font-size="6.6">signature</text>
<text x="655.8" y="423" font-size="6.5" fill="#1a1a1a">Tex<tspan font-size="5" dy="-2.8">term</tspan></text>
<text x="655.80" y="430.88" font-size="6.6">signature</text>
<text x="655.80" y="442.18" font-size="6.6">TOX</text>
<text x="655.80" y="449.08" font-size="6.6">signature</text>
<linearGradient id="cbar" x1="0" y1="0" x2="0" y2="1"><stop offset="0" stop-color="#b0102a"/><stop offset="0.2" stop-color="#ea5a3a"/><stop offset="0.38" stop-color="#fdb263"/><stop offset="0.5" stop-color="#fff4b0"/><stop offset="0.62" stop-color="#e6f3f6"/><stop offset="0.8" stop-color="#80b4d6"/><stop offset="1" stop-color="#2f4aa0"/></linearGradient>
<rect x="487.30" y="413.80" width="3.20" height="21.90" fill="url(#cbar)"/>
<text x="470.60" y="418.98" font-size="6.6">High</text>
<text x="470.60" y="435.38" font-size="6.6">Low</text>
<circle cx="515.50" cy="384.90" r="9.9" fill="#d5d5d5"/>
<circle cx="555.70" cy="384.90" r="9.9" fill="#d5d5d5"/>
<circle cx="594.90" cy="384.90" r="9.9" fill="#d5d5d5"/>
<circle cx="634.20" cy="384.90" r="9.9" fill="#d5d5d5"/>
<text x="515.50" y="371.58" font-size="6.6" text-anchor="middle">Melanoma</text>
<text x="555.70" y="364.38" font-size="6.6" text-anchor="middle">Renal</text>
<text x="555.70" y="371.58" font-size="6.6" text-anchor="middle">cancer</text>
<text x="594.90" y="364.38" font-size="6.6" text-anchor="middle">Breast</text>
<text x="594.90" y="371.58" font-size="6.6" text-anchor="middle">cancer</text>
<text x="634.20" y="364.38" font-size="6.6" text-anchor="middle">Nasopharyngeal</text>
<text x="634.20" y="371.58" font-size="6.6" text-anchor="middle">cancer</text>
<path d="M511.2,382.5 l1.2,-1.6 1.3,0.6 1.2,-1.3 1.3,0.9 1.4,-0.5 0.7,1.5 1.5,0.5 -0.2,1.5 1,1.2 -1.1,1.2 0.3,1.6 -1.5,0.5 -0.7,1.4 -1.5,-0.3 -1.2,1.1 -1.3,-0.9 -1.5,0.2 -0.5,-1.5 -1.4,-0.8 0.4,-1.5 -0.9,-1.3 1.1,-1 z" fill="#3a2418" stroke="#b8683a" stroke-width="0.7"/>
<path d="M553,379.8 c2.5,-1.6 5.5,-0.6 6,2.2 c0.4,2.5 -1.6,3 -1.2,4.6 c0.5,1.7 -0.6,3.6 -3,3.4 c-2.8,-0.2 -4.2,-2.6 -4.2,-5.2 c0,-2.2 0.8,-4 2.4,-5 z" fill="#e9a24f" stroke="#9a5a30" stroke-width="0.5"/>
<path d="M556.5,383.5 c1,1 1,2.5 0,3.5" fill="none" stroke="#b03a5a" stroke-width="0.8"/>
<path d="M592,378.6 c-0.8,2 -0.4,3.5 0.6,4.8 c-1.6,1.2 -1.8,3.2 -0.6,4.8 c1.6,1.8 4.8,1.6 5.6,-0.6 c0.6,-1.8 -0.4,-3.4 -2,-4.2 c0.4,-1.6 -0.6,-3.6 -2.2,-4.8 z" fill="#f2b75a" stroke="#c8873a" stroke-width="0.5"/>
<circle cx="594.3" cy="383.8" r="0.8" fill="#d24b4b"/><circle cx="595.5" cy="387.3" r="0.8" fill="#d24b4b"/>
<path d="M630.5,378.6 c3,-1.5 7,-0.5 7.6,3 c0.3,1.6 -0.3,2.6 -1,3.4 l0.2,6 l-5,0 l-0.2,-2 c-1.4,0.1 -2.4,-0.6 -2.4,-1.8 l-0.8,-0.2 l1,-1.8 c-0.6,-2.6 -0.2,-5.4 0.6,-6.6 z" fill="#f1ede6" stroke="#cfc6b8" stroke-width="0.4"/>
<path d="M632.2,384 c0.6,1.4 1.6,2.4 2.8,2.6" fill="none" stroke="#e58fa0" stroke-width="1"/>
</svg>
</body></html>
